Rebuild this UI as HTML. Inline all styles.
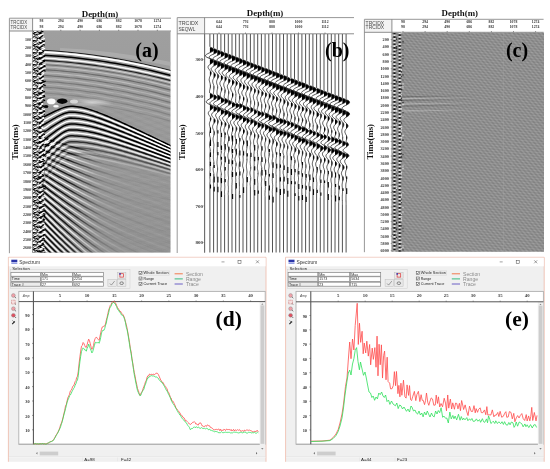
<!DOCTYPE html>
<html><head><meta charset="utf-8"><title>Seismic figure</title>
<style>
html,body{margin:0;padding:0;background:#fff;width:550px;height:469px;overflow:hidden}
svg{display:block;filter:blur(0.3px)}
</style></head><body>
<svg width="550" height="469" viewBox="0 0 550 469" shape-rendering="auto">
<rect x="9.4" y="18.2" width="23.2" height="12.8" fill="#f3f3f3"/>
<path d="M9.4,253.2 L9.4,18.2 L171,18.2" fill="none" stroke="#989898" stroke-width="1"/>
<line x1="9.4" y1="31" x2="171" y2="31" stroke="#808080" stroke-width="0.9"/>
<line x1="32.6" y1="18.2" x2="32.6" y2="252.8" stroke="#808080" stroke-width="0.9"/>
<text x="10.6" y="24.1" font-family="Liberation Sans, sans-serif" font-size="5.3" font-weight="normal" text-anchor="start" fill="#4a4a4a" textLength="16.5" lengthAdjust="spacingAndGlyphs">TRCIDX</text>
<text x="10.6" y="28.9" font-family="Liberation Sans, sans-serif" font-size="5.3" font-weight="normal" text-anchor="start" fill="#4a4a4a" textLength="16.5" lengthAdjust="spacingAndGlyphs">TRCIDX</text>
<text x="41.5" y="22.3" font-family="Liberation Serif, serif" font-size="3.8" font-weight="bold" text-anchor="middle" fill="#333" >98</text>
<text x="41.5" y="27.6" font-family="Liberation Serif, serif" font-size="3.8" font-weight="bold" text-anchor="middle" fill="#333" >98</text>
<line x1="41.5" y1="29.7" x2="41.5" y2="31" stroke="#555" stroke-width="0.6"/>
<text x="60.8" y="22.3" font-family="Liberation Serif, serif" font-size="3.8" font-weight="bold" text-anchor="middle" fill="#333" >294</text>
<text x="60.8" y="27.6" font-family="Liberation Serif, serif" font-size="3.8" font-weight="bold" text-anchor="middle" fill="#333" >294</text>
<line x1="60.8" y1="29.7" x2="60.8" y2="31" stroke="#555" stroke-width="0.6"/>
<text x="80.1" y="22.3" font-family="Liberation Serif, serif" font-size="3.8" font-weight="bold" text-anchor="middle" fill="#333" >490</text>
<text x="80.1" y="27.6" font-family="Liberation Serif, serif" font-size="3.8" font-weight="bold" text-anchor="middle" fill="#333" >490</text>
<line x1="80.1" y1="29.7" x2="80.1" y2="31" stroke="#555" stroke-width="0.6"/>
<text x="99.4" y="22.3" font-family="Liberation Serif, serif" font-size="3.8" font-weight="bold" text-anchor="middle" fill="#333" >686</text>
<text x="99.4" y="27.6" font-family="Liberation Serif, serif" font-size="3.8" font-weight="bold" text-anchor="middle" fill="#333" >686</text>
<line x1="99.4" y1="29.7" x2="99.4" y2="31" stroke="#555" stroke-width="0.6"/>
<text x="118.7" y="22.3" font-family="Liberation Serif, serif" font-size="3.8" font-weight="bold" text-anchor="middle" fill="#333" >882</text>
<text x="118.7" y="27.6" font-family="Liberation Serif, serif" font-size="3.8" font-weight="bold" text-anchor="middle" fill="#333" >882</text>
<line x1="118.7" y1="29.7" x2="118.7" y2="31" stroke="#555" stroke-width="0.6"/>
<text x="138" y="22.3" font-family="Liberation Serif, serif" font-size="3.8" font-weight="bold" text-anchor="middle" fill="#333" >1078</text>
<text x="138" y="27.6" font-family="Liberation Serif, serif" font-size="3.8" font-weight="bold" text-anchor="middle" fill="#333" >1078</text>
<line x1="138" y1="29.7" x2="138" y2="31" stroke="#555" stroke-width="0.6"/>
<text x="157.3" y="22.3" font-family="Liberation Serif, serif" font-size="3.8" font-weight="bold" text-anchor="middle" fill="#333" >1274</text>
<text x="157.3" y="27.6" font-family="Liberation Serif, serif" font-size="3.8" font-weight="bold" text-anchor="middle" fill="#333" >1274</text>
<line x1="157.3" y1="29.7" x2="157.3" y2="31" stroke="#555" stroke-width="0.6"/>
<text x="31.1" y="40.55" font-family="Liberation Serif, serif" font-size="4.0" font-weight="bold" text-anchor="end" fill="#333" >100</text>
<line x1="31.4" y1="38.65" x2="32.6" y2="38.65" stroke="#555" stroke-width="0.5"/>
<text x="31.1" y="48.9" font-family="Liberation Serif, serif" font-size="4.0" font-weight="bold" text-anchor="end" fill="#333" >200</text>
<line x1="31.4" y1="47" x2="32.6" y2="47" stroke="#555" stroke-width="0.5"/>
<text x="31.1" y="57.25" font-family="Liberation Serif, serif" font-size="4.0" font-weight="bold" text-anchor="end" fill="#333" >300</text>
<line x1="31.4" y1="55.35" x2="32.6" y2="55.35" stroke="#555" stroke-width="0.5"/>
<text x="31.1" y="65.6" font-family="Liberation Serif, serif" font-size="4.0" font-weight="bold" text-anchor="end" fill="#333" >400</text>
<line x1="31.4" y1="63.7" x2="32.6" y2="63.7" stroke="#555" stroke-width="0.5"/>
<text x="31.1" y="73.95" font-family="Liberation Serif, serif" font-size="4.0" font-weight="bold" text-anchor="end" fill="#333" >500</text>
<line x1="31.4" y1="72.05" x2="32.6" y2="72.05" stroke="#555" stroke-width="0.5"/>
<text x="31.1" y="82.3" font-family="Liberation Serif, serif" font-size="4.0" font-weight="bold" text-anchor="end" fill="#333" >600</text>
<line x1="31.4" y1="80.4" x2="32.6" y2="80.4" stroke="#555" stroke-width="0.5"/>
<text x="31.1" y="90.65" font-family="Liberation Serif, serif" font-size="4.0" font-weight="bold" text-anchor="end" fill="#333" >700</text>
<line x1="31.4" y1="88.75" x2="32.6" y2="88.75" stroke="#555" stroke-width="0.5"/>
<text x="31.1" y="99" font-family="Liberation Serif, serif" font-size="4.0" font-weight="bold" text-anchor="end" fill="#333" >800</text>
<line x1="31.4" y1="97.1" x2="32.6" y2="97.1" stroke="#555" stroke-width="0.5"/>
<text x="31.1" y="107.35" font-family="Liberation Serif, serif" font-size="4.0" font-weight="bold" text-anchor="end" fill="#333" >900</text>
<line x1="31.4" y1="105.45" x2="32.6" y2="105.45" stroke="#555" stroke-width="0.5"/>
<text x="31.1" y="115.7" font-family="Liberation Serif, serif" font-size="4.0" font-weight="bold" text-anchor="end" fill="#333" >1000</text>
<line x1="31.4" y1="113.8" x2="32.6" y2="113.8" stroke="#555" stroke-width="0.5"/>
<text x="31.1" y="124.05" font-family="Liberation Serif, serif" font-size="4.0" font-weight="bold" text-anchor="end" fill="#333" >1100</text>
<line x1="31.4" y1="122.15" x2="32.6" y2="122.15" stroke="#555" stroke-width="0.5"/>
<text x="31.1" y="132.4" font-family="Liberation Serif, serif" font-size="4.0" font-weight="bold" text-anchor="end" fill="#333" >1200</text>
<line x1="31.4" y1="130.5" x2="32.6" y2="130.5" stroke="#555" stroke-width="0.5"/>
<text x="31.1" y="140.75" font-family="Liberation Serif, serif" font-size="4.0" font-weight="bold" text-anchor="end" fill="#333" >1300</text>
<line x1="31.4" y1="138.85" x2="32.6" y2="138.85" stroke="#555" stroke-width="0.5"/>
<text x="31.1" y="149.1" font-family="Liberation Serif, serif" font-size="4.0" font-weight="bold" text-anchor="end" fill="#333" >1400</text>
<line x1="31.4" y1="147.2" x2="32.6" y2="147.2" stroke="#555" stroke-width="0.5"/>
<text x="31.1" y="157.45" font-family="Liberation Serif, serif" font-size="4.0" font-weight="bold" text-anchor="end" fill="#333" >1500</text>
<line x1="31.4" y1="155.55" x2="32.6" y2="155.55" stroke="#555" stroke-width="0.5"/>
<text x="31.1" y="165.8" font-family="Liberation Serif, serif" font-size="4.0" font-weight="bold" text-anchor="end" fill="#333" >1600</text>
<line x1="31.4" y1="163.9" x2="32.6" y2="163.9" stroke="#555" stroke-width="0.5"/>
<text x="31.1" y="174.15" font-family="Liberation Serif, serif" font-size="4.0" font-weight="bold" text-anchor="end" fill="#333" >1700</text>
<line x1="31.4" y1="172.25" x2="32.6" y2="172.25" stroke="#555" stroke-width="0.5"/>
<text x="31.1" y="182.5" font-family="Liberation Serif, serif" font-size="4.0" font-weight="bold" text-anchor="end" fill="#333" >1800</text>
<line x1="31.4" y1="180.6" x2="32.6" y2="180.6" stroke="#555" stroke-width="0.5"/>
<text x="31.1" y="190.85" font-family="Liberation Serif, serif" font-size="4.0" font-weight="bold" text-anchor="end" fill="#333" >1900</text>
<line x1="31.4" y1="188.95" x2="32.6" y2="188.95" stroke="#555" stroke-width="0.5"/>
<text x="31.1" y="199.2" font-family="Liberation Serif, serif" font-size="4.0" font-weight="bold" text-anchor="end" fill="#333" >2000</text>
<line x1="31.4" y1="197.3" x2="32.6" y2="197.3" stroke="#555" stroke-width="0.5"/>
<text x="31.1" y="207.55" font-family="Liberation Serif, serif" font-size="4.0" font-weight="bold" text-anchor="end" fill="#333" >2100</text>
<line x1="31.4" y1="205.65" x2="32.6" y2="205.65" stroke="#555" stroke-width="0.5"/>
<text x="31.1" y="215.9" font-family="Liberation Serif, serif" font-size="4.0" font-weight="bold" text-anchor="end" fill="#333" >2200</text>
<line x1="31.4" y1="214" x2="32.6" y2="214" stroke="#555" stroke-width="0.5"/>
<text x="31.1" y="224.25" font-family="Liberation Serif, serif" font-size="4.0" font-weight="bold" text-anchor="end" fill="#333" >2300</text>
<line x1="31.4" y1="222.35" x2="32.6" y2="222.35" stroke="#555" stroke-width="0.5"/>
<text x="31.1" y="232.6" font-family="Liberation Serif, serif" font-size="4.0" font-weight="bold" text-anchor="end" fill="#333" >2400</text>
<line x1="31.4" y1="230.7" x2="32.6" y2="230.7" stroke="#555" stroke-width="0.5"/>
<text x="31.1" y="240.95" font-family="Liberation Serif, serif" font-size="4.0" font-weight="bold" text-anchor="end" fill="#333" >2500</text>
<line x1="31.4" y1="239.05" x2="32.6" y2="239.05" stroke="#555" stroke-width="0.5"/>
<text x="31.1" y="249.3" font-family="Liberation Serif, serif" font-size="4.0" font-weight="bold" text-anchor="end" fill="#333" >2600</text>
<line x1="31.4" y1="247.4" x2="32.6" y2="247.4" stroke="#555" stroke-width="0.5"/>
<text x="100" y="16.5" font-family="Liberation Serif, serif" font-size="8.9" font-weight="bold" text-anchor="middle" fill="#111" >Depth(m)</text>
<text transform="translate(18.2,142) rotate(-90)" font-family="Liberation Serif, serif" font-size="8.7" font-weight="bold" text-anchor="middle" fill="#111">Time(ms)</text>
<clipPath id="ca"><rect x="32.6" y="31" width="137.9" height="221.6"/></clipPath>
<clipPath id="ca2"><path d="M44,66 Q100,66 171,84 L171,253 L44,253 Z"/></clipPath>
<linearGradient id="fadeK" gradientUnits="userSpaceOnUse" x1="44" y1="0" x2="171" y2="0"><stop offset="0" stop-color="#000" stop-opacity="1"/><stop offset="0.2" stop-color="#000" stop-opacity="0.8"/><stop offset="0.45" stop-color="#000" stop-opacity="0.16"/><stop offset="0.65" stop-color="#000" stop-opacity="0.05"/><stop offset="1" stop-color="#000" stop-opacity="0.03"/></linearGradient>
<linearGradient id="fadeW" gradientUnits="userSpaceOnUse" x1="44" y1="0" x2="171" y2="0"><stop offset="0" stop-color="#fff" stop-opacity="1"/><stop offset="0.2" stop-color="#fff" stop-opacity="0.8"/><stop offset="0.45" stop-color="#fff" stop-opacity="0.16"/><stop offset="0.65" stop-color="#fff" stop-opacity="0.05"/><stop offset="1" stop-color="#fff" stop-opacity="0.03"/></linearGradient>
<pattern id="chk" x="32.6" y="31" width="8" height="12" patternUnits="userSpaceOnUse"><rect width="8" height="12" fill="#8a8a8a"/><rect x="0" y="0" width="1" height="1" fill="#0c0c0c"/><rect x="1" y="0" width="1" height="1" fill="#f6f6f6"/><rect x="2" y="0" width="1" height="1" fill="#f6f6f6"/><rect x="3" y="0" width="1" height="1" fill="#f6f6f6"/><rect x="4" y="0" width="1" height="1" fill="#0c0c0c"/><rect x="7" y="0" width="1" height="1" fill="#f6f6f6"/><rect x="0" y="1" width="1" height="1" fill="#f6f6f6"/><rect x="1" y="1" width="1" height="1" fill="#0c0c0c"/><rect x="2" y="1" width="1" height="1" fill="#0c0c0c"/><rect x="3" y="1" width="1" height="1" fill="#0c0c0c"/><rect x="4" y="1" width="1" height="1" fill="#f6f6f6"/><rect x="5" y="1" width="1" height="1" fill="#0c0c0c"/><rect x="7" y="1" width="1" height="1" fill="#0c0c0c"/><rect x="0" y="2" width="1" height="1" fill="#0c0c0c"/><rect x="1" y="2" width="1" height="1" fill="#0c0c0c"/><rect x="3" y="2" width="1" height="1" fill="#f6f6f6"/><rect x="5" y="2" width="1" height="1" fill="#f6f6f6"/><rect x="6" y="2" width="1" height="1" fill="#0c0c0c"/><rect x="7" y="2" width="1" height="1" fill="#0c0c0c"/><rect x="0" y="3" width="1" height="1" fill="#f6f6f6"/><rect x="1" y="3" width="1" height="1" fill="#0c0c0c"/><rect x="3" y="3" width="1" height="1" fill="#0c0c0c"/><rect x="4" y="3" width="1" height="1" fill="#0c0c0c"/><rect x="6" y="3" width="1" height="1" fill="#0c0c0c"/><rect x="0" y="4" width="1" height="1" fill="#f6f6f6"/><rect x="1" y="4" width="1" height="1" fill="#f6f6f6"/><rect x="2" y="4" width="1" height="1" fill="#0c0c0c"/><rect x="3" y="4" width="1" height="1" fill="#f6f6f6"/><rect x="4" y="4" width="1" height="1" fill="#0c0c0c"/><rect x="5" y="4" width="1" height="1" fill="#0c0c0c"/><rect x="7" y="4" width="1" height="1" fill="#0c0c0c"/><rect x="1" y="5" width="1" height="1" fill="#0c0c0c"/><rect x="4" y="5" width="1" height="1" fill="#f6f6f6"/><rect x="6" y="5" width="1" height="1" fill="#f6f6f6"/><rect x="7" y="5" width="1" height="1" fill="#f6f6f6"/><rect x="0" y="6" width="1" height="1" fill="#0c0c0c"/><rect x="1" y="6" width="1" height="1" fill="#f6f6f6"/><rect x="3" y="6" width="1" height="1" fill="#0c0c0c"/><rect x="6" y="6" width="1" height="1" fill="#f6f6f6"/><rect x="7" y="6" width="1" height="1" fill="#0c0c0c"/><rect x="0" y="7" width="1" height="1" fill="#f6f6f6"/><rect x="1" y="7" width="1" height="1" fill="#f6f6f6"/><rect x="3" y="7" width="1" height="1" fill="#f6f6f6"/><rect x="4" y="7" width="1" height="1" fill="#0c0c0c"/><rect x="5" y="7" width="1" height="1" fill="#0c0c0c"/><rect x="6" y="7" width="1" height="1" fill="#f6f6f6"/><rect x="0" y="8" width="1" height="1" fill="#f6f6f6"/><rect x="1" y="8" width="1" height="1" fill="#f6f6f6"/><rect x="2" y="8" width="1" height="1" fill="#f6f6f6"/><rect x="3" y="8" width="1" height="1" fill="#f6f6f6"/><rect x="4" y="8" width="1" height="1" fill="#0c0c0c"/><rect x="5" y="8" width="1" height="1" fill="#f6f6f6"/><rect x="6" y="8" width="1" height="1" fill="#f6f6f6"/><rect x="7" y="8" width="1" height="1" fill="#f6f6f6"/><rect x="0" y="9" width="1" height="1" fill="#0c0c0c"/><rect x="1" y="9" width="1" height="1" fill="#0c0c0c"/><rect x="2" y="9" width="1" height="1" fill="#0c0c0c"/><rect x="4" y="9" width="1" height="1" fill="#0c0c0c"/><rect x="5" y="9" width="1" height="1" fill="#f6f6f6"/><rect x="6" y="9" width="1" height="1" fill="#0c0c0c"/><rect x="7" y="9" width="1" height="1" fill="#0c0c0c"/><rect x="0" y="10" width="1" height="1" fill="#0c0c0c"/><rect x="3" y="10" width="1" height="1" fill="#0c0c0c"/><rect x="4" y="10" width="1" height="1" fill="#f6f6f6"/><rect x="5" y="10" width="1" height="1" fill="#f6f6f6"/><rect x="0" y="11" width="1" height="1" fill="#f6f6f6"/><rect x="3" y="11" width="1" height="1" fill="#f6f6f6"/><rect x="5" y="11" width="1" height="1" fill="#f6f6f6"/><rect x="6" y="11" width="1" height="1" fill="#0c0c0c"/><rect x="7" y="11" width="1" height="1" fill="#0c0c0c"/></pattern>
<linearGradient id="bgA" x1="0" y1="0" x2="0" y2="1"><stop offset="0" stop-color="#9f9f9f"/><stop offset="0.5" stop-color="#999"/><stop offset="1" stop-color="#929292"/></linearGradient>
<rect x="32.6" y="31" width="137.9" height="221.6" fill="url(#bgA)"/>
<radialGradient id="haze"><stop offset="0" stop-color="#e0e0e0" stop-opacity="0.75"/><stop offset="1" stop-color="#e0e0e0" stop-opacity="0"/></radialGradient>
<g clip-path="url(#ca)">
<g clip-path="url(#ca2)">
<path d="M44,30 L171,83.34" stroke="#c4c4c4" stroke-width="1.1" opacity="0.1"/>
<path d="M44,33 L171,86.34" stroke="#767676" stroke-width="1.1" opacity="0.1"/>
<path d="M44,36 L171,89.34" stroke="#c4c4c4" stroke-width="1.1" opacity="0.1"/>
<path d="M44,39 L171,92.34" stroke="#767676" stroke-width="1.1" opacity="0.1"/>
<path d="M44,42 L171,95.34" stroke="#c4c4c4" stroke-width="1.1" opacity="0.1"/>
<path d="M44,45 L171,98.34" stroke="#767676" stroke-width="1.1" opacity="0.1"/>
<path d="M44,48 L171,101.34" stroke="#c4c4c4" stroke-width="1.1" opacity="0.1"/>
<path d="M44,51 L171,104.34" stroke="#767676" stroke-width="1.1" opacity="0.1"/>
<path d="M44,54 L171,107.34" stroke="#c4c4c4" stroke-width="1.1" opacity="0.1"/>
<path d="M44,57 L171,110.34" stroke="#767676" stroke-width="1.1" opacity="0.1"/>
<path d="M44,60 L171,113.34" stroke="#c4c4c4" stroke-width="1.1" opacity="0.1"/>
<path d="M44,63 L171,116.34" stroke="#767676" stroke-width="1.1" opacity="0.1"/>
<path d="M44,66 L171,119.34" stroke="#c4c4c4" stroke-width="1.1" opacity="0.1"/>
<path d="M44,69 L171,122.34" stroke="#767676" stroke-width="1.1" opacity="0.1"/>
<path d="M44,72 L171,125.34" stroke="#c4c4c4" stroke-width="1.1" opacity="0.1"/>
<path d="M44,75 L171,128.34" stroke="#767676" stroke-width="1.1" opacity="0.1"/>
<path d="M44,78 L171,131.34" stroke="#c4c4c4" stroke-width="1.1" opacity="0.1"/>
<path d="M44,81 L171,134.34" stroke="#767676" stroke-width="1.1" opacity="0.1"/>
<path d="M44,84 L171,137.34" stroke="#c4c4c4" stroke-width="1.1" opacity="0.1"/>
<path d="M44,87 L171,140.34" stroke="#767676" stroke-width="1.1" opacity="0.1"/>
<path d="M44,90 L171,143.34" stroke="#c4c4c4" stroke-width="1.1" opacity="0.1"/>
<path d="M44,93 L171,146.34" stroke="#767676" stroke-width="1.1" opacity="0.1"/>
<path d="M44,96 L171,149.34" stroke="#c4c4c4" stroke-width="1.1" opacity="0.1"/>
<path d="M44,99 L171,152.34" stroke="#767676" stroke-width="1.1" opacity="0.1"/>
<path d="M44,102 L171,155.34" stroke="#c4c4c4" stroke-width="1.1" opacity="0.1"/>
<path d="M44,105 L171,158.34" stroke="#767676" stroke-width="1.1" opacity="0.1"/>
<path d="M44,108 L171,161.34" stroke="#c4c4c4" stroke-width="1.1" opacity="0.1"/>
<path d="M44,111 L171,164.34" stroke="#767676" stroke-width="1.1" opacity="0.1"/>
<path d="M44,114 L171,167.34" stroke="#c4c4c4" stroke-width="1.1" opacity="0.1"/>
<path d="M44,117 L171,170.34" stroke="#767676" stroke-width="1.1" opacity="0.1"/>
<path d="M44,120 L171,173.34" stroke="#c4c4c4" stroke-width="1.1" opacity="0.1"/>
<path d="M44,123 L171,176.34" stroke="#767676" stroke-width="1.1" opacity="0.1"/>
<path d="M44,126 L171,179.34" stroke="#c4c4c4" stroke-width="1.1" opacity="0.1"/>
<path d="M44,129 L171,182.34" stroke="#767676" stroke-width="1.1" opacity="0.1"/>
<path d="M44,132 L171,185.34" stroke="#c4c4c4" stroke-width="1.1" opacity="0.1"/>
<path d="M44,135 L171,188.34" stroke="#767676" stroke-width="1.1" opacity="0.1"/>
<path d="M44,138 L171,191.34" stroke="#c4c4c4" stroke-width="1.1" opacity="0.1"/>
<path d="M44,141 L171,194.34" stroke="#767676" stroke-width="1.1" opacity="0.1"/>
<path d="M44,144 L171,197.34" stroke="#c4c4c4" stroke-width="1.1" opacity="0.1"/>
<path d="M44,147 L171,200.34" stroke="#767676" stroke-width="1.1" opacity="0.1"/>
<path d="M44,150 L171,203.34" stroke="#c4c4c4" stroke-width="1.1" opacity="0.1"/>
<path d="M44,153 L171,206.34" stroke="#767676" stroke-width="1.1" opacity="0.1"/>
<path d="M44,156 L171,209.34" stroke="#c4c4c4" stroke-width="1.1" opacity="0.1"/>
<path d="M44,159 L171,212.34" stroke="#767676" stroke-width="1.1" opacity="0.1"/>
<path d="M44,162 L171,215.34" stroke="#c4c4c4" stroke-width="1.1" opacity="0.1"/>
<path d="M44,165 L171,218.34" stroke="#767676" stroke-width="1.1" opacity="0.1"/>
<path d="M44,168 L171,221.34" stroke="#c4c4c4" stroke-width="1.1" opacity="0.1"/>
<path d="M44,171 L171,224.34" stroke="#767676" stroke-width="1.1" opacity="0.1"/>
<path d="M44,174 L171,227.34" stroke="#c4c4c4" stroke-width="1.1" opacity="0.1"/>
<path d="M44,177 L171,230.34" stroke="#767676" stroke-width="1.1" opacity="0.1"/>
<path d="M44,180 L171,233.34" stroke="#c4c4c4" stroke-width="1.1" opacity="0.1"/>
<path d="M44,183 L171,236.34" stroke="#767676" stroke-width="1.1" opacity="0.1"/>
<path d="M44,186 L171,239.34" stroke="#c4c4c4" stroke-width="1.1" opacity="0.1"/>
<path d="M44,189 L171,242.34" stroke="#767676" stroke-width="1.1" opacity="0.1"/>
<path d="M44,192 L171,245.34" stroke="#c4c4c4" stroke-width="1.1" opacity="0.1"/>
<path d="M44,195 L171,248.34" stroke="#767676" stroke-width="1.1" opacity="0.1"/>
<path d="M44,198 L171,251.34" stroke="#c4c4c4" stroke-width="1.1" opacity="0.1"/>
<path d="M44,201 L171,254.34" stroke="#767676" stroke-width="1.1" opacity="0.1"/>
<path d="M44,204 L171,257.34" stroke="#c4c4c4" stroke-width="1.1" opacity="0.1"/>
<path d="M44,207 L171,260.34" stroke="#767676" stroke-width="1.1" opacity="0.1"/>
<path d="M44,210 L171,263.34" stroke="#c4c4c4" stroke-width="1.1" opacity="0.1"/>
<path d="M44,213 L171,266.34" stroke="#767676" stroke-width="1.1" opacity="0.1"/>
<path d="M44,216 L171,269.34" stroke="#c4c4c4" stroke-width="1.1" opacity="0.1"/>
<path d="M44,219 L171,272.34" stroke="#767676" stroke-width="1.1" opacity="0.1"/>
<path d="M44,222 L171,275.34" stroke="#c4c4c4" stroke-width="1.1" opacity="0.1"/>
<path d="M44,225 L171,278.34" stroke="#767676" stroke-width="1.1" opacity="0.1"/>
<path d="M44,228 L171,281.34" stroke="#c4c4c4" stroke-width="1.1" opacity="0.1"/>
<path d="M44,231 L171,284.34" stroke="#767676" stroke-width="1.1" opacity="0.1"/>
<path d="M44,234 L171,287.34" stroke="#c4c4c4" stroke-width="1.1" opacity="0.1"/>
<path d="M44,237 L171,290.34" stroke="#767676" stroke-width="1.1" opacity="0.1"/>
<path d="M44,240 L171,293.34" stroke="#c4c4c4" stroke-width="1.1" opacity="0.1"/>
<path d="M44,243 L171,296.34" stroke="#767676" stroke-width="1.1" opacity="0.1"/>
<path d="M44,246 L171,299.34" stroke="#c4c4c4" stroke-width="1.1" opacity="0.1"/>
<path d="M44,249 L171,302.34" stroke="#767676" stroke-width="1.1" opacity="0.1"/>
<path d="M44,100 L171,72.06" stroke="#c0c0c0" stroke-width="1" opacity="0.07"/>
<path d="M44,103.2 L171,75.26" stroke="#7a7a7a" stroke-width="1" opacity="0.07"/>
<path d="M44,106.4 L171,78.46" stroke="#c0c0c0" stroke-width="1" opacity="0.07"/>
<path d="M44,109.6 L171,81.66" stroke="#7a7a7a" stroke-width="1" opacity="0.07"/>
<path d="M44,112.8 L171,84.86" stroke="#c0c0c0" stroke-width="1" opacity="0.07"/>
<path d="M44,116 L171,88.06" stroke="#7a7a7a" stroke-width="1" opacity="0.07"/>
<path d="M44,119.2 L171,91.26" stroke="#c0c0c0" stroke-width="1" opacity="0.07"/>
<path d="M44,122.4 L171,94.46" stroke="#7a7a7a" stroke-width="1" opacity="0.07"/>
<path d="M44,125.6 L171,97.66" stroke="#c0c0c0" stroke-width="1" opacity="0.07"/>
<path d="M44,128.8 L171,100.86" stroke="#7a7a7a" stroke-width="1" opacity="0.07"/>
<path d="M44,132 L171,104.06" stroke="#c0c0c0" stroke-width="1" opacity="0.07"/>
<path d="M44,135.2 L171,107.26" stroke="#7a7a7a" stroke-width="1" opacity="0.07"/>
<path d="M44,138.4 L171,110.46" stroke="#c0c0c0" stroke-width="1" opacity="0.07"/>
<path d="M44,141.6 L171,113.66" stroke="#7a7a7a" stroke-width="1" opacity="0.07"/>
<path d="M44,144.8 L171,116.86" stroke="#c0c0c0" stroke-width="1" opacity="0.07"/>
<path d="M44,148 L171,120.06" stroke="#7a7a7a" stroke-width="1" opacity="0.07"/>
<path d="M44,151.2 L171,123.26" stroke="#c0c0c0" stroke-width="1" opacity="0.07"/>
<path d="M44,154.4 L171,126.46" stroke="#7a7a7a" stroke-width="1" opacity="0.07"/>
<path d="M44,157.6 L171,129.66" stroke="#c0c0c0" stroke-width="1" opacity="0.07"/>
<path d="M44,160.8 L171,132.86" stroke="#7a7a7a" stroke-width="1" opacity="0.07"/>
<path d="M44,164 L171,136.06" stroke="#c0c0c0" stroke-width="1" opacity="0.07"/>
<path d="M44,167.2 L171,139.26" stroke="#7a7a7a" stroke-width="1" opacity="0.07"/>
<path d="M44,170.4 L171,142.46" stroke="#c0c0c0" stroke-width="1" opacity="0.07"/>
<path d="M44,173.6 L171,145.66" stroke="#7a7a7a" stroke-width="1" opacity="0.07"/>
<path d="M44,176.8 L171,148.86" stroke="#c0c0c0" stroke-width="1" opacity="0.07"/>
<path d="M44,180 L171,152.06" stroke="#7a7a7a" stroke-width="1" opacity="0.07"/>
<path d="M44,183.2 L171,155.26" stroke="#c0c0c0" stroke-width="1" opacity="0.07"/>
<path d="M44,186.4 L171,158.46" stroke="#7a7a7a" stroke-width="1" opacity="0.07"/>
<path d="M44,189.6 L171,161.66" stroke="#c0c0c0" stroke-width="1" opacity="0.07"/>
<path d="M44,192.8 L171,164.86" stroke="#7a7a7a" stroke-width="1" opacity="0.07"/>
<path d="M44,196 L171,168.06" stroke="#c0c0c0" stroke-width="1" opacity="0.07"/>
<path d="M44,199.2 L171,171.26" stroke="#7a7a7a" stroke-width="1" opacity="0.07"/>
<path d="M44,202.4 L171,174.46" stroke="#c0c0c0" stroke-width="1" opacity="0.07"/>
<path d="M44,205.6 L171,177.66" stroke="#7a7a7a" stroke-width="1" opacity="0.07"/>
<path d="M44,208.8 L171,180.86" stroke="#c0c0c0" stroke-width="1" opacity="0.07"/>
<path d="M44,212 L171,184.06" stroke="#7a7a7a" stroke-width="1" opacity="0.07"/>
<path d="M44,215.2 L171,187.26" stroke="#c0c0c0" stroke-width="1" opacity="0.07"/>
<path d="M44,218.4 L171,190.46" stroke="#7a7a7a" stroke-width="1" opacity="0.07"/>
<path d="M44,221.6 L171,193.66" stroke="#c0c0c0" stroke-width="1" opacity="0.07"/>
<path d="M44,224.8 L171,196.86" stroke="#7a7a7a" stroke-width="1" opacity="0.07"/>
<path d="M44,228 L171,200.06" stroke="#c0c0c0" stroke-width="1" opacity="0.07"/>
<path d="M44,231.2 L171,203.26" stroke="#7a7a7a" stroke-width="1" opacity="0.07"/>
<path d="M44,234.4 L171,206.46" stroke="#c0c0c0" stroke-width="1" opacity="0.07"/>
<path d="M44,237.6 L171,209.66" stroke="#7a7a7a" stroke-width="1" opacity="0.07"/>
<path d="M44,240.8 L171,212.86" stroke="#c0c0c0" stroke-width="1" opacity="0.07"/>
<path d="M44,244 L171,216.06" stroke="#7a7a7a" stroke-width="1" opacity="0.07"/>
<path d="M44,247.2 L171,219.26" stroke="#c0c0c0" stroke-width="1" opacity="0.07"/>
<path d="M44,250.4 L171,222.46" stroke="#7a7a7a" stroke-width="1" opacity="0.07"/>
<path d="M44,253.6 L171,225.66" stroke="#c0c0c0" stroke-width="1" opacity="0.07"/>
<path d="M44,256.8 L171,228.86" stroke="#7a7a7a" stroke-width="1" opacity="0.07"/>
<path d="M44,260 L171,232.06" stroke="#c0c0c0" stroke-width="1" opacity="0.07"/>
<path d="M44,263.2 L171,235.26" stroke="#7a7a7a" stroke-width="1" opacity="0.07"/>
<path d="M44,266.4 L171,238.46" stroke="#c0c0c0" stroke-width="1" opacity="0.07"/>
<path d="M44,269.6 L171,241.66" stroke="#7a7a7a" stroke-width="1" opacity="0.07"/>
<path d="M44,272.8 L171,244.86" stroke="#c0c0c0" stroke-width="1" opacity="0.07"/>
<path d="M44,276 L171,248.06" stroke="#7a7a7a" stroke-width="1" opacity="0.07"/>
<path d="M44,279.2 L171,251.26" stroke="#c0c0c0" stroke-width="1" opacity="0.07"/>
<path d="M44,282.4 L171,254.46" stroke="#7a7a7a" stroke-width="1" opacity="0.07"/>
<path d="M44,285.6 L171,257.66" stroke="#c0c0c0" stroke-width="1" opacity="0.07"/>
<path d="M44,288.8 L171,260.86" stroke="#7a7a7a" stroke-width="1" opacity="0.07"/>
<path d="M44,292 L171,264.06" stroke="#c0c0c0" stroke-width="1" opacity="0.07"/>
<path d="M44,295.2 L171,267.26" stroke="#7a7a7a" stroke-width="1" opacity="0.07"/>
<path d="M44,298.4 L171,270.46" stroke="#c0c0c0" stroke-width="1" opacity="0.07"/>
<path d="M44,301.6 L171,273.66" stroke="#7a7a7a" stroke-width="1" opacity="0.07"/>
<path d="M44,304.8 L171,276.86" stroke="#c0c0c0" stroke-width="1" opacity="0.07"/>
<path d="M44,308 L171,280.06" stroke="#7a7a7a" stroke-width="1" opacity="0.07"/>
<path d="M44,311.2 L171,283.26" stroke="#c0c0c0" stroke-width="1" opacity="0.07"/>
<path d="M44,314.4 L171,286.46" stroke="#7a7a7a" stroke-width="1" opacity="0.07"/>
<path d="M44,317.6 L171,289.66" stroke="#c0c0c0" stroke-width="1" opacity="0.07"/>
<path d="M44,320.8 L171,292.86" stroke="#7a7a7a" stroke-width="1" opacity="0.07"/>
</g>
<path d="M60,50 Q110,52 171,64" stroke="#b6b6b6" stroke-width="4" fill="none" opacity="0.6"/>
<path d="M43,50.24L47,50.48L51,50.74L55,51.02L59,51.34L63,51.67L67,52.04L71,52.43L75,52.84L79,53.28L83,53.75L87,54.24L91,54.76L95,55.31L99,55.88L103,56.47L107,57.09L111,57.74L115,58.42L119,59.11L123,59.84L127,60.59L131,61.37L135,62.17L139,63L143,63.85L147,64.73L151,65.64L155,66.57L159,67.53L163,68.51L167,69.52L171,70.56" stroke="#000" stroke-width="0.9" fill="none" opacity="0.9"/>
<path d="M43,51.94L47,52.18L51,52.44L55,52.72L59,53.04L63,53.37L67,53.74L71,54.13L75,54.54L79,54.98L83,55.45L87,55.94L91,56.46L95,57.01L99,57.58L103,58.17L107,58.79L111,59.44L115,60.12L119,60.81L123,61.54L127,62.29L131,63.07L135,63.87L139,64.7L143,65.55L147,66.43L151,67.34L155,68.27L159,69.23L163,70.21L167,71.22L171,72.26" stroke="#fff" stroke-width="1.9" fill="none" opacity="1"/>
<path d="M43,55.14L47,55.38L51,55.64L55,55.92L59,56.24L63,56.57L67,56.94L71,57.33L75,57.74L79,58.18L83,58.65L87,59.14L91,59.66L95,60.21L99,60.78L103,61.37L107,61.99L111,62.64L115,63.32L119,64.01L123,64.74L127,65.49L131,66.27L135,67.07L139,67.9L143,68.75L147,69.63L151,70.54L155,71.47L159,72.43L163,73.41L167,74.42L171,75.46" stroke="#000" stroke-width="1.5" fill="none" opacity="1"/>
<path d="M43,58.04L47,58.28L51,58.54L55,58.82L59,59.14L63,59.47L67,59.84L71,60.23L75,60.64L79,61.08L83,61.55L87,62.04L91,62.56L95,63.11L99,63.68L103,64.27L107,64.89L111,65.54L115,66.22L119,66.91L123,67.64L127,68.39L131,69.17L135,69.97L139,70.8L143,71.65L147,72.53L151,73.44L155,74.37L159,75.33L163,76.31L167,77.32L171,78.36" stroke="#fff" stroke-width="1.5" fill="none" opacity="0.95"/>
<path d="M43,60.34L47,60.58L51,60.84L55,61.12L59,61.44L63,61.77L67,62.14L71,62.53L75,62.94L79,63.38L83,63.85L87,64.34L91,64.86L95,65.41L99,65.98L103,66.57L107,67.19L111,67.84L115,68.52L119,69.21L123,69.94L127,70.69L131,71.47L135,72.27L139,73.1L143,73.95L147,74.83L151,75.74L155,76.67L159,77.63L163,78.61L167,79.62L171,80.66" stroke="#000" stroke-width="1.1" fill="none" opacity="0.8"/>
<path d="M43,62.54L47,62.78L51,63.04L55,63.32L59,63.64L63,63.97L67,64.34L71,64.73L75,65.14L79,65.58L83,66.05L87,66.54L91,67.06L95,67.61L99,68.18L103,68.77L107,69.39L111,70.04L115,70.72L119,71.41L123,72.14L127,72.89L131,73.67L135,74.47L139,75.3L143,76.15L147,77.03L151,77.94L155,78.87L159,79.83L163,80.81L167,81.82L171,82.86" stroke="#fff" stroke-width="1.0" fill="none" opacity="0.55"/>
<path d="M43,64.64L47,64.88L51,65.14L55,65.42L59,65.74L63,66.07L67,66.44L71,66.83L75,67.24L79,67.68L83,68.15L87,68.64L91,69.16L95,69.71L99,70.28L103,70.87L107,71.49L111,72.14L115,72.82L119,73.51L123,74.24L127,74.99L131,75.77L135,76.57L139,77.4L143,78.25L147,79.13L151,80.04L155,80.97L159,81.93L163,82.91L167,83.92L171,84.96" stroke="#000" stroke-width="0.9" fill="none" opacity="0.35"/>
<path d="M43,66.74L47,66.98L51,67.24L55,67.52L59,67.84L63,68.17L67,68.54L71,68.93L75,69.34L79,69.78L83,70.25L87,70.74L91,71.26L95,71.81L99,72.38L103,72.97L107,73.59L111,74.24L115,74.92L119,75.61L123,76.34L127,77.09L131,77.87L135,78.67L139,79.5L143,80.35L147,81.23L151,82.14L155,83.07L159,84.03L163,85.01L167,86.02L171,87.06" stroke="#fff" stroke-width="1.2" fill="none" opacity="0.34"/>
<path d="M43,69.64L47,69.88L51,70.15L55,70.44L59,70.76L63,71.11L67,71.48L71,71.87L75,72.29L79,72.74L83,73.22L87,73.71L91,74.24L95,74.79L99,75.37L103,75.97L107,76.6L111,77.25L115,77.93L119,78.64L123,79.37L127,80.13L131,80.91L135,81.72L139,82.56L143,83.42L147,84.3L151,85.22L155,86.16L159,87.12L163,88.11L167,89.13L171,90.17" stroke="#000" stroke-width="1.2" fill="none" opacity="0.32"/>
<path d="M43,72.54L47,72.79L51,73.06L55,73.36L59,73.69L63,74.04L67,74.41L71,74.82L75,75.25L79,75.7L83,76.18L87,76.69L91,77.22L95,77.78L99,78.36L103,78.97L107,79.6L111,80.26L115,80.95L119,81.66L123,82.4L127,83.17L131,83.96L135,84.77L139,85.61L143,86.48L147,87.38L151,88.3L155,89.24L159,90.21L163,91.21L167,92.23L171,93.28" stroke="#fff" stroke-width="1.2" fill="none" opacity="0.3"/>
<path d="M43,75.44L47,75.69L51,75.97L55,76.28L59,76.61L63,76.97L67,77.35L71,77.76L75,78.2L79,78.66L83,79.15L87,79.66L91,80.2L95,80.76L99,81.35L103,81.97L107,82.61L111,83.28L115,83.97L119,84.69L123,85.43L127,86.21L131,87L135,87.82L139,88.67L143,89.55L147,90.45L151,91.37L155,92.33L159,93.3L163,94.31L167,95.34L171,96.39" stroke="#000" stroke-width="1.2" fill="none" opacity="0.27"/>
<path d="M43,78.34L47,78.6L51,78.89L55,79.2L59,79.54L63,79.9L67,80.29L71,80.71L75,81.15L79,81.62L83,82.11L87,82.63L91,83.17L95,83.75L99,84.34L103,84.97L107,85.61L111,86.29L115,86.99L119,87.71L123,88.47L127,89.24L131,90.05L135,90.88L139,91.73L143,92.61L147,93.52L151,94.45L155,95.41L159,96.39L163,97.4L167,98.44L171,99.5" stroke="#fff" stroke-width="1.2" fill="none" opacity="0.25"/>
<path d="M43,81.24L47,81.5L51,81.8L55,82.12L59,82.46L63,82.83L67,83.23L71,83.65L75,84.1L79,84.58L83,85.08L87,85.6L91,86.15L95,86.73L99,87.33L103,87.96L107,88.62L111,89.3L115,90.01L119,90.74L123,91.5L127,92.28L131,93.09L135,93.93L139,94.79L143,95.68L147,96.59L151,97.53L155,98.5L159,99.49L163,100.5L167,101.55L171,102.61" stroke="#000" stroke-width="1.2" fill="none" opacity="0.23"/>
<path d="M43,84.13L47,84.41L51,84.71L55,85.03L59,85.39L63,85.76L67,86.17L71,86.6L75,87.05L79,87.53L83,88.04L87,88.57L91,89.13L95,89.72L99,90.33L103,90.96L107,91.62L111,92.31L115,93.03L119,93.76L123,94.53L127,95.32L131,96.14L135,96.98L139,97.85L143,98.74L147,99.66L151,100.61L155,101.58L159,102.58L163,103.6L167,104.65L171,105.73" stroke="#fff" stroke-width="1.2" fill="none" opacity="0.21"/>
<path d="M43,87.03L47,87.31L51,87.62L55,87.95L59,88.31L63,88.7L67,89.11L71,89.54L75,90L79,90.49L83,91.01L87,91.54L91,92.11L95,92.7L99,93.32L103,93.96L107,94.63L111,95.32L115,96.04L119,96.79L123,97.56L127,98.36L131,99.18L135,100.03L139,100.91L143,101.81L147,102.73L151,103.69L155,104.67L159,105.67L163,106.7L167,107.76L171,108.84" stroke="#000" stroke-width="1.2" fill="none" opacity="0.19"/>
<path d="M43,89.93L47,90.22L51,90.53L55,90.87L59,91.24L63,91.63L67,92.04L71,92.49L75,92.96L79,93.45L83,93.97L87,94.52L91,95.09L95,95.69L99,96.31L103,96.96L107,97.63L111,98.33L115,99.06L119,99.81L123,100.59L127,101.4L131,102.23L135,103.08L139,103.96L143,104.87L147,105.81L151,106.77L155,107.75L159,108.76L163,109.8L167,110.86L171,111.95" stroke="#fff" stroke-width="1.2" fill="none" opacity="0.16"/>
<path d="M43,92.83L47,93.12L51,93.44L55,93.79L59,94.16L63,94.56L67,94.98L71,95.43L75,95.91L79,96.41L83,96.94L87,97.49L91,98.07L95,98.67L99,99.3L103,99.96L107,100.64L111,101.35L115,102.08L119,102.84L123,103.62L127,104.44L131,105.27L135,106.13L139,107.02L143,107.94L147,108.88L151,109.84L155,110.84L159,111.85L163,112.9L167,113.97L171,115.06" stroke="#000" stroke-width="1.2" fill="none" opacity="0.14"/>
<path d="M43,95.73L47,96.03L51,96.36L55,96.71L59,97.09L63,97.49L67,97.92L71,98.38L75,98.86L79,99.37L83,99.9L87,100.46L91,101.04L95,101.66L99,102.29L103,102.96L107,103.64L111,104.36L115,105.1L119,105.86L123,106.66L127,107.47L131,108.32L135,109.19L139,110.08L143,111L147,111.95L151,112.92L155,113.92L159,114.94L163,115.99L167,117.07L171,118.17" stroke="#fff" stroke-width="1.2" fill="none" opacity="0.12"/>
<path d="M43,98.63L47,98.93L51,99.27L55,99.63L59,100.01L63,100.42L67,100.86L71,101.32L75,101.81L79,102.33L83,102.87L87,103.43L91,104.02L95,104.64L99,105.28L103,105.95L107,106.65L111,107.37L115,108.12L119,108.89L123,109.69L127,110.51L131,111.36L135,112.24L139,113.14L143,114.07L147,115.02L151,116L155,117.01L159,118.04L163,119.09L167,120.18L171,121.28" stroke="#000" stroke-width="1.2" fill="none" opacity="0.1"/>
<path d="M44,138L47,138.98L50,139.95L53,140.91L56,141.85L59,142.77L62,143.69L65,144.58L68,145.47L71,146.34L74,147.19L77,148.03L80,148.86L83,149.67L86,150.47L89,151.26L92,152.03L95,152.79L98,153.53L101,154.26L104,154.97L107,155.67L110,156.36L113,157.03L116,157.69L119,158.33L122,158.96L125,159.57L128,160.18L131,160.76L134,161.34L137,161.89L140,162.44L143,162.97L146,163.49L149,163.99L152,164.48L155,164.95L158,165.41L161,165.85L164,166.29L167,166.7L170,167.11L173,167.49" stroke="url(#fadeK)" stroke-width="1.4" fill="none"/>
<path d="M44,141L47,142.07L50,143.12L53,144.15L56,145.17L59,146.18L62,147.17L65,148.14L68,149.1L71,150.04L74,150.97L77,151.89L80,152.78L83,153.67L86,154.53L89,155.38L92,156.22L95,157.04L98,157.85L101,158.64L104,159.41L107,160.17L110,160.92L113,161.64L116,162.36L119,163.06L122,163.74L125,164.41L128,165.06L131,165.69L134,166.32L137,166.92L140,167.51L143,168.09L146,168.65L149,169.19L152,169.72L155,170.24L158,170.73L161,171.22L164,171.69L167,172.14L170,172.58L173,173" stroke="url(#fadeW)" stroke-width="1.4" fill="none"/>
<path d="M44,144L47,145.15L50,146.28L53,147.4L56,148.5L59,149.58L62,150.65L65,151.7L68,152.73L71,153.75L74,154.75L77,155.74L80,156.7L83,157.66L86,158.59L89,159.51L92,160.41L95,161.3L98,162.16L101,163.02L104,163.85L107,164.67L110,165.47L113,166.26L116,167.03L119,167.78L122,168.52L125,169.24L128,169.94L131,170.63L134,171.3L137,171.95L140,172.59L143,173.21L146,173.81L149,174.4L152,174.97L155,175.52L158,176.06L161,176.58L164,177.09L167,177.57L170,178.05L173,178.5" stroke="url(#fadeK)" stroke-width="1.4" fill="none"/>
<path d="M44,147L47,148.23L50,149.45L53,150.65L56,151.83L59,152.99L62,154.13L65,155.26L68,156.37L71,157.46L74,158.53L77,159.59L80,160.63L83,161.65L86,162.65L89,163.63L92,164.6L95,165.55L98,166.48L101,167.4L104,168.29L107,169.17L110,170.03L113,170.87L116,171.7L119,172.51L122,173.29L125,174.07L128,174.82L131,175.56L134,176.28L137,176.98L140,177.66L143,178.33L146,178.97L149,179.6L152,180.21L155,180.81L158,181.39L161,181.94L164,182.49L167,183.01L170,183.51L173,184" stroke="url(#fadeW)" stroke-width="1.4" fill="none"/>
<path d="M44,150L47,151.32L50,152.61L53,153.89L56,155.15L59,156.39L62,157.62L65,158.82L68,160L71,161.17L74,162.31L77,163.44L80,164.55L83,165.64L86,166.71L89,167.76L92,168.79L95,169.8L98,170.8L101,171.77L104,172.73L107,173.67L110,174.59L113,175.49L116,176.37L119,177.23L122,178.07L125,178.9L128,179.7L131,180.49L134,181.26L137,182L140,182.73L143,183.44L146,184.14L149,184.81L152,185.46L155,186.1L158,186.71L161,187.31L164,187.89L167,188.44L170,188.98L173,189.51" stroke="url(#fadeK)" stroke-width="1.4" fill="none"/>
<path d="M44,153L47,154.4L50,155.78L53,157.14L56,158.48L59,159.8L62,161.1L65,162.38L68,163.64L71,164.87L74,166.09L77,167.29L80,168.47L83,169.63L86,170.77L89,171.88L92,172.98L95,174.06L98,175.12L101,176.15L104,177.17L107,178.17L110,179.15L113,180.1L116,181.04L119,181.96L122,182.85L125,183.73L128,184.58L131,185.42L134,186.24L137,187.03L140,187.81L143,188.56L146,189.3L149,190.01L152,190.71L155,191.38L158,192.04L161,192.67L164,193.29L167,193.88L170,194.45L173,195.01" stroke="url(#fadeW)" stroke-width="1.4" fill="none"/>
<path d="M44,156L47,157.48L50,158.95L53,160.39L56,161.81L59,163.2L62,164.58L65,165.94L68,167.27L71,168.58L74,169.87L77,171.14L80,172.39L83,173.62L86,174.82L89,176.01L92,177.17L95,178.31L98,179.43L101,180.53L104,181.61L107,182.67L110,183.7L113,184.72L116,185.71L119,186.68L122,187.63L125,188.56L128,189.47L131,190.35L134,191.22L137,192.06L140,192.88L143,193.68L146,194.46L149,195.22L152,195.95L155,196.67L158,197.36L161,198.03L164,198.69L167,199.32L170,199.92L173,200.51" stroke="url(#fadeK)" stroke-width="1.4" fill="none"/>
<path d="M44,159L47,160.57L50,162.11L53,163.63L56,165.13L59,166.61L62,168.06L65,169.49L68,170.9L71,172.29L74,173.65L77,174.99L80,176.31L83,177.61L86,178.88L89,180.13L92,181.36L95,182.57L98,183.75L101,184.91L104,186.05L107,187.17L110,188.26L113,189.33L116,190.38L119,191.41L122,192.41L125,193.39L128,194.35L131,195.28L134,196.2L137,197.09L140,197.95L143,198.8L146,199.62L149,200.42L152,201.2L155,201.96L158,202.69L161,203.4L164,204.09L167,204.75L170,205.39L173,206.01" stroke="url(#fadeW)" stroke-width="1.4" fill="none"/>
<path d="M44,162L47,163.65L50,165.28L53,166.88L56,168.46L59,170.01L62,171.54L65,173.05L68,174.54L71,176L74,177.43L77,178.85L80,180.23L83,181.6L86,182.94L89,184.26L92,185.55L95,186.82L98,188.07L101,189.29L104,190.49L107,191.67L110,192.82L113,193.95L116,195.05L119,196.13L122,197.19L125,198.22L128,199.23L131,200.21L134,201.18L137,202.11L140,203.03L143,203.92L146,204.78L149,205.63L152,206.45L155,207.24L158,208.01L161,208.76L164,209.49L167,210.19L170,210.86L173,211.52" stroke="url(#fadeK)" stroke-width="1.4" fill="none"/>
<path d="M44,165L47,166.73L50,168.44L53,170.13L56,171.78L59,173.42L62,175.03L65,176.61L68,178.17L71,179.7L74,181.21L77,182.7L80,184.16L83,185.59L86,187L89,188.38L92,189.74L95,191.08L98,192.39L101,193.67L104,194.93L107,196.17L110,197.38L113,198.56L116,199.72L119,200.86L122,201.97L125,203.05L128,204.11L131,205.15L134,206.16L137,207.14L140,208.1L143,209.04L146,209.95L149,210.83L152,211.69L155,212.53L158,213.34L161,214.12L164,214.89L167,215.62L170,216.33L173,217.02" stroke="url(#fadeW)" stroke-width="1.4" fill="none"/>
<path d="M44,168L47,169.82L50,171.61L53,173.37L56,175.11L59,176.82L62,178.51L65,180.17L68,181.8L71,183.41L74,184.99L77,186.55L80,188.08L83,189.58L86,191.06L89,192.51L92,193.93L95,195.33L98,196.7L101,198.05L104,199.37L107,200.67L110,201.93L113,203.18L116,204.39L119,205.58L122,206.74L125,207.88L128,208.99L131,210.08L134,211.14L137,212.17L140,213.17L143,214.16L146,215.11L149,216.04L152,216.94L155,217.82L158,218.66L161,219.49L164,220.29L167,221.06L170,221.8L173,222.52" stroke="url(#fadeK)" stroke-width="1.4" fill="none"/>
<path d="M44,171L47,172.9L50,174.77L53,176.62L56,178.44L59,180.23L62,181.99L65,183.73L68,185.44L71,187.12L74,188.77L77,190.4L80,192L83,193.57L86,195.12L89,196.63L92,198.12L95,199.59L98,201.02L101,202.43L104,203.81L107,205.16L110,206.49L113,207.79L116,209.06L119,210.31L122,211.52L125,212.71L128,213.87L131,215.01L134,216.12L137,217.2L140,218.25L143,219.27L146,220.27L149,221.24L152,222.19L155,223.1L158,223.99L161,224.85L164,225.69L167,226.49L170,227.27L173,228.02" stroke="url(#fadeW)" stroke-width="1.4" fill="none"/>
<path d="M44,174L47,175.98L50,177.94L53,179.87L56,181.76L59,183.63L62,185.47L65,187.29L68,189.07L71,190.83L74,192.55L77,194.25L80,195.92L83,197.56L86,199.17L89,200.76L92,202.31L95,203.84L98,205.34L101,206.81L104,208.25L107,209.66L110,211.05L113,212.4L116,213.73L119,215.03L122,216.3L125,217.54L128,218.76L131,219.94L134,221.1L137,222.22L140,223.32L143,224.39L146,225.43L149,226.45L152,227.43L155,228.39L158,229.32L161,230.22L164,231.09L167,231.93L170,232.74L173,233.53" stroke="url(#fadeK)" stroke-width="1.4" fill="none"/>
<path d="M44,177L47,179.07L50,181.1L53,183.11L56,185.09L59,187.04L62,188.96L65,190.85L68,192.7L71,194.53L74,196.33L77,198.1L80,199.84L83,201.55L86,203.23L89,204.88L92,206.5L95,208.1L98,209.66L101,211.19L104,212.69L107,214.16L110,215.61L113,217.02L116,218.4L119,219.76L122,221.08L125,222.37L128,223.64L131,224.87L134,226.08L137,227.25L140,228.4L143,229.51L146,230.6L149,231.65L152,232.68L155,233.68L158,234.64L161,235.58L164,236.49L167,237.36L170,238.21L173,239.03" stroke="url(#fadeW)" stroke-width="1.4" fill="none"/>
<path d="M44,180L47,182.15L50,184.27L53,186.36L56,188.42L59,190.44L62,192.44L65,194.4L68,196.34L71,198.24L74,200.11L77,201.95L80,203.76L83,205.54L86,207.29L89,209.01L92,210.7L95,212.35L98,213.98L101,215.57L104,217.13L107,218.66L110,220.16L113,221.63L116,223.07L119,224.48L122,225.86L125,227.2L128,228.52L131,229.8L134,231.06L137,232.28L140,233.47L143,234.63L146,235.76L149,236.86L152,237.93L155,238.96L158,239.97L161,240.94L164,241.89L167,242.8L170,243.68L173,244.53" stroke="url(#fadeK)" stroke-width="1.4" fill="none"/>
<path d="M44,183L47,185.23L50,187.44L53,189.61L56,191.74L59,193.85L62,195.92L65,197.96L68,199.97L71,201.95L74,203.89L77,205.81L80,207.69L83,209.53L86,211.35L89,213.13L92,214.89L95,216.61L98,218.29L101,219.95L104,221.57L107,223.16L110,224.72L113,226.25L116,227.74L119,229.21L122,230.64L125,232.03L128,233.4L131,234.73L134,236.04L137,237.31L140,238.54L143,239.75L146,240.92L149,242.06L152,243.17L155,244.25L158,245.29L161,246.31L164,247.29L167,248.23L170,249.15L173,250.03" stroke="url(#fadeW)" stroke-width="1.4" fill="none"/>
<path d="M44,186L47,188.32L50,190.6L53,192.85L56,195.07L59,197.25L62,199.4L65,201.52L68,203.61L71,205.66L74,207.67L77,209.66L80,211.61L83,213.52L86,215.41L89,217.26L92,219.08L95,220.86L98,222.61L101,224.33L104,226.01L107,227.66L110,229.28L113,230.86L116,232.41L119,233.93L122,235.41L125,236.86L128,238.28L131,239.67L134,241.02L137,242.33L140,243.62L143,244.87L146,246.08L149,247.27L152,248.42L155,249.53L158,250.62L161,251.67L164,252.69L167,253.67L170,254.62L173,255.54" stroke="url(#fadeK)" stroke-width="1.4" fill="none"/>
<path d="M44,189L47,191.4L50,193.77L53,196.1L56,198.4L59,200.66L62,202.89L65,205.08L68,207.24L71,209.36L74,211.45L77,213.51L80,215.53L83,217.52L86,219.47L89,221.38L92,223.27L95,225.11L98,226.93L101,228.71L104,230.45L107,232.16L110,233.84L113,235.48L116,237.08L119,238.66L122,240.19L125,241.7L128,243.16L131,244.6L134,246L137,247.36L140,248.69L143,249.99L146,251.25L149,252.47L152,253.66L155,254.82L158,255.94L161,257.03L164,258.09L167,259.1L170,260.09L173,261.04" stroke="url(#fadeW)" stroke-width="1.4" fill="none"/>
<path d="M44,192L47,194.48L50,196.93L53,199.35L56,201.72L59,204.06L62,206.37L65,208.64L68,210.87L71,213.07L74,215.23L77,217.36L80,219.45L83,221.51L86,223.53L89,225.51L92,227.46L95,229.37L98,231.25L101,233.09L104,234.89L107,236.66L110,238.39L113,240.09L116,241.75L119,243.38L122,244.97L125,246.53L128,248.04L131,249.53L134,250.98L137,252.39L140,253.76L143,255.1L146,256.41L149,257.68L152,258.91L155,260.11L158,261.27L161,262.4L164,263.49L167,264.54L170,265.56L173,266.54" stroke="url(#fadeK)" stroke-width="1.4" fill="none"/>
<path d="M44,195L47,197.57L50,200.1L53,202.59L56,205.05L59,207.47L62,209.85L65,212.2L68,214.51L71,216.78L74,219.01L77,221.21L80,223.37L83,225.5L86,227.58L89,229.63L92,231.65L95,233.62L98,235.56L101,237.47L104,239.33L107,241.16L110,242.95L113,244.71L116,246.42L119,248.11L122,249.75L125,251.36L128,252.93L131,254.46L134,255.96L137,257.41L140,258.84L143,260.22L146,261.57L149,262.88L152,264.16L155,265.39L158,266.6L161,267.76L164,268.89L167,269.98L170,271.03L173,272.04" stroke="url(#fadeW)" stroke-width="1.4" fill="none"/>
<path d="M44,198L47,200.65L50,203.26L53,205.84L56,208.37L59,210.87L62,213.33L65,215.76L68,218.14L71,220.49L74,222.79L77,225.06L80,227.29L83,229.49L86,231.64L89,233.76L92,235.84L95,237.88L98,239.88L101,241.85L104,243.77L107,245.66L110,247.51L113,249.32L116,251.09L119,252.83L122,254.53L125,256.19L128,257.81L131,259.39L134,260.94L137,262.44L140,263.91L143,265.34L146,266.73L149,268.09L152,269.4L155,270.68L158,271.92L161,273.12L164,274.29L167,275.41L170,276.5L173,277.55" stroke="url(#fadeK)" stroke-width="1.4" fill="none"/>
<path d="M44,201L47,203.73L50,206.43L53,209.08L56,211.7L59,214.28L62,216.82L65,219.31L68,221.77L71,224.19L74,226.57L77,228.91L80,231.22L83,233.48L86,235.7L89,237.88L92,240.03L95,242.13L98,244.2L101,246.22L104,248.21L107,250.16L110,252.07L113,253.94L116,255.77L119,257.56L122,259.31L125,261.02L128,262.69L131,264.32L134,265.92L137,267.47L140,268.98L143,270.46L146,271.9L149,273.29L152,274.65L155,275.97L158,277.25L161,278.49L164,279.69L167,280.85L170,281.97L173,283.05" stroke="url(#fadeW)" stroke-width="1.4" fill="none"/>
<path d="M44,204L47,206.82L50,209.59L53,212.33L56,215.03L59,217.68L62,220.3L65,222.87L68,225.41L71,227.9L74,230.35L77,232.77L80,235.14L83,237.47L86,239.76L89,242.01L92,244.22L95,246.39L98,248.52L101,250.6L104,252.65L107,254.66L110,256.62L113,258.55L116,260.44L119,262.28L122,264.08L125,265.85L128,267.57L131,269.25L134,270.9L137,272.5L140,274.06L143,275.58L146,277.06L149,278.5L152,279.9L155,281.25L158,282.57L161,283.85L164,285.09L167,286.28L170,287.44L173,288.55" stroke="url(#fadeK)" stroke-width="1.4" fill="none"/>
<path d="M44,207L47,209.9L50,212.76L53,215.58L56,218.35L59,221.09L62,223.78L65,226.43L68,229.04L71,231.61L74,234.13L77,236.62L80,239.06L83,241.46L86,243.82L89,246.13L92,248.41L95,250.64L98,252.83L101,254.98L104,257.09L107,259.16L110,261.18L113,263.17L116,265.11L119,267.01L122,268.86L125,270.68L128,272.45L131,274.19L134,275.88L137,277.52L140,279.13L143,280.7L146,282.22L149,283.7L152,285.14L155,286.54L158,287.9L161,289.21L164,290.49L167,291.72L170,292.91L173,294.05" stroke="url(#fadeW)" stroke-width="1.4" fill="none"/>
<path d="M44,210L47,212.98L50,215.93L53,218.82L56,221.68L59,224.49L62,227.26L65,229.99L68,232.67L71,235.31L74,237.91L77,240.47L80,242.98L83,245.45L86,247.88L89,250.26L92,252.6L95,254.9L98,257.15L101,259.36L104,261.53L107,263.66L110,265.74L113,267.78L116,269.78L119,271.73L122,273.64L125,275.51L128,277.33L131,279.12L134,280.86L137,282.55L140,284.21L143,285.82L146,287.38L149,288.91L152,290.39L155,291.83L158,293.22L161,294.58L164,295.89L167,297.15L170,298.38L173,299.56" stroke="url(#fadeK)" stroke-width="1.4" fill="none"/>
<path d="M44,213L47,216.07L50,219.09L53,222.07L56,225.01L59,227.9L62,230.75L65,233.55L68,236.31L71,239.02L74,241.69L77,244.32L80,246.9L83,249.44L86,251.93L89,254.38L92,256.79L95,259.15L98,261.47L101,263.74L104,265.97L107,268.16L110,270.3L113,272.39L116,274.45L119,276.46L122,278.42L125,280.34L128,282.22L131,284.05L134,285.84L137,287.58L140,289.28L143,290.93L146,292.55L149,294.11L152,295.64L155,297.11L158,298.55L161,299.94L164,301.29L167,302.59L170,303.85L173,305.06" stroke="url(#fadeW)" stroke-width="1.4" fill="none"/>
<path d="M44,216L47,219.13L50,222.21L53,225.25L56,228.24L59,231.19L62,234.09L65,236.95L68,239.76L71,242.53L74,245.25L77,247.93L80,250.56L83,253.15L86,255.69L89,258.19L92,260.64L95,263.05L98,265.41L101,267.73L104,270L107,272.23L110,274.41L113,276.55L116,278.64L119,280.69L122,282.69L125,284.65L128,286.56L131,288.43L134,290.25L137,292.03L140,293.76L143,295.45L146,297.09L149,298.69L152,300.24L155,301.75L158,303.21L161,304.63L164,306L167,307.33L170,308.61L173,309.85" stroke="url(#fadeK)" stroke-width="1.4" fill="none"/>
<path d="M44,219L47,222.13L50,225.21L53,228.25L56,231.24L59,234.19L62,237.09L65,239.95L68,242.76L71,245.53L74,248.25L77,250.93L80,253.56L83,256.15L86,258.69L89,261.19L92,263.64L95,266.05L98,268.41L101,270.73L104,273L107,275.23L110,277.41L113,279.55L116,281.64L119,283.69L122,285.69L125,287.65L128,289.56L131,291.43L134,293.25L137,295.03L140,296.76L143,298.45L146,300.09L149,301.69L152,303.24L155,304.75L158,306.21L161,307.63L164,309L167,310.33L170,311.61L173,312.85" stroke="url(#fadeW)" stroke-width="1.4" fill="none"/>
<path d="M44,222L47,225.13L50,228.21L53,231.25L56,234.24L59,237.19L62,240.09L65,242.95L68,245.76L71,248.53L74,251.25L77,253.93L80,256.56L83,259.15L86,261.69L89,264.19L92,266.64L95,269.05L98,271.41L101,273.73L104,276L107,278.23L110,280.41L113,282.55L116,284.64L119,286.69L122,288.69L125,290.65L128,292.56L131,294.43L134,296.25L137,298.03L140,299.76L143,301.45L146,303.09L149,304.69L152,306.24L155,307.75L158,309.21L161,310.63L164,312L167,313.33L170,314.61L173,315.85" stroke="url(#fadeK)" stroke-width="1.4" fill="none"/>
<path d="M44,225L47,228.13L50,231.21L53,234.25L56,237.24L59,240.19L62,243.09L65,245.95L68,248.76L71,251.53L74,254.25L77,256.93L80,259.56L83,262.15L86,264.69L89,267.19L92,269.64L95,272.05L98,274.41L101,276.73L104,279L107,281.23L110,283.41L113,285.55L116,287.64L119,289.69L122,291.69L125,293.65L128,295.56L131,297.43L134,299.25L137,301.03L140,302.76L143,304.45L146,306.09L149,307.69L152,309.24L155,310.75L158,312.21L161,313.63L164,315L167,316.33L170,317.61L173,318.85" stroke="url(#fadeW)" stroke-width="1.4" fill="none"/>
<path d="M44,228L47,231.13L50,234.21L53,237.25L56,240.24L59,243.19L62,246.09L65,248.95L68,251.76L71,254.53L74,257.25L77,259.93L80,262.56L83,265.15L86,267.69L89,270.19L92,272.64L95,275.05L98,277.41L101,279.73L104,282L107,284.23L110,286.41L113,288.55L116,290.64L119,292.69L122,294.69L125,296.65L128,298.56L131,300.43L134,302.25L137,304.03L140,305.76L143,307.45L146,309.09L149,310.69L152,312.24L155,313.75L158,315.21L161,316.63L164,318L167,319.33L170,320.61L173,321.85" stroke="url(#fadeK)" stroke-width="1.4" fill="none"/>
<path d="M44,231L47,234.13L50,237.21L53,240.25L56,243.24L59,246.19L62,249.09L65,251.95L68,254.76L71,257.53L74,260.25L77,262.93L80,265.56L83,268.15L86,270.69L89,273.19L92,275.64L95,278.05L98,280.41L101,282.73L104,285L107,287.23L110,289.41L113,291.55L116,293.64L119,295.69L122,297.69L125,299.65L128,301.56L131,303.43L134,305.25L137,307.03L140,308.76L143,310.45L146,312.09L149,313.69L152,315.24L155,316.75L158,318.21L161,319.63L164,321L167,322.33L170,323.61L173,324.85" stroke="url(#fadeW)" stroke-width="1.4" fill="none"/>
<path d="M44,234L47,237.13L50,240.21L53,243.25L56,246.24L59,249.19L62,252.09L65,254.95L68,257.76L71,260.53L74,263.25L77,265.93L80,268.56L83,271.15L86,273.69L89,276.19L92,278.64L95,281.05L98,283.41L101,285.73L104,288L107,290.23L110,292.41L113,294.55L116,296.64L119,298.69L122,300.69L125,302.65L128,304.56L131,306.43L134,308.25L137,310.03L140,311.76L143,313.45L146,315.09L149,316.69L152,318.24L155,319.75L158,321.21L161,322.63L164,324L167,325.33L170,326.61L173,327.85" stroke="url(#fadeK)" stroke-width="1.4" fill="none"/>
<path d="M44,237L47,240.13L50,243.21L53,246.25L56,249.24L59,252.19L62,255.09L65,257.95L68,260.76L71,263.53L74,266.25L77,268.93L80,271.56L83,274.15L86,276.69L89,279.19L92,281.64L95,284.05L98,286.41L101,288.73L104,291L107,293.23L110,295.41L113,297.55L116,299.64L119,301.69L122,303.69L125,305.65L128,307.56L131,309.43L134,311.25L137,313.03L140,314.76L143,316.45L146,318.09L149,319.69L152,321.24L155,322.75L158,324.21L161,325.63L164,327L167,328.33L170,329.61L173,330.85" stroke="url(#fadeW)" stroke-width="1.4" fill="none"/>
<path d="M44,240L47,243.13L50,246.21L53,249.25L56,252.24L59,255.19L62,258.09L65,260.95L68,263.76L71,266.53L74,269.25L77,271.93L80,274.56L83,277.15L86,279.69L89,282.19L92,284.64L95,287.05L98,289.41L101,291.73L104,294L107,296.23L110,298.41L113,300.55L116,302.64L119,304.69L122,306.69L125,308.65L128,310.56L131,312.43L134,314.25L137,316.03L140,317.76L143,319.45L146,321.09L149,322.69L152,324.24L155,325.75L158,327.21L161,328.63L164,330L167,331.33L170,332.61L173,333.85" stroke="url(#fadeK)" stroke-width="1.4" fill="none"/>
<path d="M44,243L47,246.13L50,249.21L53,252.25L56,255.24L59,258.19L62,261.09L65,263.95L68,266.76L71,269.53L74,272.25L77,274.93L80,277.56L83,280.15L86,282.69L89,285.19L92,287.64L95,290.05L98,292.41L101,294.73L104,297L107,299.23L110,301.41L113,303.55L116,305.64L119,307.69L122,309.69L125,311.65L128,313.56L131,315.43L134,317.25L137,319.03L140,320.76L143,322.45L146,324.09L149,325.69L152,327.24L155,328.75L158,330.21L161,331.63L164,333L167,334.33L170,335.61L173,336.85" stroke="url(#fadeW)" stroke-width="1.4" fill="none"/>
<path d="M44,246L47,249.13L50,252.21L53,255.25L56,258.24L59,261.19L62,264.09L65,266.95L68,269.76L71,272.53L74,275.25L77,277.93L80,280.56L83,283.15L86,285.69L89,288.19L92,290.64L95,293.05L98,295.41L101,297.73L104,300L107,302.23L110,304.41L113,306.55L116,308.64L119,310.69L122,312.69L125,314.65L128,316.56L131,318.43L134,320.25L137,322.03L140,323.76L143,325.45L146,327.09L149,328.69L152,330.24L155,331.75L158,333.21L161,334.63L164,336L167,337.33L170,338.61L173,339.85" stroke="url(#fadeK)" stroke-width="1.4" fill="none"/>
<path d="M44,249L47,252.13L50,255.21L53,258.25L56,261.24L59,264.19L62,267.09L65,269.95L68,272.76L71,275.53L74,278.25L77,280.93L80,283.56L83,286.15L86,288.69L89,291.19L92,293.64L95,296.05L98,298.41L101,300.73L104,303L107,305.23L110,307.41L113,309.55L116,311.64L119,313.69L122,315.69L125,317.65L128,319.56L131,321.43L134,323.25L137,325.03L140,326.76L143,328.45L146,330.09L149,331.69L152,333.24L155,334.75L158,336.21L161,337.63L164,339L167,340.33L170,341.61L173,342.85" stroke="url(#fadeW)" stroke-width="1.4" fill="none"/>
<path d="M44,252L47,255.13L50,258.21L53,261.25L56,264.24L59,267.19L62,270.09L65,272.95L68,275.76L71,278.53L74,281.25L77,283.93L80,286.56L83,289.15L86,291.69L89,294.19L92,296.64L95,299.05L98,301.41L101,303.73L104,306L107,308.23L110,310.41L113,312.55L116,314.64L119,316.69L122,318.69L125,320.65L128,322.56L131,324.43L134,326.25L137,328.03L140,329.76L143,331.45L146,333.09L149,334.69L152,336.24L155,337.75L158,339.21L161,340.63L164,342L167,343.33L170,344.61L173,345.85" stroke="url(#fadeK)" stroke-width="1.4" fill="none"/>
<path d="M44,255L47,258.13L50,261.21L53,264.25L56,267.24L59,270.19L62,273.09L65,275.95L68,278.76L71,281.53L74,284.25L77,286.93L80,289.56L83,292.15L86,294.69L89,297.19L92,299.64L95,302.05L98,304.41L101,306.73L104,309L107,311.23L110,313.41L113,315.55L116,317.64L119,319.69L122,321.69L125,323.65L128,325.56L131,327.43L134,329.25L137,331.03L140,332.76L143,334.45L146,336.09L149,337.69L152,339.24L155,340.75L158,342.21L161,343.63L164,345L167,346.33L170,347.61L173,348.85" stroke="url(#fadeW)" stroke-width="1.4" fill="none"/>
<path d="M43,117.35L45,116.3L47,115.26L49,114.23L51,113.22L53,112.23L55,111.27L57,110.33L59,109.45L61,108.62L63,107.87L65,107.23L67,106.73L69,106.41L71,106.3L73,106.34L75,106.47L77,106.68L79,106.96L81,107.32L83,107.74L85,108.23L87,108.76L89,109.35L91,109.98L93,110.65L95,111.34L97,112.07L99,112.83L101,113.6L103,114.4L105,115.22L107,116.05L109,116.89L111,117.75L113,118.61L115,119.49L117,120.38L119,121.27L121,122.17L123,123.08L125,124L127,124.92L129,125.84L131,126.77L133,127.7L135,128.64L137,129.58L139,130.52L141,131.47L143,132.42L145,133.37L147,134.33L149,135.28L151,136.24L153,137.2L155,138.16L157,139.13L159,140.09L161,141.06L163,142.03L165,143L167,143.97L169,144.94L171,145.91L173,146.89" stroke="#000" stroke-width="1.5" fill="none" opacity="1"/>
<path d="M43,121.29L45,120.14L47,119.01L49,117.89L51,116.79L53,115.71L55,114.66L57,113.64L59,112.68L61,111.78L63,110.96L65,110.26L67,109.72L69,109.37L71,109.25L73,109.29L75,109.41L77,109.6L79,109.87L81,110.2L83,110.6L85,111.05L87,111.56L89,112.11L91,112.71L93,113.34L95,114L97,114.7L99,115.42L101,116.16L103,116.92L105,117.7L107,118.5L109,119.31L111,120.14L113,120.97L115,121.82L117,122.68L119,123.54L121,124.41L123,125.29L125,126.17L127,127.06L129,127.96L131,128.86L133,129.77L135,130.67L137,131.59L139,132.5L141,133.42L143,134.34L145,135.27L147,136.19L149,137.12L151,138.05L153,138.99L155,139.92L157,140.86L159,141.8L161,142.74L163,143.68L165,144.63L167,145.57L169,146.52L171,147.46L173,148.41" stroke="#fff" stroke-width="1.5" fill="none" opacity="1"/>
<path d="M43,125.22L45,123.99L47,122.76L49,121.55L51,120.36L53,119.19L55,118.05L57,116.96L59,115.91L61,114.93L63,114.05L65,113.3L67,112.71L69,112.33L71,112.2L73,112.24L75,112.35L77,112.53L79,112.77L81,113.09L83,113.46L85,113.89L87,114.36L89,114.88L91,115.45L93,116.05L95,116.68L97,117.34L99,118.03L101,118.74L103,119.47L105,120.22L107,120.98L109,121.76L111,122.55L113,123.36L115,124.17L117,125L119,125.83L121,126.68L123,127.52L125,128.38L127,129.24L129,130.11L131,130.98L133,131.86L135,132.74L137,133.62L139,134.51L141,135.4L143,136.29L145,137.19L147,138.09L149,138.99L151,139.9L153,140.8L155,141.71L157,142.62L159,143.54L161,144.45L163,145.37L165,146.28L167,147.2L169,148.12L171,149.04L173,149.96" stroke="#000" stroke-width="1.5" fill="none" opacity="1"/>
<path d="M43,129.16L45,127.83L47,126.51L49,125.21L51,123.93L53,122.67L55,121.45L57,120.27L59,119.14L61,118.09L63,117.14L65,116.33L67,115.7L69,115.29L71,115.15L73,115.18L75,115.29L77,115.45L79,115.69L81,115.98L83,116.33L85,116.73L87,117.18L89,117.67L91,118.2L93,118.77L95,119.37L97,120L99,120.66L101,121.33L103,122.03L105,122.75L107,123.48L109,124.23L111,124.99L113,125.77L115,126.55L117,127.35L119,128.15L121,128.96L123,129.78L125,130.61L127,131.44L129,132.28L131,133.12L133,133.97L135,134.82L137,135.68L139,136.54L141,137.4L143,138.27L145,139.14L147,140.01L149,140.89L151,141.77L153,142.65L155,143.53L157,144.41L159,145.3L161,146.19L163,147.08L165,147.97L167,148.86L169,149.75L171,150.65L173,151.55" stroke="#fff" stroke-width="1.5" fill="none" opacity="1"/>
<path d="M43,133.1L45,131.67L47,130.26L49,128.87L51,127.49L53,126.15L55,124.84L57,123.58L59,122.37L61,121.25L63,120.23L65,119.36L67,118.69L69,118.25L71,118.1L73,118.13L75,118.23L77,118.38L79,118.6L81,118.88L83,119.2L85,119.58L87,120L89,120.47L91,120.97L93,121.51L95,122.08L97,122.68L99,123.3L101,123.95L103,124.62L105,125.3L107,126.01L109,126.72L111,127.46L113,128.2L115,128.95L117,129.72L119,130.49L121,131.28L123,132.07L125,132.87L127,133.67L129,134.48L131,135.29L133,136.11L135,136.94L137,137.77L139,138.6L141,139.44L143,140.28L145,141.12L147,141.96L149,142.81L151,143.66L153,144.52L155,145.37L157,146.23L159,147.09L161,147.95L163,148.82L165,149.68L167,150.55L169,151.41L171,152.28L173,153.15" stroke="#000" stroke-width="1.5" fill="none" opacity="1"/>
<path d="M43,137.03L45,135.51L47,134.01L49,132.52L51,131.06L53,129.63L55,128.23L57,126.89L59,125.6L61,124.41L63,123.32L65,122.4L67,121.67L69,121.21L71,121.05L73,121.08L75,121.17L77,121.32L79,121.52L81,121.78L83,122.08L85,122.44L87,122.84L89,123.28L91,123.75L93,124.26L95,124.8L97,125.37L99,125.97L101,126.58L103,127.22L105,127.88L107,128.55L109,129.24L111,129.94L113,130.65L115,131.38L117,132.11L119,132.86L121,133.61L123,134.38L125,135.14L127,135.92L129,136.7L131,137.49L133,138.28L135,139.08L137,139.88L139,140.68L141,141.49L143,142.31L145,143.12L147,143.94L149,144.76L151,145.59L153,146.41L155,147.24L157,148.07L159,148.91L161,149.74L163,150.58L165,151.42L167,152.26L169,153.1L171,153.94L173,154.79" stroke="#fff" stroke-width="1.5" fill="none" opacity="1"/>
<path d="M43,140.97L45,139.36L47,137.76L49,136.18L51,134.63L53,133.11L55,131.63L57,130.2L59,128.83L61,127.56L63,126.41L65,125.43L67,124.66L69,124.17L71,124L73,124.03L75,124.11L77,124.25L79,124.44L81,124.68L83,124.97L85,125.3L87,125.68L89,126.09L91,126.54L93,127.03L95,127.54L97,128.08L99,128.64L101,129.23L103,129.84L105,130.47L107,131.11L109,131.77L111,132.44L113,133.13L115,133.82L117,134.53L119,135.25L121,135.97L123,136.71L125,137.45L127,138.19L129,138.95L131,139.71L133,140.47L135,141.24L137,142.01L139,142.79L141,143.58L143,144.36L145,145.15L147,145.94L149,146.74L151,147.54L153,148.34L155,149.14L157,149.94L159,150.75L161,151.56L163,152.37L165,153.18L167,154L169,154.81L171,155.63L173,156.45" stroke="#000" stroke-width="1.5" fill="none" opacity="1"/>
<path d="M43,144.91L45,143.2L47,141.51L49,139.84L51,138.2L53,136.59L55,135.02L57,133.51L59,132.06L61,130.72L63,129.5L65,128.46L67,127.65L69,127.13L71,126.95L73,126.98L75,127.05L77,127.18L79,127.36L81,127.59L83,127.86L85,128.17L87,128.53L89,128.92L91,129.34L93,129.8L95,130.29L97,130.8L99,131.34L101,131.9L103,132.48L105,133.07L107,133.69L109,134.32L111,134.96L113,135.62L115,136.29L117,136.97L119,137.66L121,138.35L123,139.06L125,139.77L127,140.49L129,141.22L131,141.95L133,142.69L135,143.43L137,144.17L139,144.93L141,145.68L143,146.44L145,147.2L147,147.97L149,148.74L151,149.51L153,150.28L155,151.06L157,151.84L159,152.62L161,153.4L163,154.19L165,154.97L167,155.76L169,156.55L171,157.34L173,158.14" stroke="#fff" stroke-width="1.5" fill="none" opacity="1"/>
<path d="M43,148.84L45,147.04L47,145.26L49,143.5L51,141.77L53,140.07L55,138.41L57,136.82L59,135.3L61,133.88L63,132.59L65,131.5L67,130.64L69,130.09L71,129.9L73,129.92L75,130L77,130.12L79,130.29L81,130.5L83,130.75L85,131.05L87,131.38L89,131.75L91,132.15L93,132.58L95,133.05L97,133.53L99,134.04L101,134.58L103,135.13L105,135.7L107,136.28L109,136.89L111,137.5L113,138.13L115,138.77L117,139.42L119,140.08L121,140.75L123,141.43L125,142.12L127,142.81L129,143.51L131,144.21L133,144.92L135,145.64L137,146.36L139,147.08L141,147.81L143,148.54L145,149.28L147,150.02L149,150.76L151,151.5L153,152.25L155,153L157,153.76L159,154.51L161,155.27L163,156.03L165,156.79L167,157.55L169,158.32L171,159.08L173,159.85" stroke="#000" stroke-width="1.5" fill="none" opacity="1"/>
<path d="M43,152.78L45,150.89L47,149.01L49,147.16L51,145.33L53,143.55L55,141.81L57,140.13L59,138.53L61,137.03L63,135.68L65,134.53L67,133.63L69,133.05L71,132.85L73,132.87L75,132.94L77,133.05L79,133.21L81,133.41L83,133.65L85,133.93L87,134.24L89,134.59L91,134.97L93,135.38L95,135.81L97,136.28L99,136.76L101,137.27L103,137.79L105,138.34L107,138.9L109,139.47L111,140.06L113,140.66L115,141.27L117,141.9L119,142.53L121,143.17L123,143.82L125,144.48L127,145.15L129,145.82L131,146.5L133,147.18L135,147.87L137,148.56L139,149.26L141,149.96L143,150.67L145,151.38L147,152.09L149,152.81L151,153.53L153,154.25L155,154.97L157,155.7L159,156.43L161,157.16L163,157.89L165,158.63L167,159.37L169,160.11L171,160.85L173,161.59" stroke="#fff" stroke-width="1.5" fill="none" opacity="1"/>
<path d="M43,156.72L45,154.73L47,152.76L49,150.82L51,148.9L53,147.03L55,145.2L57,143.44L59,141.76L61,140.19L63,138.77L65,137.56L67,136.62L69,136.01L71,135.8L73,135.82L75,135.89L77,135.99L79,136.14L81,136.32L83,136.55L85,136.81L87,137.11L89,137.44L91,137.79L93,138.18L95,138.59L97,139.03L99,139.49L101,139.97L103,140.47L105,140.99L107,141.52L109,142.07L111,142.63L113,143.21L115,143.79L117,144.39L119,145L121,145.61L123,146.24L125,146.87L127,147.51L129,148.15L131,148.8L133,149.46L135,150.12L137,150.79L139,151.46L141,152.14L143,152.81L145,153.5L147,154.19L149,154.88L151,155.57L153,156.26L155,156.96L157,157.66L159,158.37L161,159.07L163,159.78L165,160.49L167,161.2L169,161.92L171,162.63L173,163.35" stroke="#000" stroke-width="1.5" fill="none" opacity="0.89"/>
<path d="M43,160.65L45,158.57L47,156.51L49,154.47L51,152.47L53,150.51L55,148.59L57,146.75L59,144.99L61,143.35L63,141.86L65,140.59L67,139.61L69,138.97L71,138.75L73,138.77L75,138.83L77,138.93L79,139.07L81,139.24L83,139.45L85,139.7L87,139.98L89,140.29L91,140.63L93,140.99L95,141.38L97,141.8L99,142.23L101,142.69L103,143.16L105,143.66L107,144.16L109,144.69L111,145.22L113,145.77L115,146.33L117,146.9L119,147.48L121,148.07L123,148.67L125,149.27L127,149.88L129,150.5L131,151.13L133,151.76L135,152.39L137,153.03L139,153.68L141,154.33L143,154.98L145,155.64L147,156.3L149,156.97L151,157.63L153,158.3L155,158.98L157,159.65L159,160.33L161,161.01L163,161.69L165,162.38L167,163.07L169,163.75L171,164.44L173,165.14" stroke="#fff" stroke-width="1.5" fill="none" opacity="0.78"/>
<path d="M43,164.59L45,162.41L47,160.26L49,158.13L51,156.04L53,153.99L55,151.99L57,150.06L59,148.22L61,146.5L63,144.96L65,143.63L67,142.59L69,141.93L71,141.7L73,141.72L75,141.77L77,141.87L79,142L81,142.16L83,142.36L85,142.59L87,142.85L89,143.14L91,143.46L93,143.81L95,144.18L97,144.57L99,144.98L101,145.42L103,145.87L105,146.33L107,146.82L109,147.31L111,147.82L113,148.35L115,148.88L117,149.43L119,149.98L121,150.54L123,151.11L125,151.69L127,152.28L129,152.87L131,153.47L133,154.08L135,154.69L137,155.3L139,155.92L141,156.55L143,157.17L145,157.81L147,158.44L149,159.08L151,159.72L153,160.37L155,161.01L157,161.66L159,162.32L161,162.97L163,163.63L165,164.29L167,164.95L169,165.61L171,166.28L173,166.95" stroke="#000" stroke-width="1.5" fill="none" opacity="0.67"/>
<path d="M43,168.53L45,166.26L47,164.01L49,161.79L51,159.61L53,157.47L55,155.38L57,153.37L59,151.45L61,149.66L63,148.05L65,146.66L67,145.58L69,144.89L71,144.65L73,144.67L75,144.72L77,144.81L79,144.93L81,145.08L83,145.27L85,145.49L87,145.73L89,146.01L91,146.31L93,146.63L95,146.98L97,147.35L99,147.74L101,148.15L103,148.58L105,149.02L107,149.48L109,149.96L111,150.44L113,150.94L115,151.45L117,151.97L119,152.5L121,153.03L123,153.58L125,154.13L127,154.69L129,155.26L131,155.84L133,156.41L135,157L137,157.59L139,158.18L141,158.78L143,159.38L145,159.99L147,160.6L149,161.21L151,161.83L153,162.45L155,163.07L157,163.7L159,164.33L161,164.96L163,165.59L165,166.22L167,166.86L169,167.5L171,168.14L173,168.78" stroke="#fff" stroke-width="1.5" fill="none" opacity="0.56"/>
<path d="M43,172.46L45,170.1L47,167.76L49,165.45L51,163.17L53,160.94L55,158.77L57,156.68L59,154.68L61,152.82L63,151.14L65,149.69L67,148.57L69,147.85L71,147.6L73,147.62L75,147.67L77,147.75L79,147.86L81,148.01L83,148.18L85,148.38L87,148.62L89,148.87L91,149.16L93,149.46L95,149.79L97,150.14L99,150.51L101,150.9L103,151.3L105,151.73L107,152.16L109,152.61L111,153.07L113,153.55L115,154.03L117,154.52L119,155.03L121,155.54L123,156.06L125,156.59L127,157.13L129,157.67L131,158.22L133,158.77L135,159.33L137,159.89L139,160.46L141,161.04L143,161.61L145,162.2L147,162.78L149,163.37L151,163.96L153,164.55L155,165.15L157,165.75L159,166.35L161,166.96L163,167.57L165,168.18L167,168.79L169,169.4L171,170.02L173,170.63" stroke="#000" stroke-width="1.5" fill="none" opacity="0.45"/>
<path d="M43,176.4L45,173.94L47,171.51L49,169.11L51,166.74L53,164.42L55,162.17L57,159.99L59,157.91L61,155.98L63,154.23L65,152.73L67,151.56L69,150.81L71,150.55L73,150.57L75,150.61L77,150.69L79,150.79L81,150.93L83,151.09L85,151.29L87,151.5L89,151.75L91,152.01L93,152.3L95,152.61L97,152.94L99,153.29L101,153.66L103,154.04L105,154.44L107,154.85L109,155.28L111,155.71L113,156.16L115,156.62L117,157.1L119,157.57L121,158.06L123,158.56L125,159.06L127,159.57L129,160.09L131,160.62L133,161.14L135,161.68L137,162.22L139,162.76L141,163.31L143,163.86L145,164.42L147,164.98L149,165.54L151,166.11L153,166.68L155,167.25L157,167.83L159,168.4L161,168.98L163,169.57L165,170.15L167,170.74L169,171.33L171,171.92L173,172.51" stroke="#fff" stroke-width="1.5" fill="none" opacity="0.34"/>
<path d="M43,180.34L45,177.79L47,175.26L49,172.77L51,170.31L53,167.9L55,165.56L57,163.3L59,161.14L61,159.13L63,157.32L65,155.76L67,154.55L69,153.77L71,153.5L73,153.51L75,153.56L77,153.63L79,153.73L81,153.86L83,154.01L85,154.19L87,154.39L89,154.62L91,154.87L93,155.14L95,155.44L97,155.75L99,156.08L101,156.42L103,156.78L105,157.16L107,157.55L109,157.95L111,158.37L113,158.8L115,159.23L117,159.68L119,160.14L121,160.6L123,161.07L125,161.55L127,162.04L129,162.53L131,163.03L133,163.54L135,164.04L137,164.56L139,165.08L141,165.6L143,166.13L145,166.66L147,167.2L149,167.74L151,168.28L153,168.82L155,169.37L157,169.92L159,170.47L161,171.03L163,171.59L165,172.15L167,172.71L169,173.27L171,173.84L173,174.41" stroke="#000" stroke-width="1.5" fill="none" opacity="0.23"/>
<path d="M43,184.27L45,181.63L47,179.01L49,176.42L51,173.88L53,171.38L55,168.95L57,166.61L59,164.37L61,162.29L63,160.41L65,158.79L67,157.54L69,156.73L71,156.45L73,156.46L75,156.5L77,156.57L79,156.66L81,156.78L83,156.93L85,157.09L87,157.29L89,157.5L91,157.73L93,157.99L95,158.27L97,158.56L99,158.87L101,159.19L103,159.54L105,159.89L107,160.26L109,160.64L111,161.04L113,161.44L115,161.85L117,162.28L119,162.71L121,163.15L123,163.6L125,164.06L127,164.52L129,164.99L131,165.46L133,165.94L135,166.43L137,166.92L139,167.41L141,167.91L143,168.42L145,168.92L147,169.43L149,169.95L151,170.47L153,170.99L155,171.51L157,172.04L159,172.56L161,173.1L163,173.63L165,174.16L167,174.7L169,175.24L171,175.78L173,176.33" stroke="#fff" stroke-width="1.5" fill="none" opacity="0.2"/>
<ellipse cx="92" cy="102.5" rx="22" ry="4.5" fill="url(#haze)"/>
<ellipse cx="51.3" cy="101.4" rx="4.3" ry="2.8" fill="#fff" opacity="0.95"/>
<ellipse cx="62.2" cy="101.2" rx="5.2" ry="2.7" fill="#000" opacity="0.95"/>
<ellipse cx="74" cy="101.5" rx="4" ry="2" fill="#d8d8d8" opacity="0.95"/>
<ellipse cx="46" cy="106.5" rx="2.4" ry="1.6" fill="#000" opacity="0.95"/>
<ellipse cx="56" cy="106.2" rx="2.8" ry="1.3" fill="#fff" opacity="0.95"/>
<rect x="32.6" y="31" width="7.9" height="221.6" fill="url(#chk)"/>
<path d="M43.38,30.96 L39.56,33 L43.38,35.04" stroke="#000" stroke-width="1.3" fill="none"/>
<path d="M43.72,33.95 L38.89,35.56 L43.72,37.18" stroke="#fff" stroke-width="1.3" fill="none"/>
<path d="M43,35.47 L39.13,38.26 L43,41.06" stroke="#000" stroke-width="1.3" fill="none"/>
<path d="M44.84,38.38 L39.47,40.75 L44.84,43.11" stroke="#fff" stroke-width="1.3" fill="none"/>
<path d="M44.87,40.81 L40.02,43.04 L44.87,45.27" stroke="#000" stroke-width="1.3" fill="none"/>
<path d="M43.84,43.17 L38.89,45.68 L43.84,48.19" stroke="#fff" stroke-width="1.3" fill="none"/>
<path d="M42.83,45.6 L38.84,48.24 L42.83,50.88" stroke="#000" stroke-width="1.3" fill="none"/>
<path d="M45.1,48.26 L40.03,50.72 L45.1,53.18" stroke="#fff" stroke-width="1.3" fill="none"/>
<path d="M44.15,51.34 L39.92,53.47 L44.15,55.61" stroke="#000" stroke-width="1.3" fill="none"/>
<path d="M44.42,54.47 L38.94,56.23 L44.42,58" stroke="#fff" stroke-width="1.3" fill="none"/>
<path d="M45.12,56.21 L39.41,58.56 L45.12,60.92" stroke="#000" stroke-width="1.3" fill="none"/>
<path d="M43.86,58.92 L39.34,60.95 L43.86,62.97" stroke="#fff" stroke-width="1.3" fill="none"/>
<path d="M44.78,61.08 L40.07,63.5 L44.78,65.91" stroke="#000" stroke-width="1.3" fill="none"/>
<path d="M45.61,63.85 L40.19,66.25 L45.61,68.66" stroke="#fff" stroke-width="1.3" fill="none"/>
<path d="M45.59,65.87 L40.15,68.55 L45.59,71.24" stroke="#000" stroke-width="1.3" fill="none"/>
<path d="M44.15,68.5 L39.1,71.09 L44.15,73.69" stroke="#fff" stroke-width="1.3" fill="none"/>
<path d="M42.83,71.01 L38.89,73.64 L42.83,76.26" stroke="#000" stroke-width="1.3" fill="none"/>
<path d="M43.35,74.34 L39.92,76.43 L43.35,78.52" stroke="#fff" stroke-width="1.3" fill="none"/>
<path d="M43.84,76.07 L39.88,78.72 L43.84,81.37" stroke="#000" stroke-width="1.3" fill="none"/>
<path d="M43.66,78.49 L38.86,80.95 L43.66,83.41" stroke="#fff" stroke-width="1.3" fill="none"/>
<path d="M45.66,81.14 L40.17,83.35 L45.66,85.55" stroke="#000" stroke-width="1.3" fill="none"/>
<path d="M42.91,83.83 L38.91,86.15 L42.91,88.47" stroke="#fff" stroke-width="1.3" fill="none"/>
<path d="M43.08,86.03 L39.37,88.36 L43.08,90.7" stroke="#000" stroke-width="1.3" fill="none"/>
<path d="M43.33,88.68 L40.01,90.66 L43.33,92.63" stroke="#fff" stroke-width="1.3" fill="none"/>
<path d="M44.86,91.28 L39.33,93.43 L44.86,95.59" stroke="#000" stroke-width="1.3" fill="none"/>
<path d="M44.51,93.67 L39.63,95.95 L44.51,98.22" stroke="#fff" stroke-width="1.3" fill="none"/>
<path d="M45.16,96.4 L39.51,98.52 L45.16,100.63" stroke="#000" stroke-width="1.3" fill="none"/>
<path d="M43.04,98.38 L39.22,101.15 L43.04,103.92" stroke="#fff" stroke-width="1.3" fill="none"/>
<path d="M43.44,101.56 L38.82,103.66 L43.44,105.76" stroke="#000" stroke-width="1.3" fill="none"/>
<path d="M42.91,103.85 L39.66,106.21 L42.91,108.57" stroke="#fff" stroke-width="1.3" fill="none"/>
<path d="M44.28,106.03 L39.45,108.45 L44.28,110.86" stroke="#000" stroke-width="1.3" fill="none"/>
<path d="M44.87,109.23 L39.83,110.86 L44.87,112.48" stroke="#fff" stroke-width="1.3" fill="none"/>
<path d="M45.11,111.19 L40.15,113.09 L45.11,115" stroke="#000" stroke-width="1.3" fill="none"/>
<path d="M43.99,113.53 L39.25,115.57 L43.99,117.6" stroke="#fff" stroke-width="1.3" fill="none"/>
<path d="M43.79,116 L39.63,117.96 L43.79,119.92" stroke="#000" stroke-width="1.3" fill="none"/>
<path d="M44.05,118.1 L38.84,120.38 L44.05,122.67" stroke="#fff" stroke-width="1.3" fill="none"/>
<path d="M43.12,120.46 L39.11,123.02 L43.12,125.59" stroke="#000" stroke-width="1.3" fill="none"/>
<path d="M43.1,122.93 L39.41,125.37 L43.1,127.8" stroke="#fff" stroke-width="1.3" fill="none"/>
<path d="M43.3,125.03 L39.27,127.63 L43.3,130.23" stroke="#000" stroke-width="1.3" fill="none"/>
<path d="M44.46,128.09 L39.04,130.09 L44.46,132.09" stroke="#fff" stroke-width="1.3" fill="none"/>
<path d="M44.93,130.81 L39.43,132.68 L44.93,134.55" stroke="#000" stroke-width="1.3" fill="none"/>
<path d="M43.64,132.39 L39.07,134.95 L43.64,137.52" stroke="#fff" stroke-width="1.3" fill="none"/>
<path d="M42.87,135.09 L39.19,137.66 L42.87,140.22" stroke="#000" stroke-width="1.3" fill="none"/>
<path d="M44.58,138.49 L39.28,140.24 L44.58,142" stroke="#fff" stroke-width="1.3" fill="none"/>
<path d="M44.44,140.6 L39.18,142.62 L44.44,144.63" stroke="#000" stroke-width="1.3" fill="none"/>
<path d="M43.66,142.36 L39.37,145.07 L43.66,147.77" stroke="#fff" stroke-width="1.3" fill="none"/>
<path d="M43.33,144.7 L40.12,147.36 L43.33,150.02" stroke="#000" stroke-width="1.3" fill="none"/>
<path d="M44.46,147.44 L40.13,150.15 L44.46,152.87" stroke="#fff" stroke-width="1.3" fill="none"/>
<path d="M45.11,150.09 L39.97,152.49 L45.11,154.88" stroke="#000" stroke-width="1.3" fill="none"/>
<path d="M43.23,153.12 L39.28,155 L43.23,156.87" stroke="#fff" stroke-width="1.3" fill="none"/>
<path d="M43.93,154.67 L39.2,157.24 L43.93,159.81" stroke="#000" stroke-width="1.3" fill="none"/>
<path d="M45.32,156.76 L39.77,159.46 L45.32,162.17" stroke="#fff" stroke-width="1.3" fill="none"/>
<path d="M45.15,160.59 L39.61,162.2 L45.15,163.82" stroke="#000" stroke-width="1.3" fill="none"/>
<path d="M42.87,162.45 L39.22,164.85 L42.87,167.25" stroke="#fff" stroke-width="1.3" fill="none"/>
<path d="M44.39,165.03 L40.11,167.37 L44.39,169.7" stroke="#000" stroke-width="1.3" fill="none"/>
<path d="M43.86,167.6 L40.01,169.77 L43.86,171.94" stroke="#fff" stroke-width="1.3" fill="none"/>
<path d="M43.19,170.2 L39.08,172.44 L43.19,174.68" stroke="#000" stroke-width="1.3" fill="none"/>
<path d="M43.55,172.42 L39.91,175.13 L43.55,177.84" stroke="#fff" stroke-width="1.3" fill="none"/>
<path d="M44.15,175.46 L38.81,177.81 L44.15,180.17" stroke="#000" stroke-width="1.3" fill="none"/>
<path d="M42.51,178.61 L39.18,180.53 L42.51,182.45" stroke="#fff" stroke-width="1.3" fill="none"/>
<path d="M43.76,180.52 L39.46,183.05 L43.76,185.58" stroke="#000" stroke-width="1.3" fill="none"/>
<path d="M42.32,183.5 L38.98,185.25 L42.32,187" stroke="#fff" stroke-width="1.3" fill="none"/>
<path d="M45.73,185.79 L40,187.49 L45.73,189.19" stroke="#000" stroke-width="1.3" fill="none"/>
<path d="M43.26,187.97 L39.24,189.99 L43.26,192.01" stroke="#fff" stroke-width="1.3" fill="none"/>
<path d="M44.03,190.75 L39.31,192.58 L44.03,194.41" stroke="#000" stroke-width="1.3" fill="none"/>
<path d="M43.1,192.52 L39.58,194.98 L43.1,197.43" stroke="#fff" stroke-width="1.3" fill="none"/>
<path d="M42.46,195.36 L39.05,197.4 L42.46,199.45" stroke="#000" stroke-width="1.3" fill="none"/>
<path d="M44.57,197.41 L39.33,199.97 L44.57,202.53" stroke="#fff" stroke-width="1.3" fill="none"/>
<path d="M43.64,200.34 L39.32,202.54 L43.64,204.74" stroke="#000" stroke-width="1.3" fill="none"/>
<path d="M44.07,203.01 L39.77,205.16 L44.07,207.32" stroke="#fff" stroke-width="1.3" fill="none"/>
<path d="M44.37,205.82 L39.77,207.51 L44.37,209.19" stroke="#000" stroke-width="1.3" fill="none"/>
<path d="M44.34,207.24 L40.03,209.96 L44.34,212.69" stroke="#fff" stroke-width="1.3" fill="none"/>
<path d="M45.44,210.47 L39.91,212.39 L45.44,214.3" stroke="#000" stroke-width="1.3" fill="none"/>
<path d="M43.46,212.47 L39.94,214.87 L43.46,217.26" stroke="#fff" stroke-width="1.3" fill="none"/>
<path d="M45,215.12 L39.73,217.6 L45,220.08" stroke="#000" stroke-width="1.3" fill="none"/>
<path d="M43.09,218.53 L39.62,220.14 L43.09,221.74" stroke="#fff" stroke-width="1.3" fill="none"/>
<path d="M44.08,220.71 L38.86,222.42 L44.08,224.13" stroke="#000" stroke-width="1.3" fill="none"/>
<path d="M44.54,223.06 L39.05,224.68 L44.54,226.31" stroke="#fff" stroke-width="1.3" fill="none"/>
<path d="M43.5,224.98 L39.98,227.39 L43.5,229.8" stroke="#000" stroke-width="1.3" fill="none"/>
<path d="M45.29,227.53 L39.61,230.09 L45.29,232.65" stroke="#fff" stroke-width="1.3" fill="none"/>
<path d="M44.71,229.85 L39.52,232.31 L44.71,234.77" stroke="#000" stroke-width="1.3" fill="none"/>
<path d="M45.26,232.9 L40.11,234.58 L45.26,236.25" stroke="#fff" stroke-width="1.3" fill="none"/>
<path d="M44.63,235.08 L39.96,236.97 L44.63,238.86" stroke="#000" stroke-width="1.3" fill="none"/>
<path d="M43.51,236.77 L39.66,239.28 L43.51,241.78" stroke="#fff" stroke-width="1.3" fill="none"/>
<path d="M43.51,239.69 L39.36,241.71 L43.51,243.73" stroke="#000" stroke-width="1.3" fill="none"/>
<path d="M42.92,241.4 L39.5,244.17 L42.92,246.93" stroke="#fff" stroke-width="1.3" fill="none"/>
<path d="M44.17,244.18 L39.02,246.61 L44.17,249.04" stroke="#000" stroke-width="1.3" fill="none"/>
<path d="M44.48,247.09 L39.52,249.27 L44.48,251.45" stroke="#fff" stroke-width="1.3" fill="none"/>
<path d="M44.54,250.14 L39.01,251.85 L44.54,253.57" stroke="#000" stroke-width="1.3" fill="none"/>
</g>
<text x="147" y="57" font-family="Liberation Serif, serif" font-size="20" font-weight="bold" text-anchor="middle" fill="#000" >(a)</text>
<rect x="177.2" y="17.6" width="27.4" height="16.2" fill="#f3f3f3"/>
<path d="M177.2,253 L177.2,17.6 L354,17.6" fill="none" stroke="#989898" stroke-width="1"/>
<line x1="177.2" y1="33.8" x2="354" y2="33.8" stroke="#808080" stroke-width="0.9"/>
<line x1="204.6" y1="17.6" x2="204.6" y2="252.6" stroke="#808080" stroke-width="0.9"/>
<text x="178.4" y="25" font-family="Liberation Sans, sans-serif" font-size="6.2" font-weight="normal" text-anchor="start" fill="#4a4a4a" textLength="20" lengthAdjust="spacingAndGlyphs">TRCIDX</text>
<text x="178.4" y="30.9" font-family="Liberation Sans, sans-serif" font-size="6.2" font-weight="normal" text-anchor="start" fill="#4a4a4a" textLength="17" lengthAdjust="spacingAndGlyphs">SEQWL</text>
<text x="219" y="23.2" font-family="Liberation Serif, serif" font-size="3.8" font-weight="bold" text-anchor="middle" fill="#333" >644</text>
<text x="219" y="28.4" font-family="Liberation Serif, serif" font-size="3.8" font-weight="bold" text-anchor="middle" fill="#333" >644</text>
<line x1="219" y1="32.5" x2="219" y2="33.8" stroke="#555" stroke-width="0.6"/>
<text x="245.5" y="23.2" font-family="Liberation Serif, serif" font-size="3.8" font-weight="bold" text-anchor="middle" fill="#333" >776</text>
<text x="245.5" y="28.4" font-family="Liberation Serif, serif" font-size="3.8" font-weight="bold" text-anchor="middle" fill="#333" >776</text>
<line x1="245.5" y1="32.5" x2="245.5" y2="33.8" stroke="#555" stroke-width="0.6"/>
<text x="272" y="23.2" font-family="Liberation Serif, serif" font-size="3.8" font-weight="bold" text-anchor="middle" fill="#333" >888</text>
<text x="272" y="28.4" font-family="Liberation Serif, serif" font-size="3.8" font-weight="bold" text-anchor="middle" fill="#333" >888</text>
<line x1="272" y1="32.5" x2="272" y2="33.8" stroke="#555" stroke-width="0.6"/>
<text x="298.5" y="23.2" font-family="Liberation Serif, serif" font-size="3.8" font-weight="bold" text-anchor="middle" fill="#333" >1000</text>
<text x="298.5" y="28.4" font-family="Liberation Serif, serif" font-size="3.8" font-weight="bold" text-anchor="middle" fill="#333" >1000</text>
<line x1="298.5" y1="32.5" x2="298.5" y2="33.8" stroke="#555" stroke-width="0.6"/>
<text x="325" y="23.2" font-family="Liberation Serif, serif" font-size="3.8" font-weight="bold" text-anchor="middle" fill="#333" >1112</text>
<text x="325" y="28.4" font-family="Liberation Serif, serif" font-size="3.8" font-weight="bold" text-anchor="middle" fill="#333" >1112</text>
<line x1="325" y1="32.5" x2="325" y2="33.8" stroke="#555" stroke-width="0.6"/>
<text x="203.1" y="61.4" font-family="Liberation Serif, serif" font-size="5.0" font-weight="bold" text-anchor="end" fill="#333" >300</text>
<line x1="203.4" y1="59.5" x2="204.6" y2="59.5" stroke="#555" stroke-width="0.5"/>
<text x="203.1" y="98" font-family="Liberation Serif, serif" font-size="5.0" font-weight="bold" text-anchor="end" fill="#333" >400</text>
<line x1="203.4" y1="96.1" x2="204.6" y2="96.1" stroke="#555" stroke-width="0.5"/>
<text x="203.1" y="134.6" font-family="Liberation Serif, serif" font-size="5.0" font-weight="bold" text-anchor="end" fill="#333" >500</text>
<line x1="203.4" y1="132.7" x2="204.6" y2="132.7" stroke="#555" stroke-width="0.5"/>
<text x="203.1" y="171.2" font-family="Liberation Serif, serif" font-size="5.0" font-weight="bold" text-anchor="end" fill="#333" >600</text>
<line x1="203.4" y1="169.3" x2="204.6" y2="169.3" stroke="#555" stroke-width="0.5"/>
<text x="203.1" y="207.8" font-family="Liberation Serif, serif" font-size="5.0" font-weight="bold" text-anchor="end" fill="#333" >700</text>
<line x1="203.4" y1="205.9" x2="204.6" y2="205.9" stroke="#555" stroke-width="0.5"/>
<text x="203.1" y="244.4" font-family="Liberation Serif, serif" font-size="5.0" font-weight="bold" text-anchor="end" fill="#333" >800</text>
<line x1="203.4" y1="242.5" x2="204.6" y2="242.5" stroke="#555" stroke-width="0.5"/>
<text x="265.1" y="16.3" font-family="Liberation Serif, serif" font-size="8.9" font-weight="bold" text-anchor="middle" fill="#111" >Depth(m)</text>
<text transform="translate(184.8,142.1) rotate(-90)" font-family="Liberation Serif, serif" font-size="8.7" font-weight="bold" text-anchor="middle" fill="#111">Time(ms)</text>
<line x1="204.6" y1="33.8" x2="204.6" y2="252.6" stroke="#666" stroke-width="0.9"/>
<path d="M209.9,47.4L210.7,47.4L212.4,48.1L213.3,48.8L213.3,49.5L213.3,50.2L213.3,50.9L212.2,51.6L210.7,52.3L209.9,53.0ZM209.9,59.3L211.7,59.3L213.0,60.0L213.3,60.7L213.3,61.4L213.3,62.1L212.6,62.8L211.5,63.5L210.3,64.2L209.9,64.9ZM209.9,71.2L210.6,71.2L211.0,71.9L211.2,72.6L211.2,73.3L211.1,74.0L210.8,74.7L210.5,75.4L209.9,76.1ZM209.9,84.5L210.3,84.5L210.4,85.2L210.5,85.9L210.5,86.6L210.4,87.3L210.3,88.0L209.9,88.7ZM209.9,93.6L210.8,93.6L212.1,94.3L212.8,95.0L213.2,95.7L213.1,96.4L212.6,97.1L211.6,97.8L210.3,98.5L209.9,99.2ZM209.9,104.8L210.3,104.8L211.6,105.5L212.6,106.2L213.1,106.9L213.2,107.6L212.8,108.3L212.0,109.0L211.1,109.7L209.9,110.4ZM209.9,117.4L210.6,117.4L210.9,118.1L211.0,118.8L210.9,119.5L210.7,120.2L210.4,120.9L209.9,121.6ZM209.9,127.9L210.2,127.9L210.4,128.6L210.4,129.3L210.3,130.0L209.9,130.7ZM209.9,138.4L210.3,138.4L210.4,139.1L210.4,139.8L210.4,140.5L210.2,141.2L209.9,141.9ZM209.9,149.6L210.2,149.6L210.3,150.3L210.2,151.0L209.9,151.7ZM209.9,127.6h1.15v5.3h-1.15ZM209.9,140.1h1.15v5.9h-1.15ZM209.9,152.3h1.15v4.7h-1.15ZM209.9,161.7h1.15v4.3h-1.15ZM209.9,173.0h1.15v3.3h-1.15ZM209.9,184.4h1.15v4.0h-1.15ZM213.6,48.8L214.4,48.8L216.1,49.5L217.0,50.2L217.0,50.9L217.0,51.6L217.0,52.3L215.9,53.0L214.4,53.7L213.6,54.4ZM213.6,60.7L215.3,60.7L216.8,61.4L217.0,62.1L217.0,62.8L217.0,63.5L217.0,64.2L215.9,64.9L214.6,65.6L213.6,66.3ZM213.6,72.6L213.9,72.6L214.6,73.3L215.1,74.0L215.4,74.7L215.4,75.4L215.1,76.1L214.8,76.8L214.3,77.5L213.6,78.2ZM213.6,85.9L213.9,85.9L214.1,86.6L214.1,87.3L214.1,88.0L214.0,88.7L213.9,89.4L213.6,90.1ZM213.6,95.0L214.6,95.0L215.8,95.7L216.5,96.4L216.9,97.1L216.7,97.8L216.1,98.5L215.1,99.2L213.6,99.9ZM213.6,106.2L214.2,106.2L215.6,106.9L216.6,107.6L217.0,108.3L217.0,109.0L216.7,109.7L215.9,110.4L214.9,111.1L213.6,111.8ZM213.6,118.8L214.4,118.8L214.9,119.5L215.2,120.2L215.2,120.9L215.1,121.6L214.8,122.3L214.3,123.0L213.6,123.7ZM213.6,130.7L213.9,130.7L214.2,131.4L214.4,132.1L214.5,132.8L214.4,133.5L214.3,134.2L214.1,134.9L213.6,135.6ZM213.6,145.4L213.9,145.4L213.6,146.1ZM213.6,162.2L213.9,162.2L214.0,162.9L214.0,163.6L213.9,164.3L213.6,165.0ZM213.6,174.1L213.9,174.1L214.0,174.8L214.0,175.5L213.9,176.2L213.6,176.9ZM213.6,164.9h1.15v3.2h-1.15ZM213.6,176.6h1.15v5.9h-1.15ZM213.6,186.8h1.15v4.7h-1.15ZM217.3,50.2L217.9,50.2L219.6,50.9L220.4,51.6L220.7,52.3L220.7,53.0L220.5,53.7L219.5,54.4L218.1,55.1L217.3,55.8ZM217.3,62.1L218.7,62.1L220.1,62.8L220.7,63.5L220.7,64.2L220.7,64.9L220.5,65.6L219.4,66.3L218.3,67.0L217.3,67.7ZM217.3,74.0L217.7,74.0L218.2,74.7L218.6,75.4L218.7,76.1L218.7,76.8L218.4,77.5L218.0,78.2L217.6,78.9L217.3,79.6ZM217.3,86.6L217.7,86.6L217.7,87.3L217.7,88.0L217.3,88.7ZM217.3,95.0L217.6,95.0L219.0,95.7L220.0,96.4L220.6,97.1L220.7,97.8L220.4,98.5L219.6,99.2L218.4,99.9L217.3,100.6ZM217.3,106.9L218.1,106.9L219.4,107.6L220.3,108.3L220.6,109.0L220.6,109.7L220.1,110.4L219.3,111.1L218.4,111.8L217.3,112.5ZM217.3,119.5L217.7,119.5L218.0,120.2L218.2,120.9L218.3,121.6L218.2,122.3L218.0,123.0L217.8,123.7L217.6,124.4L217.3,125.1ZM217.3,167.8L217.6,167.8L217.6,168.5L217.6,169.2L217.6,169.9L217.3,170.6ZM217.3,130.2h1.15v3.2h-1.15ZM217.3,142.1h1.15v4.8h-1.15ZM217.3,152.1h1.15v3.2h-1.15ZM217.3,176.8h1.15v5.6h-1.15ZM217.3,186.8h1.15v5.5h-1.15ZM220.9,51.6L221.6,51.6L223.1,52.3L223.9,53.0L224.3,53.7L224.3,54.4L224.0,55.1L223.1,55.8L221.8,56.5L220.9,57.2ZM220.9,63.5L222.3,63.5L223.6,64.2L224.3,64.9L224.3,65.6L224.3,66.3L224.0,67.0L223.0,67.7L221.8,68.4L220.9,69.1ZM220.9,75.4L221.5,75.4L222.2,76.1L222.6,76.8L222.8,77.5L222.7,78.2L222.4,78.9L221.9,79.6L221.3,80.3L220.9,81.0ZM220.9,87.3L221.4,87.3L221.7,88.0L221.9,88.7L221.9,89.4L221.8,90.1L221.5,90.8L220.9,91.5ZM220.9,97.8L221.5,97.8L223.0,98.5L223.9,99.2L224.3,99.9L224.3,100.6L224.0,101.3L223.1,102.0L221.8,102.7L220.9,103.4ZM220.9,109.7L222.3,109.7L223.4,110.4L224.1,111.1L224.3,111.8L224.1,112.5L223.4,113.2L222.5,113.9L221.5,114.6L220.9,115.3ZM220.9,121.6L221.5,121.6L221.9,122.3L222.1,123.0L222.1,123.7L222.0,124.4L221.7,125.1L221.4,125.8L220.9,126.5ZM220.9,151.0L221.2,151.0L221.3,151.7L221.3,152.4L220.9,153.1ZM220.9,162.2L221.3,162.2L221.4,162.9L221.4,163.6L221.3,164.3L220.9,165.0ZM220.9,173.4L221.3,173.4L221.3,174.1L221.3,174.8L220.9,175.5ZM220.9,133.0h1.15v4.1h-1.15ZM220.9,145.4h1.15v4.5h-1.15ZM220.9,156.7h1.15v3.0h-1.15ZM220.9,178.1h1.15v5.1h-1.15ZM220.9,191.3h1.15v5.8h-1.15ZM224.6,53.0L225.3,53.0L227.1,53.7L228.0,54.4L228.0,55.1L228.0,55.8L228.0,56.5L227.2,57.2L225.7,57.9L224.6,58.6ZM224.6,64.9L226.3,64.9L227.8,65.6L228.0,66.3L228.0,67.0L228.0,67.7L228.0,68.4L226.8,69.1L225.4,69.8L224.6,70.5ZM224.6,76.8L225.5,76.8L226.1,77.5L226.4,78.2L226.4,78.9L226.2,79.6L225.8,80.3L225.3,81.0L224.6,81.7ZM224.6,89.4L225.1,89.4L225.2,90.1L225.3,90.8L225.2,91.5L225.1,92.2L225.0,92.9L224.6,93.6ZM224.6,98.5L225.1,98.5L226.7,99.2L227.6,99.9L228.0,100.6L228.0,101.3L227.8,102.0L226.8,102.7L225.5,103.4L224.6,104.1ZM224.6,110.4L226.1,110.4L227.4,111.1L228.0,111.8L228.0,112.5L228.0,113.2L227.4,113.9L226.4,114.6L225.3,115.3L224.6,116.0ZM224.6,122.3L225.3,122.3L225.8,123.0L226.0,123.7L226.1,124.4L225.9,125.1L225.6,125.8L225.2,126.5L224.6,127.2ZM224.6,134.9L225.0,134.9L225.1,135.6L225.1,136.3L225.1,137.0L225.0,137.7L224.9,138.4L224.6,139.1ZM224.6,148.2L225.0,148.2L225.0,148.9L225.1,149.6L225.0,150.3L224.6,151.0ZM224.6,160.1L225.0,160.1L225.0,160.8L224.9,161.5L224.6,162.2ZM224.6,132.4h1.15v2.7h-1.15ZM224.6,144.1h1.15v5.5h-1.15ZM224.6,156.5h1.15v5.7h-1.15ZM224.6,167.0h1.15v3.4h-1.15ZM224.6,179.1h1.15v3.1h-1.15ZM228.3,54.4L228.9,54.4L230.6,55.1L231.5,55.8L231.7,56.5L231.7,57.2L231.7,57.9L230.7,58.6L229.3,59.3L228.3,60.0ZM228.3,66.3L229.6,66.3L231.0,67.0L231.7,67.7L231.7,68.4L231.7,69.1L231.7,69.8L230.7,70.5L229.6,71.2L228.3,71.9ZM228.3,78.9L229.3,78.9L229.8,79.6L230.1,80.3L230.1,81.0L229.9,81.7L229.5,82.4L229.0,83.1L228.3,83.8ZM228.3,90.8L228.6,90.8L228.8,91.5L228.9,92.2L228.9,92.9L228.8,93.6L228.6,94.3L228.3,95.0ZM228.3,100.6L229.2,100.6L230.5,101.3L231.1,102.0L231.4,102.7L231.2,103.4L230.6,104.1L229.6,104.8L228.3,105.5ZM228.3,111.8L228.9,111.8L230.1,112.5L231.0,113.2L231.4,113.9L231.3,114.6L230.8,115.3L230.1,116.0L229.2,116.7L228.3,117.4ZM228.3,124.4L229.0,124.4L229.3,125.1L229.5,125.8L229.5,126.5L229.4,127.2L229.1,127.9L228.7,128.6L228.3,129.3ZM228.3,136.3L228.7,136.3L228.9,137.0L229.1,137.7L229.2,138.4L229.1,139.1L229.0,139.8L228.7,140.5L228.3,141.2ZM228.3,148.2L228.6,148.2L228.9,148.9L229.0,149.6L229.0,150.3L228.9,151.0L228.8,151.7L228.3,152.4ZM228.3,136.4h1.15v4.7h-1.15ZM228.3,146.7h1.15v3.6h-1.15ZM228.3,159.5h1.15v4.4h-1.15ZM232.0,55.8L232.6,55.8L234.4,56.5L235.4,57.2L235.4,57.9L235.4,58.6L235.4,59.3L234.7,60.0L233.1,60.7L232.0,61.4ZM232.0,67.7L233.5,67.7L235.1,68.4L235.4,69.1L235.4,69.8L235.4,70.5L235.4,71.2L234.7,71.9L233.3,72.6L232.0,73.3ZM232.0,80.3L233.1,80.3L233.7,81.0L234.0,81.7L234.1,82.4L233.9,83.1L233.5,83.8L232.9,84.5L232.3,85.2L232.0,85.9ZM232.0,92.9L232.6,92.9L232.9,93.6L233.1,94.3L233.1,95.0L233.0,95.7L232.8,96.4L232.5,97.1L232.0,97.8ZM232.0,102.7L233.8,102.7L234.7,103.4L235.4,104.1L235.4,104.8L235.1,105.5L234.3,106.2L233.0,106.9L232.0,107.6ZM232.0,113.9L233.1,113.9L234.3,114.6L235.0,115.3L235.3,116.0L235.1,116.7L234.6,117.4L233.8,118.1L232.9,118.8L232.0,119.5ZM232.0,126.5L232.3,126.5L232.7,127.2L232.9,127.9L233.0,128.6L233.0,129.3L232.9,130.0L232.7,130.7L232.4,131.4L232.0,132.1ZM232.0,141.2L232.3,141.2L232.4,141.9L232.5,142.6L232.5,143.3L232.5,144.0L232.4,144.7L232.0,145.4ZM232.0,154.5L232.3,154.5L232.4,155.2L232.5,155.9L232.4,156.6L232.4,157.3L232.0,158.0ZM232.0,167.1L232.3,167.1L232.4,167.8L232.4,168.5L232.4,169.2L232.0,169.9ZM232.0,135.6h1.15v6.0h-1.15ZM232.0,149.1h1.15v3.9h-1.15ZM232.0,160.2h1.15v4.0h-1.15ZM232.0,172.0h1.15v5.1h-1.15ZM232.0,194.1h1.15v4.9h-1.15ZM235.7,57.2L236.3,57.2L238.0,57.9L239.1,58.6L239.1,59.3L239.1,60.0L239.1,60.7L238.3,61.4L236.8,62.1L235.7,62.8ZM235.7,69.1L237.0,69.1L238.6,69.8L239.1,70.5L239.1,71.2L239.1,71.9L239.1,72.6L238.4,73.3L237.1,74.0L235.7,74.7ZM235.7,81.0L236.2,81.0L236.9,81.7L237.3,82.4L237.5,83.1L237.3,83.8L237.0,84.5L236.5,85.2L236.0,85.9L235.7,86.6ZM235.7,94.3L236.0,94.3L236.0,95.0L235.7,95.7ZM235.7,103.4L236.8,103.4L238.1,104.1L238.8,104.8L239.1,105.5L238.9,106.2L238.2,106.9L237.1,107.6L235.7,108.3ZM235.7,114.6L236.4,114.6L237.8,115.3L238.8,116.0L239.1,116.7L239.1,117.4L238.7,118.1L237.8,118.8L236.7,119.5L235.7,120.2ZM235.7,126.5L236.0,126.5L236.5,127.2L236.8,127.9L236.9,128.6L236.9,129.3L236.6,130.0L236.3,130.7L236.0,131.4L235.7,132.1ZM235.7,140.5L236.1,140.5L236.3,141.2L236.3,141.9L236.3,142.6L236.2,143.3L236.0,144.0L235.7,144.7ZM235.7,151.7L236.1,151.7L236.3,152.4L236.5,153.1L236.5,153.8L236.4,154.5L236.1,155.2L235.7,155.9ZM235.7,162.9L236.0,162.9L236.2,163.6L236.2,164.3L236.2,165.0L236.1,165.7L235.7,166.4ZM235.7,139.0h1.15v4.8h-1.15ZM235.7,148.7h1.15v5.3h-1.15ZM235.7,172.2h1.15v3.6h-1.15ZM235.7,183.1h1.15v5.4h-1.15ZM239.3,58.6L239.8,58.6L241.4,59.3L242.4,60.0L242.7,60.7L242.7,61.4L242.7,62.1L241.8,62.8L240.4,63.5L239.3,64.2ZM239.3,70.5L240.6,70.5L242.1,71.2L242.7,71.9L242.7,72.6L242.7,73.3L242.7,74.0L241.9,74.7L240.7,75.4L239.3,76.1ZM239.3,83.1L240.3,83.1L240.9,83.8L241.2,84.5L241.3,85.2L241.1,85.9L240.8,86.6L240.2,87.3L239.7,88.0L239.3,88.7ZM239.3,95.7L239.9,95.7L240.1,96.4L240.1,97.1L240.1,97.8L240.0,98.5L239.8,99.2L239.3,99.9ZM239.3,104.1L241.0,104.1L241.8,104.8L242.3,105.5L242.4,106.2L242.0,106.9L241.2,107.6L240.1,108.3L239.3,109.0ZM239.3,115.3L240.8,115.3L241.9,116.0L242.5,116.7L242.7,117.4L242.4,118.1L241.8,118.8L240.8,119.5L239.8,120.2L239.3,120.9ZM239.3,127.2L240.0,127.2L240.4,127.9L240.7,128.6L240.7,129.3L240.5,130.0L240.3,130.7L239.9,131.4L239.3,132.1ZM239.3,139.1L239.7,139.1L239.8,139.8L239.8,140.5L239.8,141.2L239.7,141.9L239.3,142.6ZM239.3,138.1h1.15v2.6h-1.15ZM239.3,150.6h1.15v5.0h-1.15ZM239.3,161.4h1.15v5.3h-1.15ZM239.3,171.5h1.15v4.1h-1.15ZM239.3,195.0h1.15v2.7h-1.15ZM243.0,60.0L243.5,60.0L245.1,60.7L246.2,61.4L246.4,62.1L246.4,62.8L246.4,63.5L245.6,64.2L244.2,64.9L243.0,65.6ZM243.0,71.9L244.4,71.9L245.9,72.6L246.4,73.3L246.4,74.0L246.4,74.7L246.3,75.4L245.2,76.1L244.1,76.8L243.0,77.5ZM243.0,84.5L243.8,84.5L244.3,85.2L244.7,85.9L244.9,86.6L244.8,87.3L244.5,88.0L244.1,88.7L243.5,89.4L243.0,90.1ZM243.0,97.1L243.7,97.1L244.0,97.8L244.1,98.5L244.1,99.2L243.9,99.9L243.6,100.6L243.0,101.3ZM243.0,105.5L243.3,105.5L244.8,106.2L245.7,106.9L246.3,107.6L246.3,108.3L245.9,109.0L245.0,109.7L243.7,110.4L243.0,111.1ZM243.0,117.4L244.6,117.4L245.7,118.1L246.3,118.8L246.4,119.5L246.0,120.2L245.3,120.9L244.4,121.6L243.4,122.3L243.0,123.0ZM243.0,129.3L243.7,129.3L244.2,130.0L244.5,130.7L244.5,131.4L244.3,132.1L244.0,132.8L243.6,133.5L243.0,134.2ZM243.0,141.2L243.6,141.2L243.8,141.9L243.9,142.6L243.8,143.3L243.6,144.0L243.4,144.7L243.0,145.4ZM243.0,169.2L243.5,169.2L243.6,169.9L243.6,170.6L243.5,171.3L243.4,172.0L243.0,172.7ZM243.0,140.8h1.15v3.5h-1.15ZM243.0,151.3h1.15v4.3h-1.15ZM243.0,187.3h1.15v5.8h-1.15ZM246.7,61.4L247.1,61.4L248.6,62.1L249.6,62.8L250.1,63.5L250.1,64.2L249.9,64.9L249.1,65.6L247.8,66.3L246.7,67.0ZM246.7,73.3L247.7,73.3L249.2,74.0L250.1,74.7L250.1,75.4L250.1,76.1L249.9,76.8L249.0,77.5L247.9,78.2L246.7,78.9ZM246.7,85.9L247.5,85.9L248.0,86.6L248.3,87.3L248.4,88.0L248.2,88.7L247.9,89.4L247.4,90.1L246.7,90.8ZM246.7,98.5L247.2,98.5L247.4,99.2L247.5,99.9L247.5,100.6L247.4,101.3L247.2,102.0L246.7,102.7ZM246.7,106.9L247.5,106.9L248.5,107.6L249.2,108.3L249.5,109.0L249.4,109.7L248.9,110.4L248.1,111.1L246.7,111.8ZM246.7,118.1L247.1,118.1L248.3,118.8L249.1,119.5L249.5,120.2L249.5,120.9L249.2,121.6L248.6,122.3L247.8,123.0L246.7,123.7ZM246.7,130.7L247.1,130.7L247.4,131.4L247.6,132.1L247.7,132.8L247.7,133.5L247.5,134.2L247.3,134.9L246.7,135.6ZM246.7,144.7L247.1,144.7L247.1,145.4L247.1,146.1L247.1,146.8L247.0,147.5L246.7,148.2ZM246.7,158.7L247.0,158.7L247.1,159.4L247.0,160.1L246.7,160.8ZM246.7,140.6h1.15v5.4h-1.15ZM246.7,153.2h1.15v3.2h-1.15ZM246.7,177.0h1.15v5.3h-1.15ZM250.4,62.8L250.8,62.8L252.3,63.5L253.5,64.2L253.8,64.9L253.8,65.6L253.8,66.3L253.0,67.0L251.6,67.7L250.4,68.4ZM250.4,74.7L251.4,74.7L253.0,75.4L253.8,76.1L253.8,76.8L253.8,77.5L253.8,78.2L252.9,78.9L251.6,79.6L250.4,80.3ZM250.4,86.6L250.8,86.6L251.4,87.3L251.8,88.0L251.9,88.7L251.8,89.4L251.6,90.1L251.2,90.8L250.8,91.5L250.4,92.2ZM250.4,100.6L250.8,100.6L250.9,101.3L250.9,102.0L250.8,102.7L250.8,103.4L250.4,104.1ZM250.4,107.6L251.2,107.6L252.3,108.3L252.9,109.0L253.2,109.7L253.1,110.4L252.7,111.1L251.8,111.8L250.7,112.5L250.4,113.2ZM250.4,119.5L251.9,119.5L252.9,120.2L253.4,120.9L253.5,121.6L253.2,122.3L252.5,123.0L251.7,123.7L250.7,124.4L250.4,125.1ZM250.4,131.4L251.1,131.4L251.4,132.1L251.5,132.8L251.5,133.5L251.3,134.2L250.9,134.9L250.4,135.6ZM250.4,142.6L250.7,142.6L250.7,143.3L250.4,144.0ZM250.4,167.1L250.7,167.1L250.8,167.8L250.7,168.5L250.4,169.2ZM250.4,178.3L250.7,178.3L250.7,179.0L250.4,179.7ZM250.4,152.7h1.15v4.3h-1.15ZM254.1,64.2L254.4,64.2L255.9,64.9L257.0,65.6L257.5,66.3L257.5,67.0L257.4,67.7L256.6,68.4L255.3,69.1L254.1,69.8ZM254.1,76.1L255.1,76.1L256.6,76.8L257.5,77.5L257.5,78.2L257.5,78.9L257.3,79.6L256.3,80.3L255.2,81.0L254.1,81.7ZM254.1,88.7L254.8,88.7L255.3,89.4L255.5,90.1L255.6,90.8L255.4,91.5L255.1,92.2L254.7,92.9L254.1,93.6ZM254.1,101.3L254.4,101.3L254.5,102.0L254.6,102.7L254.6,103.4L254.6,104.1L254.5,104.8L254.1,105.5ZM254.1,109.7L255.2,109.7L256.1,110.4L256.7,111.1L257.0,111.8L256.8,112.5L256.2,113.2L255.2,113.9L254.1,114.6ZM254.1,120.9L254.7,120.9L255.9,121.6L256.7,122.3L257.1,123.0L257.0,123.7L256.6,124.4L255.9,125.1L255.1,125.8L254.1,126.5ZM254.1,133.5L254.5,133.5L254.8,134.2L255.0,134.9L255.1,135.6L255.0,136.3L254.9,137.0L254.6,137.7L254.1,138.4ZM254.1,148.2L254.4,148.2L254.4,148.9L254.4,149.6L254.1,150.3ZM254.1,145.1h1.15v5.5h-1.15ZM254.1,156.8h1.15v4.5h-1.15ZM254.1,166.3h1.15v4.3h-1.15ZM254.1,178.9h1.15v5.9h-1.15ZM254.1,190.1h1.15v5.3h-1.15ZM257.7,65.6L258.1,65.6L259.7,66.3L260.9,67.0L261.1,67.7L261.1,68.4L261.1,69.1L260.5,69.8L259.1,70.5L257.7,71.2ZM257.7,77.5L258.8,77.5L260.3,78.2L261.1,78.9L261.1,79.6L261.1,80.3L261.0,81.0L260.0,81.7L258.9,82.4L257.7,83.1ZM257.7,90.1L258.5,90.1L258.9,90.8L259.1,91.5L259.1,92.2L258.9,92.9L258.6,93.6L258.2,94.3L257.7,95.0ZM257.7,102.0L258.1,102.0L258.4,102.7L258.5,103.4L258.6,104.1L258.5,104.8L258.4,105.5L258.1,106.2L257.7,106.9ZM257.7,111.1L258.2,111.1L259.7,111.8L260.6,112.5L261.1,113.2L261.1,113.9L260.7,114.6L259.8,115.3L258.5,116.0L257.7,116.7ZM257.7,123.0L259.3,123.0L260.4,123.7L261.0,124.4L261.1,125.1L260.7,125.8L260.0,126.5L259.1,127.2L258.1,127.9L257.7,128.6ZM257.7,134.2L258.1,134.2L258.5,134.9L258.7,135.6L258.8,136.3L258.7,137.0L258.4,137.7L258.1,138.4L257.7,139.1ZM257.7,145.4L258.1,145.4L258.2,146.1L258.2,146.8L258.2,147.5L258.1,148.2L257.7,148.9ZM257.7,172.7L258.1,172.7L258.1,173.4L258.1,174.1L257.7,174.8ZM257.7,157.1h1.15v3.2h-1.15ZM257.7,190.5h1.15v3.3h-1.15ZM261.4,67.0L261.8,67.0L263.2,67.7L264.4,68.4L264.8,69.1L264.8,69.8L264.8,70.5L264.1,71.2L262.8,71.9L261.4,72.6ZM261.4,78.9L262.3,78.9L263.9,79.6L264.8,80.3L264.8,81.0L264.8,81.7L264.8,82.4L264.2,83.1L263.0,83.8L261.4,84.5ZM261.4,91.5L262.4,91.5L262.9,92.2L263.2,92.9L263.2,93.6L263.0,94.3L262.6,95.0L262.1,95.7L261.4,96.4ZM261.4,104.1L261.8,104.1L261.9,104.8L261.9,105.5L261.9,106.2L261.9,106.9L261.8,107.6L261.7,108.3L261.4,109.0ZM261.4,111.8L262.0,111.8L263.2,112.5L263.8,113.2L264.1,113.9L264.1,114.6L263.6,115.3L262.9,116.0L261.8,116.7L261.4,117.4ZM261.4,123.7L262.7,123.7L263.5,124.4L264.0,125.1L264.1,125.8L263.9,126.5L263.4,127.2L262.7,127.9L262.0,128.6L261.4,129.3ZM261.4,136.3L262.0,136.3L262.2,137.0L262.4,137.7L262.4,138.4L262.2,139.1L262.0,139.8L261.7,140.5L261.4,141.2ZM261.4,148.2L261.7,148.2L261.8,148.9L261.8,149.6L261.7,150.3L261.4,151.0ZM261.4,167.8L261.8,167.8L261.8,168.5L261.8,169.2L261.8,169.9L261.4,170.6ZM261.4,146.2h1.15v4.4h-1.15ZM261.4,157.2h1.15v4.7h-1.15ZM261.4,169.9h1.15v5.5h-1.15ZM265.1,68.4L265.5,68.4L267.1,69.1L268.5,69.8L268.5,70.5L268.5,71.2L268.5,71.9L268.3,72.6L266.7,73.3L265.1,74.0ZM265.1,80.3L266.1,80.3L267.9,81.0L268.5,81.7L268.5,82.4L268.5,83.1L268.5,83.8L268.0,84.5L266.7,85.2L265.1,85.9ZM265.1,92.9L266.0,92.9L266.5,93.6L266.7,94.3L266.6,95.0L266.4,95.7L266.0,96.4L265.5,97.1L265.1,97.8ZM265.1,104.1L265.5,104.1L265.8,104.8L265.9,105.5L265.9,106.2L265.8,106.9L265.6,107.6L265.1,108.3ZM265.1,113.2L265.8,113.2L267.5,113.9L268.4,114.6L268.5,115.3L268.5,116.0L268.5,116.7L267.5,117.4L266.0,118.1L265.1,118.8ZM265.1,125.1L266.5,125.1L267.8,125.8L268.5,126.5L268.5,127.2L268.5,127.9L267.8,128.6L266.9,129.3L265.9,130.0L265.1,130.7ZM265.1,137.7L265.7,137.7L265.9,138.4L265.9,139.1L265.9,139.8L265.7,140.5L265.5,141.2L265.1,141.9ZM265.1,158.7L265.4,158.7L265.6,159.4L265.7,160.1L265.7,160.8L265.7,161.5L265.6,162.2L265.4,162.9L265.1,163.6ZM265.1,172.0L265.5,172.0L265.6,172.7L265.7,173.4L265.7,174.1L265.6,174.8L265.5,175.5L265.4,176.2L265.1,176.9ZM265.1,169.9h1.15v4.9h-1.15ZM265.1,181.1h1.15v4.9h-1.15ZM268.8,69.8L269.1,69.8L270.6,70.5L271.9,71.2L272.2,71.9L272.2,72.6L272.2,73.3L271.6,74.0L270.3,74.7L268.8,75.4ZM268.8,81.7L269.8,81.7L271.4,82.4L272.2,83.1L272.2,83.8L272.2,84.5L272.1,85.2L271.0,85.9L269.8,86.6L268.8,87.3ZM268.8,93.6L269.3,93.6L269.9,94.3L270.3,95.0L270.5,95.7L270.4,96.4L270.1,97.1L269.7,97.8L269.1,98.5L268.8,99.2ZM268.8,105.5L269.2,105.5L269.5,106.2L269.7,106.9L269.7,107.6L269.6,108.3L269.4,109.0L268.8,109.7ZM268.8,115.3L269.9,115.3L271.3,116.0L272.2,116.7L272.2,117.4L272.2,118.1L271.8,118.8L270.7,119.5L269.2,120.2L268.8,120.9ZM268.8,126.5L269.3,126.5L270.8,127.2L271.9,127.9L272.2,128.6L272.2,129.3L272.0,130.0L271.2,130.7L270.2,131.4L269.1,132.1L268.8,132.8ZM268.8,139.1L269.3,139.1L269.8,139.8L270.0,140.5L270.1,141.2L270.0,141.9L269.8,142.6L269.5,143.3L269.1,144.0L268.8,144.7ZM268.8,152.4L269.1,152.4L269.2,153.1L269.3,153.8L269.3,154.5L269.2,155.2L269.1,155.9L268.8,156.6ZM268.8,165.7L269.1,165.7L268.8,166.4ZM268.8,148.9h1.15v3.2h-1.15ZM268.8,173.9h1.15v2.7h-1.15ZM268.8,185.4h1.15v5.2h-1.15ZM268.8,195.4h1.15v4.3h-1.15ZM272.5,71.2L272.8,71.2L274.2,71.9L275.6,72.6L275.9,73.3L275.9,74.0L275.9,74.7L275.4,75.4L274.1,76.1L272.5,76.8ZM272.5,83.1L273.4,83.1L275.1,83.8L275.9,84.5L275.9,85.2L275.9,85.9L275.9,86.6L275.3,87.3L274.0,88.0L272.5,88.7ZM272.5,95.7L273.5,95.7L274.0,96.4L274.3,97.1L274.3,97.8L274.1,98.5L273.7,99.2L273.2,99.9L272.5,100.6ZM272.5,107.6L272.9,107.6L273.0,108.3L273.1,109.0L273.1,109.7L272.9,110.4L272.8,111.1L272.5,111.8ZM272.5,115.3L273.2,115.3L274.6,116.0L275.4,116.7L275.9,117.4L275.9,118.1L275.3,118.8L274.3,119.5L273.0,120.2L272.5,120.9ZM272.5,127.2L274.3,127.2L275.4,127.9L275.9,128.6L275.9,129.3L275.8,130.0L275.0,130.7L274.0,131.4L272.9,132.1L272.5,132.8ZM272.5,139.1L272.9,139.1L273.4,139.8L273.6,140.5L273.7,141.2L273.7,141.9L273.5,142.6L273.2,143.3L272.9,144.0L272.5,144.7ZM272.5,153.8L272.8,153.8L272.9,154.5L272.9,155.2L272.9,155.9L272.9,156.6L272.8,157.3L272.5,158.0ZM272.5,162.3h1.15v5.5h-1.15ZM272.5,173.3h1.15v4.6h-1.15ZM272.5,196.8h1.15v5.7h-1.15ZM276.1,72.6L276.4,72.6L277.9,73.3L279.4,74.0L279.5,74.7L279.5,75.4L279.5,76.1L279.3,76.8L277.9,77.5L276.1,78.2ZM276.1,84.5L277.0,84.5L278.8,85.2L279.5,85.9L279.5,86.6L279.5,87.3L279.5,88.0L279.1,88.7L277.8,89.4L276.1,90.1ZM276.1,97.1L277.0,97.1L277.5,97.8L277.8,98.5L277.9,99.2L277.7,99.9L277.3,100.6L276.8,101.3L276.1,102.0ZM276.1,109.0L276.5,109.0L276.7,109.7L276.8,110.4L276.8,111.1L276.7,111.8L276.5,112.5L276.1,113.2ZM276.1,118.1L277.4,118.1L278.8,118.8L279.5,119.5L279.5,120.2L279.5,120.9L279.0,121.6L277.8,122.3L276.1,123.0ZM276.1,129.3L276.7,129.3L278.2,130.0L279.3,130.7L279.5,131.4L279.5,132.1L279.4,132.8L278.6,133.5L277.6,134.2L276.5,134.9L276.1,135.6ZM276.1,141.9L276.7,141.9L277.1,142.6L277.4,143.3L277.4,144.0L277.3,144.7L277.1,145.4L276.7,146.1L276.1,146.8ZM276.1,155.2L276.5,155.2L276.5,155.9L276.5,156.6L276.1,157.3ZM276.1,152.2h1.15v2.5h-1.15ZM276.1,163.7h1.15v4.7h-1.15ZM276.1,187.5h1.15v4.8h-1.15ZM279.8,74.7L281.4,74.7L282.9,75.4L283.2,76.1L283.2,76.8L283.2,77.5L282.8,78.2L281.5,78.9L279.8,79.6ZM279.8,85.9L280.6,85.9L282.2,86.6L283.2,87.3L283.2,88.0L283.2,88.7L283.2,89.4L282.4,90.1L281.2,90.8L279.8,91.5ZM279.8,98.5L280.6,98.5L281.0,99.2L281.1,99.9L281.0,100.6L280.8,101.3L280.4,102.0L279.8,102.7ZM279.8,109.0L280.2,109.0L280.4,109.7L280.5,110.4L280.6,111.1L280.5,111.8L280.3,112.5L279.8,113.2ZM279.8,118.8L280.9,118.8L282.3,119.5L283.2,120.2L283.2,120.9L283.2,121.6L283.0,122.3L281.9,123.0L280.5,123.7L279.8,124.4ZM279.8,130.7L281.3,130.7L282.5,131.4L283.1,132.1L283.2,132.8L283.1,133.5L282.5,134.2L281.6,134.9L280.6,135.6L279.8,136.3ZM279.8,143.3L280.3,143.3L280.6,144.0L280.8,144.7L280.8,145.4L280.7,146.1L280.5,146.8L280.3,147.5L279.8,148.2ZM279.8,153.0h1.15v3.2h-1.15ZM279.8,164.4h1.15v3.4h-1.15ZM279.8,177.3h1.15v4.3h-1.15ZM279.8,188.9h1.15v6.0h-1.15ZM283.5,76.1L285.2,76.1L286.8,76.8L286.9,77.5L286.9,78.2L286.9,78.9L286.7,79.6L285.3,80.3L283.5,81.0ZM283.5,87.3L284.4,87.3L286.2,88.0L286.9,88.7L286.9,89.4L286.9,90.1L286.9,90.8L286.2,91.5L284.9,92.2L283.5,92.9ZM283.5,99.2L283.9,99.2L284.5,99.9L285.0,100.6L285.1,101.3L285.1,102.0L284.9,102.7L284.5,103.4L284.0,104.1L283.5,104.8ZM283.5,112.5L284.0,112.5L284.2,113.2L284.3,113.9L284.3,114.6L284.2,115.3L284.0,116.0L283.5,116.7ZM283.5,119.5L284.0,119.5L285.3,120.2L286.1,120.9L286.5,121.6L286.5,122.3L286.1,123.0L285.3,123.7L284.1,124.4L283.5,125.1ZM283.5,131.4L284.8,131.4L285.8,132.1L286.5,132.8L286.7,133.5L286.4,134.2L285.9,134.9L285.1,135.6L284.3,136.3L283.5,137.0ZM283.5,144.0L284.1,144.0L284.4,144.7L284.6,145.4L284.6,146.1L284.5,146.8L284.2,147.5L283.9,148.2L283.5,148.9ZM283.5,155.9L283.9,155.9L284.0,156.6L283.9,157.3L283.8,158.0L283.5,158.7ZM283.5,165.7L283.8,165.7L283.9,166.4L283.9,167.1L283.9,167.8L283.5,168.5ZM283.5,176.9L283.8,176.9L283.8,177.6L283.5,178.3ZM283.5,165.4h1.15v4.6h-1.15ZM283.5,176.8h1.15v4.8h-1.15ZM283.5,188.8h1.15v5.0h-1.15ZM287.2,77.5L288.5,77.5L289.7,78.2L290.4,78.9L290.6,79.6L290.4,80.3L289.7,81.0L288.6,81.7L287.2,82.4ZM287.2,88.7L287.7,88.7L289.1,89.4L290.2,90.1L290.6,90.8L290.6,91.5L290.5,92.2L289.8,92.9L288.8,93.6L287.8,94.3L287.2,95.0ZM287.2,101.3L287.6,101.3L288.1,102.0L288.4,102.7L288.6,103.4L288.5,104.1L288.3,104.8L288.0,105.5L287.6,106.2L287.2,106.9ZM287.2,113.9L287.5,113.9L287.6,114.6L287.6,115.3L287.2,116.0ZM287.2,120.9L287.6,120.9L288.9,121.6L289.7,122.3L290.2,123.0L290.3,123.7L289.9,124.4L289.2,125.1L288.0,125.8L287.2,126.5ZM287.2,132.8L288.3,132.8L289.3,133.5L290.0,134.2L290.3,134.9L290.1,135.6L289.6,136.3L288.8,137.0L287.9,137.7L287.2,138.4ZM287.2,145.4L287.7,145.4L287.9,146.1L288.0,146.8L288.0,147.5L287.9,148.2L287.7,148.9L287.2,149.6ZM287.2,167.0h1.15v5.9h-1.15ZM287.2,178.1h1.15v5.8h-1.15ZM287.2,190.8h1.15v5.9h-1.15ZM290.9,78.9L292.4,78.9L293.9,79.6L294.3,80.3L294.3,81.0L294.3,81.7L294.0,82.4L292.7,83.1L290.9,83.8ZM290.9,90.1L291.5,90.1L293.3,90.8L294.3,91.5L294.3,92.2L294.3,92.9L294.3,93.6L293.7,94.3L292.4,95.0L290.9,95.7ZM290.9,102.7L291.8,102.7L292.3,103.4L292.6,104.1L292.6,104.8L292.4,105.5L292.0,106.2L291.5,106.9L290.9,107.6ZM290.9,114.6L291.3,114.6L291.5,115.3L291.7,116.0L291.7,116.7L291.6,117.4L291.4,118.1L291.2,118.8L290.9,119.5ZM290.9,122.3L291.5,122.3L292.8,123.0L293.5,123.7L294.0,124.4L294.0,125.1L293.5,125.8L292.6,126.5L291.4,127.2L290.9,127.9ZM290.9,134.2L292.4,134.2L293.4,134.9L294.0,135.6L294.1,136.3L293.8,137.0L293.1,137.7L292.3,138.4L291.3,139.1L290.9,139.8ZM290.9,146.1L291.2,146.1L291.6,146.8L291.8,147.5L291.9,148.2L291.8,148.9L291.7,149.6L291.4,150.3L291.2,151.0L290.9,151.7ZM290.9,156.3h1.15v4.0h-1.15ZM290.9,169.0h1.15v6.0h-1.15ZM290.9,181.0h1.15v3.3h-1.15ZM294.5,80.3L296.0,80.3L297.6,81.0L297.9,81.7L297.9,82.4L297.9,83.1L297.7,83.8L296.4,84.5L294.5,85.2ZM294.5,91.5L295.1,91.5L296.8,92.2L297.9,92.9L297.9,93.6L297.9,94.3L297.9,95.0L297.6,95.7L296.4,96.4L295.1,97.1L294.5,97.8ZM294.5,104.1L295.2,104.1L295.8,104.8L296.2,105.5L296.3,106.2L296.2,106.9L295.9,107.6L295.5,108.3L295.0,109.0L294.5,109.7ZM294.5,116.7L295.0,116.7L295.2,117.4L295.3,118.1L295.3,118.8L295.1,119.5L294.9,120.2L294.5,120.9ZM294.5,124.4L296.2,124.4L297.1,125.1L297.7,125.8L297.8,126.5L297.5,127.2L296.7,127.9L295.5,128.6L294.5,129.3ZM294.5,135.6L295.8,135.6L297.1,136.3L297.9,137.0L297.9,137.7L297.9,138.4L297.3,139.1L296.4,139.8L295.3,140.5L294.5,141.2ZM294.5,147.5L295.0,147.5L295.6,148.2L295.9,148.9L296.0,149.6L295.9,150.3L295.7,151.0L295.3,151.7L294.5,152.4ZM294.5,160.1L295.0,160.1L295.2,160.8L295.2,161.5L295.1,162.2L294.9,162.9L294.5,163.6ZM294.5,168.9h1.15v3.4h-1.15ZM294.5,181.4h1.15v2.9h-1.15ZM294.5,193.2h1.15v2.8h-1.15ZM298.2,81.7L299.6,81.7L301.2,82.4L301.6,83.1L301.6,83.8L301.6,84.5L301.4,85.2L300.1,85.9L298.2,86.6ZM298.2,92.9L298.8,92.9L300.5,93.6L301.6,94.3L301.6,95.0L301.6,95.7L301.6,96.4L301.1,97.1L299.9,97.8L298.7,98.5L298.2,99.2ZM298.2,105.5L298.9,105.5L299.4,106.2L299.8,106.9L299.9,107.6L299.8,108.3L299.5,109.0L299.1,109.7L298.6,110.4L298.2,111.1ZM298.2,118.1L298.7,118.1L298.9,118.8L299.0,119.5L299.0,120.2L298.8,120.9L298.6,121.6L298.2,122.3ZM298.2,125.8L299.0,125.8L300.3,126.5L301.1,127.2L301.6,127.9L301.6,128.6L301.0,129.3L300.1,130.0L298.7,130.7L298.2,131.4ZM298.2,137.7L300.0,137.7L301.1,138.4L301.6,139.1L301.6,139.8L301.5,140.5L300.8,141.2L299.8,141.9L298.7,142.6L298.2,143.3ZM298.2,149.6L298.7,149.6L299.2,150.3L299.5,151.0L299.6,151.7L299.5,152.4L299.3,153.1L299.0,153.8L298.6,154.5L298.2,155.2ZM298.2,163.6L298.6,163.6L298.6,164.3L298.6,165.0L298.6,165.7L298.6,166.4L298.5,167.1L298.2,167.8ZM298.2,178.3L298.5,178.3L298.2,179.0ZM298.2,171.1h1.15v3.4h-1.15ZM298.2,184.1h1.15v4.8h-1.15ZM298.2,196.0h1.15v4.4h-1.15ZM301.9,83.1L303.4,83.1L305.1,83.8L305.3,84.5L305.3,85.2L305.3,85.9L305.3,86.6L304.0,87.3L302.2,88.0L301.9,88.7ZM301.9,94.3L302.4,94.3L304.3,95.0L305.3,95.7L305.3,96.4L305.3,97.1L305.3,97.8L305.1,98.5L303.8,99.2L302.5,99.9L301.9,100.6ZM301.9,106.9L302.8,106.9L303.4,107.6L303.8,108.3L303.9,109.0L303.7,109.7L303.3,110.4L302.7,111.1L301.9,111.8ZM301.9,118.1L302.3,118.1L302.6,118.8L302.8,119.5L302.9,120.2L302.8,120.9L302.5,121.6L302.2,122.3L301.9,123.0ZM301.9,127.2L303.9,127.2L305.0,127.9L305.3,128.6L305.3,129.3L305.3,130.0L304.5,130.7L303.0,131.4L301.9,132.1ZM301.9,138.4L303.4,138.4L304.8,139.1L305.3,139.8L305.3,140.5L305.3,141.2L304.7,141.9L303.7,142.6L302.6,143.3L301.9,144.0ZM301.9,151.0L302.5,151.0L302.8,151.7L302.9,152.4L302.9,153.1L302.8,153.8L302.6,154.5L302.4,155.2L301.9,155.9ZM301.9,165.0L302.3,165.0L302.4,165.7L302.4,166.4L302.4,167.1L302.3,167.8L301.9,168.5ZM301.9,162.0h1.15v3.2h-1.15ZM301.9,173.2h1.15v3.6h-1.15ZM301.9,184.9h1.15v3.5h-1.15ZM301.9,194.9h1.15v5.0h-1.15ZM305.6,84.5L306.7,84.5L308.1,85.2L308.8,85.9L309.0,86.6L309.0,87.3L308.4,88.0L307.3,88.7L305.6,89.4ZM305.6,95.7L306.0,95.7L307.6,96.4L308.8,97.1L309.0,97.8L309.0,98.5L309.0,99.2L308.1,99.9L306.9,100.6L305.6,101.3ZM305.6,107.6L306.1,107.6L306.7,108.3L307.2,109.0L307.3,109.7L307.3,110.4L307.0,111.1L306.5,111.8L305.9,112.5L305.6,113.2ZM305.6,119.5L306.0,119.5L306.3,120.2L306.5,120.9L306.6,121.6L306.5,122.3L306.3,123.0L306.0,123.7L305.6,124.4ZM305.6,128.6L306.2,128.6L307.3,129.3L308.1,130.0L308.5,130.7L308.5,131.4L308.1,132.1L307.2,132.8L306.1,133.5L305.6,134.2ZM305.6,139.8L305.9,139.8L307.1,140.5L307.9,141.2L308.4,141.9L308.4,142.6L308.1,143.3L307.5,144.0L306.7,144.7L305.6,145.4ZM305.6,152.4L306.2,152.4L306.5,153.1L306.6,153.8L306.6,154.5L306.5,155.2L306.2,155.9L305.9,156.6L305.6,157.3ZM305.6,164.3L305.9,164.3L306.0,165.0L306.1,165.7L306.1,166.4L306.1,167.1L306.0,167.8L305.6,168.5ZM305.6,178.3L305.9,178.3L305.9,179.0L305.9,179.7L305.6,180.4ZM305.6,174.0h1.15v3.8h-1.15ZM305.6,185.8h1.15v3.9h-1.15ZM305.6,196.8h1.15v5.3h-1.15ZM309.3,85.9L310.6,85.9L312.4,86.6L312.7,87.3L312.7,88.0L312.7,88.7L312.7,89.4L311.4,90.1L309.7,90.8L309.3,91.5ZM309.3,97.1L309.7,97.1L311.7,97.8L312.7,98.5L312.7,99.2L312.7,99.9L312.7,100.6L312.6,101.3L311.3,102.0L309.8,102.7L309.3,103.4ZM309.3,109.7L309.9,109.7L310.5,110.4L310.9,111.1L311.1,111.8L311.0,112.5L310.8,113.2L310.4,113.9L309.9,114.6L309.3,115.3ZM309.3,123.0L309.8,123.0L310.0,123.7L310.1,124.4L310.1,125.1L310.0,125.8L309.9,126.5L309.6,127.2L309.3,127.9ZM309.3,130.0L310.9,130.0L311.8,130.7L312.3,131.4L312.5,132.1L312.1,132.8L311.3,133.5L310.2,134.2L309.3,134.9ZM309.3,141.2L310.8,141.2L312.1,141.9L312.7,142.6L312.7,143.3L312.7,144.0L312.1,144.7L311.0,145.4L309.8,146.1L309.3,146.8ZM309.3,153.1L310.1,153.1L310.6,153.8L310.8,154.5L310.8,155.2L310.5,155.9L310.2,156.6L309.7,157.3L309.3,158.0ZM309.3,165.7L309.7,165.7L309.8,166.4L309.8,167.1L309.8,167.8L309.7,168.5L309.6,169.2L309.3,169.9ZM309.3,178.3L309.6,178.3L309.7,179.0L309.7,179.7L309.6,180.4L309.3,181.1ZM309.3,174.6h1.15v5.3h-1.15ZM309.3,186.2h1.15v5.1h-1.15ZM312.9,87.3L314.0,87.3L315.4,88.0L316.1,88.7L316.3,89.4L316.3,90.1L315.7,90.8L314.7,91.5L313.3,92.2L312.9,92.9ZM312.9,98.5L313.2,98.5L314.8,99.2L315.9,99.9L316.3,100.6L316.3,101.3L316.2,102.0L315.5,102.7L314.5,103.4L313.4,104.1L312.9,104.8ZM312.9,111.1L313.4,111.1L313.8,111.8L314.0,112.5L314.1,113.2L314.0,113.9L313.8,114.6L313.6,115.3L312.9,116.0ZM312.9,125.1L313.2,125.1L313.3,125.8L313.2,126.5L312.9,127.2ZM312.9,131.4L314.4,131.4L315.1,132.1L315.6,132.8L315.7,133.5L315.4,134.2L314.8,134.9L313.8,135.6L312.9,136.3ZM312.9,142.6L313.8,142.6L314.8,143.3L315.6,144.0L315.9,144.7L315.8,145.4L315.4,146.1L314.7,146.8L313.9,147.5L312.9,148.2ZM312.9,155.2L313.4,155.2L313.8,155.9L314.0,156.6L314.1,157.3L314.0,158.0L313.9,158.7L313.6,159.4L313.3,160.1L312.9,160.8ZM312.9,168.5L313.3,168.5L313.4,169.2L313.5,169.9L313.4,170.6L313.3,171.3L312.9,172.0ZM312.9,177.6h1.15v4.4h-1.15ZM312.9,189.2h1.15v5.7h-1.15ZM316.6,88.7L317.9,88.7L319.7,89.4L320.0,90.1L320.0,90.8L320.0,91.5L320.0,92.2L318.8,92.9L317.1,93.6L316.6,94.3ZM316.6,99.9L317.1,99.9L319.0,100.6L320.0,101.3L320.0,102.0L320.0,102.7L320.0,103.4L319.7,104.1L318.3,104.8L316.6,105.5ZM316.6,111.8L317.0,111.8L317.8,112.5L318.5,113.2L318.8,113.9L318.9,114.6L318.6,115.3L318.2,116.0L317.5,116.7L316.6,117.4ZM316.6,124.4L317.0,124.4L317.4,125.1L317.6,125.8L317.8,126.5L317.8,127.2L317.6,127.9L317.4,128.6L317.1,129.3L316.6,130.0ZM316.6,132.8L318.0,132.8L318.9,133.5L319.5,134.2L319.7,134.9L319.4,135.6L318.7,136.3L317.6,137.0L316.6,137.7ZM316.6,144.0L318.0,144.0L319.2,144.7L320.0,145.4L320.0,146.1L319.9,146.8L319.2,147.5L318.3,148.2L317.2,148.9L316.6,149.6ZM316.6,155.9L317.3,155.9L317.8,156.6L318.1,157.3L318.2,158.0L318.1,158.7L317.8,159.4L317.4,160.1L316.9,160.8L316.6,161.5ZM316.6,168.5L317.0,168.5L317.2,169.2L317.4,169.9L317.4,170.6L317.3,171.3L317.2,172.0L317.0,172.7L316.6,173.4ZM316.6,166.9h1.15v3.0h-1.15ZM316.6,189.7h1.15v3.2h-1.15ZM320.3,90.1L321.3,90.1L322.9,90.8L323.7,91.5L323.7,92.2L323.7,92.9L323.3,93.6L322.2,94.3L320.8,95.0L320.3,95.7ZM320.3,102.0L322.2,102.0L323.4,102.7L323.7,103.4L323.7,104.1L323.7,104.8L322.9,105.5L321.8,106.2L320.7,106.9L320.3,107.6ZM320.3,113.9L321.0,113.9L321.4,114.6L321.6,115.3L321.6,116.0L321.4,116.7L321.1,117.4L320.8,118.1L320.3,118.8ZM320.3,125.8L320.7,125.8L320.8,126.5L320.9,127.2L320.8,127.9L320.7,128.6L320.3,129.3ZM320.3,134.2L320.9,134.2L322.2,134.9L323.0,135.6L323.5,136.3L323.5,137.0L323.0,137.7L322.2,138.4L321.0,139.1L320.3,139.8ZM320.3,146.1L321.6,146.1L322.7,146.8L323.3,147.5L323.5,148.2L323.3,148.9L322.7,149.6L321.9,150.3L321.0,151.0L320.3,151.7ZM320.3,158.7L320.9,158.7L321.2,159.4L321.4,160.1L321.4,160.8L321.3,161.5L321.1,162.2L320.8,162.9L320.3,163.6ZM320.3,172.0L320.6,172.0L320.7,172.7L320.7,173.4L320.3,174.1ZM320.3,169.9h1.15v2.9h-1.15ZM320.3,179.6h1.15v3.3h-1.15ZM320.3,192.4h1.15v3.3h-1.15ZM324.0,91.5L325.0,91.5L326.5,92.2L327.3,92.9L327.4,93.6L327.4,94.3L327.0,95.0L325.9,95.7L324.5,96.4L324.0,97.1ZM324.0,103.4L325.9,103.4L327.2,104.1L327.4,104.8L327.4,105.5L327.4,106.2L326.9,106.9L325.8,107.6L324.5,108.3L324.0,109.0ZM324.0,115.3L325.0,115.3L325.7,116.0L326.0,116.7L326.1,117.4L325.8,118.1L325.4,118.8L324.8,119.5L324.0,120.2ZM324.0,127.2L324.6,127.2L324.9,127.9L325.1,128.6L325.2,129.3L325.1,130.0L324.8,130.7L324.5,131.4L324.0,132.1ZM324.0,134.9L325.2,134.9L325.9,135.6L326.3,136.3L326.5,137.0L326.2,137.7L325.6,138.4L324.6,139.1L324.0,139.8ZM324.0,146.1L325.3,146.1L326.3,146.8L326.8,147.5L326.9,148.2L326.6,148.9L326.0,149.6L325.2,150.3L324.3,151.0L324.0,151.7ZM324.0,158.0L324.7,158.0L325.1,158.7L325.3,159.4L325.3,160.1L325.1,160.8L324.8,161.5L324.4,162.2L324.0,162.9ZM324.0,169.9L324.3,169.9L324.5,170.6L324.6,171.3L324.6,172.0L324.5,172.7L324.4,173.4L324.0,174.1ZM324.0,180.4h1.15v2.7h-1.15ZM327.7,92.9L328.7,92.9L330.4,93.6L331.1,94.3L331.1,95.0L331.1,95.7L331.0,96.4L329.8,97.1L328.3,97.8L327.7,98.5ZM327.7,104.8L329.6,104.8L331.0,105.5L331.1,106.2L331.1,106.9L331.1,107.6L330.7,108.3L329.4,109.0L328.1,109.7L327.7,110.4ZM327.7,116.0L328.0,116.0L328.7,116.7L329.2,117.4L329.4,118.1L329.4,118.8L329.1,119.5L328.7,120.2L328.2,120.9L327.7,121.6ZM327.7,128.6L328.0,128.6L328.2,129.3L328.4,130.0L328.5,130.7L328.5,131.4L328.4,132.1L328.2,132.8L328.0,133.5L327.7,134.2ZM327.7,136.3L328.2,136.3L329.3,137.0L330.0,137.7L330.3,138.4L330.3,139.1L329.9,139.8L329.1,140.5L328.0,141.2L327.7,141.9ZM327.7,147.5L328.1,147.5L329.3,148.2L330.2,148.9L330.7,149.6L330.7,150.3L330.4,151.0L329.6,151.7L328.7,152.4L327.7,153.1ZM327.7,159.4L328.1,159.4L328.7,160.1L329.0,160.8L329.1,161.5L329.0,162.2L328.7,162.9L328.3,163.6L327.7,164.3ZM327.7,171.3L328.0,171.3L328.2,172.0L328.3,172.7L328.3,173.4L328.3,174.1L328.1,174.8L328.0,175.5L327.7,176.2ZM327.7,186.7L328.0,186.7L328.0,187.4L327.7,188.1ZM327.7,171.1h1.15v3.0h-1.15ZM327.7,181.9h1.15v5.5h-1.15ZM327.7,193.9h1.15v6.0h-1.15ZM331.3,94.3L332.3,94.3L334.0,95.0L334.7,95.7L334.7,96.4L334.7,97.1L334.7,97.8L333.5,98.5L332.0,99.2L331.3,99.9ZM331.3,106.2L333.1,106.2L334.5,106.9L334.7,107.6L334.7,108.3L334.7,109.0L334.5,109.7L333.5,110.4L332.3,111.1L331.3,111.8ZM331.3,118.1L331.8,118.1L332.5,118.8L332.9,119.5L333.2,120.2L333.1,120.9L332.8,121.6L332.3,122.3L331.7,123.0L331.3,123.7ZM331.3,130.0L331.8,130.0L332.0,130.7L332.1,131.4L332.0,132.1L331.8,132.8L331.3,133.5ZM331.3,137.0L332.1,137.0L333.5,137.7L334.2,138.4L334.6,139.1L334.5,139.8L334.0,140.5L333.0,141.2L331.3,141.9ZM331.3,148.2L331.8,148.2L333.2,148.9L334.1,149.6L334.5,150.3L334.5,151.0L334.0,151.7L333.3,152.4L332.4,153.1L331.3,153.8ZM331.3,160.8L331.7,160.8L332.0,161.5L332.2,162.2L332.3,162.9L332.3,163.6L332.2,164.3L331.9,165.0L331.7,165.7L331.3,166.4ZM331.3,173.4L331.8,173.4L332.0,174.1L332.0,174.8L331.9,175.5L331.7,176.2L331.3,176.9ZM331.3,171.6h1.15v5.8h-1.15ZM335.0,95.7L336.1,95.7L338.0,96.4L338.4,97.1L338.4,97.8L338.4,98.5L338.4,99.2L337.5,99.9L335.8,100.6L335.0,101.3ZM335.0,107.6L337.1,107.6L338.4,108.3L338.4,109.0L338.4,109.7L338.4,110.4L338.4,111.1L337.5,111.8L336.0,112.5L335.0,113.2ZM335.0,119.5L335.9,119.5L336.7,120.2L337.2,120.9L337.3,121.6L337.2,122.3L336.7,123.0L336.1,123.7L335.3,124.4L335.0,125.1ZM335.0,131.4L335.7,131.4L336.0,132.1L336.1,132.8L336.0,133.5L335.8,134.2L335.5,134.9L335.0,135.6ZM335.0,138.4L335.9,138.4L337.3,139.1L338.1,139.8L338.4,140.5L338.4,141.2L337.9,141.9L336.8,142.6L335.4,143.3L335.0,144.0ZM335.0,149.6L335.7,149.6L337.3,150.3L338.4,151.0L338.4,151.7L338.4,152.4L338.4,153.1L337.6,153.8L336.4,154.5L335.0,155.2ZM335.0,161.5L335.5,161.5L336.1,162.2L336.5,162.9L336.7,163.6L336.6,164.3L336.3,165.0L335.8,165.7L335.0,166.4ZM335.0,173.4L335.3,173.4L335.5,174.1L335.5,174.8L335.5,175.5L335.4,176.2L335.0,176.9ZM335.0,172.4h1.15v5.0h-1.15ZM335.0,184.0h1.15v2.9h-1.15ZM335.0,195.6h1.15v5.9h-1.15ZM338.7,97.1L339.6,97.1L341.4,97.8L342.1,98.5L342.1,99.2L342.1,99.9L342.1,100.6L341.1,101.3L339.5,102.0L338.7,102.7ZM338.7,109.0L340.8,109.0L342.1,109.7L342.1,110.4L342.1,111.1L342.1,111.8L341.9,112.5L340.6,113.2L339.2,113.9L338.7,114.6ZM338.7,120.9L339.7,120.9L340.3,121.6L340.6,122.3L340.7,123.0L340.5,123.7L340.1,124.4L339.5,125.1L338.7,125.8ZM338.7,132.8L339.1,132.8L339.3,133.5L339.5,134.2L339.5,134.9L339.4,135.6L339.3,136.3L339.0,137.0L338.7,137.7ZM338.7,139.8L340.2,139.8L341.1,140.5L341.7,141.2L341.8,141.9L341.6,142.6L340.8,143.3L339.7,144.0L338.7,144.7ZM338.7,151.0L339.7,151.0L341.0,151.7L341.9,152.4L342.1,153.1L342.1,153.8L341.6,154.5L340.8,155.2L339.7,155.9L338.7,156.6ZM338.7,163.6L339.4,163.6L339.9,164.3L340.1,165.0L340.2,165.7L340.0,166.4L339.7,167.1L339.4,167.8L338.7,168.5ZM338.7,176.2L339.1,176.2L339.2,176.9L339.3,177.6L339.3,178.3L339.2,179.0L339.1,179.7L338.7,180.4ZM338.7,174.4h1.15v3.8h-1.15ZM338.7,185.7h1.15v3.7h-1.15ZM338.7,196.8h1.15v3.4h-1.15ZM342.4,98.5L343.3,98.5L345.1,99.2L345.8,99.9L345.8,100.6L345.8,101.3L345.8,102.0L344.8,102.7L343.2,103.4L342.4,104.1ZM342.4,110.4L344.2,110.4L345.8,111.1L345.8,111.8L345.8,112.5L345.8,113.2L345.8,113.9L344.6,114.6L343.3,115.3L342.4,116.0ZM342.4,122.3L342.8,122.3L343.3,123.0L343.7,123.7L343.8,124.4L343.8,125.1L343.6,125.8L343.3,126.5L342.9,127.2L342.4,127.9ZM342.4,137.0L342.7,137.0L342.8,137.7L342.7,138.4L342.7,139.1L342.4,139.8ZM342.4,141.2L343.4,141.2L344.8,141.9L345.5,142.6L345.8,143.3L345.7,144.0L345.1,144.7L344.1,145.4L342.7,146.1L342.4,146.8ZM342.4,153.1L344.1,153.1L345.3,153.8L345.8,154.5L345.8,155.2L345.8,155.9L345.2,156.6L344.2,157.3L343.1,158.0L342.4,158.7ZM342.4,165.0L342.9,165.0L343.5,165.7L343.9,166.4L344.1,167.1L344.1,167.8L343.9,168.5L343.4,169.2L342.9,169.9L342.4,170.6ZM342.4,177.6L342.8,177.6L343.0,178.3L343.0,179.0L343.0,179.7L342.9,180.4L342.7,181.1L342.4,181.8ZM342.4,176.4h1.15v3.9h-1.15ZM342.4,188.2h1.15v2.8h-1.15ZM346.1,99.9L346.8,99.9L348.3,100.6L349.2,101.3L349.5,102.0L349.5,102.7L349.1,103.4L348.1,104.1L346.8,104.8L346.1,105.5ZM346.1,111.8L347.5,111.8L348.8,112.5L349.5,113.2L349.5,113.9L349.5,114.6L349.0,115.3L348.0,116.0L346.9,116.7L346.1,117.4ZM346.1,123.7L346.8,123.7L347.4,124.4L347.8,125.1L348.0,125.8L347.9,126.5L347.5,127.2L347.0,127.9L346.4,128.6L346.1,129.3ZM346.1,135.6L346.5,135.6L346.7,136.3L346.9,137.0L347.0,137.7L346.9,138.4L346.7,139.1L346.5,139.8L346.1,140.5ZM346.1,142.6L347.2,142.6L348.0,143.3L348.4,144.0L348.5,144.7L348.2,145.4L347.6,146.1L346.7,146.8L346.1,147.5ZM346.1,153.8L347.3,153.8L348.3,154.5L348.8,155.2L348.9,155.9L348.6,156.6L347.9,157.3L347.1,158.0L346.1,158.7ZM346.1,165.7L346.7,165.7L347.0,166.4L347.0,167.1L347.0,167.8L346.8,168.5L346.6,169.2L346.1,169.9ZM346.1,178.3L346.4,178.3L346.5,179.0L346.6,179.7L346.5,180.4L346.5,181.1L346.1,181.8ZM346.1,176.5h1.15v2.6h-1.15ZM346.1,188.2h1.15v5.9h-1.15Z" fill="#000"/>
<path d="M209.9,34.1L209.9,46.7L210.7,47.4L212.4,48.1L213.3,48.8L213.3,49.5L213.3,50.2L213.3,50.9L212.2,51.6L210.7,52.3L209.2,53.0L207.7,53.7L206.5,54.4L205.7,55.1L205.4,55.8L205.8,56.5L206.7,57.2L208.2,57.9L209.9,58.6L211.7,59.3L213.0,60.0L213.3,60.7L213.3,61.4L213.3,62.1L212.6,62.8L211.5,63.5L210.3,64.2L209.3,64.9L208.6,65.6L208.2,66.3L208.0,67.0L208.1,67.7L208.4,68.4L208.9,69.1L209.5,69.8L210.0,70.5L210.6,71.2L211.0,71.9L211.2,72.6L211.2,73.3L211.1,74.0L210.8,74.7L210.5,75.4L210.1,76.1L209.8,76.8L209.5,77.5L209.4,78.2L209.3,78.9L209.2,79.6L209.3,80.3L209.4,81.0L209.6,81.7L209.8,82.4L210.0,83.1L210.2,83.8L210.3,84.5L210.4,85.2L210.5,85.9L210.5,86.6L210.4,87.3L210.3,88.0L210.1,88.7L209.9,89.4L209.7,90.1L209.6,90.8L209.5,91.5L209.5,92.2L209.7,92.9L210.8,93.6L212.1,94.3L212.8,95.0L213.2,95.7L213.1,96.4L212.6,97.1L211.6,97.8L210.3,98.5L209.0,99.2L207.9,99.9L206.9,100.6L206.3,101.3L206.2,102.0L206.6,102.7L207.6,103.4L208.9,104.1L210.3,104.8L211.6,105.5L212.6,106.2L213.1,106.9L213.2,107.6L212.8,108.3L212.0,109.0L211.1,109.7L210.1,110.4L209.4,111.1L208.8,111.8L208.4,112.5L208.3,113.2L208.4,113.9L208.7,114.6L209.2,115.3L209.6,116.0L210.2,116.7L210.6,117.4L210.9,118.1L211.0,118.8L210.9,119.5L210.7,120.2L210.4,120.9L210.0,121.6L209.7,122.3L209.5,123.0L209.4,123.7L209.4,124.4L209.5,125.1L209.6,125.8L209.8,126.5L210.0,127.2L210.2,127.9L210.4,128.6L210.4,129.3L210.3,130.0L210.2,130.7L210.0,131.4L209.8,132.1L209.6,132.8L209.5,133.5L209.5,134.2L209.5,134.9L209.6,135.6L209.8,136.3L210.0,137.0L210.2,137.7L210.3,138.4L210.4,139.1L210.4,139.8L210.4,140.5L210.2,141.2L210.0,141.9L209.8,142.6L209.7,143.3L209.6,144.0L209.5,144.7L209.5,145.4L209.6,146.1L209.7,146.8L209.8,147.5L210.0,148.2L210.1,148.9L210.2,149.6L210.3,150.3L210.2,151.0L210.2,151.7L210.1,152.4L210.0,153.1L209.9,153.8L209.8,154.5L209.8,155.2L209.7,155.9L209.8,156.6L209.8,157.3L209.8,158.0L209.9,158.7L209.9,159.4L210.0,160.1L210.0,160.8L209.9,161.5L209.9,163.6L209.8,164.3L209.8,165.0L209.9,165.7L209.9,166.4L210.0,167.1L210.0,167.8L210.0,168.5L210.1,169.2L210.0,169.9L210.0,170.6L209.9,171.3L209.9,172.0L209.8,172.7L209.8,173.4L209.8,174.1L209.8,174.8L209.8,175.5L209.8,176.2L209.9,176.9L209.9,178.3L210.0,179.0L210.0,179.7L210.0,180.4L210.0,181.1L210.0,181.8L209.9,182.5L209.9,252.5M213.6,34.1L213.6,48.1L214.4,48.8L216.1,49.5L217.0,50.2L217.0,50.9L217.0,51.6L217.0,52.3L215.9,53.0L214.4,53.7L212.9,54.4L211.4,55.1L210.2,55.8L209.4,56.5L209.0,57.2L209.3,57.9L210.2,58.6L211.7,59.3L213.4,60.0L215.3,60.7L216.8,61.4L217.0,62.1L217.0,62.8L217.0,63.5L217.0,64.2L215.9,64.9L214.6,65.6L213.4,66.3L212.4,67.0L211.7,67.7L211.2,68.4L211.2,69.1L211.4,69.8L211.9,70.5L212.5,71.2L213.2,71.9L213.9,72.6L214.6,73.3L215.1,74.0L215.4,74.7L215.4,75.4L215.1,76.1L214.8,76.8L214.3,77.5L213.8,78.2L213.4,78.9L213.0,79.6L212.8,80.3L212.7,81.0L212.7,81.7L212.8,82.4L213.0,83.1L213.2,83.8L213.5,84.5L213.7,85.2L213.9,85.9L214.1,86.6L214.1,87.3L214.1,88.0L214.0,88.7L213.9,89.4L213.8,90.1L213.7,90.8L213.6,91.5L213.5,92.2L213.4,92.9L213.4,93.6L213.5,94.3L214.6,95.0L215.8,95.7L216.5,96.4L216.9,97.1L216.7,97.8L216.1,98.5L215.1,99.2L213.8,99.9L212.5,100.6L211.4,101.3L210.5,102.0L209.9,102.7L209.9,103.4L210.3,104.1L211.3,104.8L212.7,105.5L214.2,106.2L215.6,106.9L216.6,107.6L217.0,108.3L217.0,109.0L216.7,109.7L215.9,110.4L214.9,111.1L213.8,111.8L212.9,112.5L212.2,113.2L211.8,113.9L211.6,114.6L211.7,115.3L212.0,116.0L212.5,116.7L213.1,117.4L213.8,118.1L214.4,118.8L214.9,119.5L215.2,120.2L215.2,120.9L215.1,121.6L214.8,122.3L214.3,123.0L213.8,123.7L213.3,124.4L213.0,125.1L212.7,125.8L212.6,126.5L212.6,127.2L212.7,127.9L212.9,128.6L213.2,129.3L213.5,130.0L213.9,130.7L214.2,131.4L214.4,132.1L214.5,132.8L214.4,133.5L214.3,134.2L214.1,134.9L213.8,135.6L213.6,136.3L213.4,137.0L213.2,137.7L213.1,138.4L213.1,139.1L213.1,139.8L213.2,140.5L213.3,141.2L213.5,141.9L213.6,142.6L213.7,143.3L213.8,144.0L213.9,144.7L213.9,145.4L213.8,146.1L213.8,146.8L213.7,147.5L213.7,148.2L213.6,148.9L213.5,153.8L213.5,154.5L213.5,155.2L213.4,155.9L213.4,156.6L213.4,157.3L213.4,158.0L213.4,158.7L213.5,159.4L213.6,160.1L213.7,160.8L213.8,161.5L213.9,162.2L214.0,162.9L214.0,163.6L213.9,164.3L213.8,165.0L213.7,165.7L213.5,166.4L213.4,167.1L213.3,167.8L213.2,168.5L213.2,169.2L213.2,169.9L213.3,170.6L213.4,171.3L213.5,172.0L213.7,172.7L213.8,173.4L213.9,174.1L214.0,174.8L214.0,175.5L213.9,176.2L213.8,176.9L213.7,177.6L213.6,178.3L213.5,179.0L213.4,179.7L213.4,180.4L213.4,181.1L213.4,181.8L213.4,182.5L213.5,183.2L213.6,183.9L213.6,184.6L213.6,185.3L213.7,186.0L213.7,186.7L213.6,187.4L213.6,188.1L213.6,252.5M217.3,34.1L217.3,49.5L217.9,50.2L219.6,50.9L220.4,51.6L220.7,52.3L220.7,53.0L220.5,53.7L219.5,54.4L218.1,55.1L216.6,55.8L215.3,56.5L214.1,57.2L213.3,57.9L213.0,58.6L213.3,59.3L214.1,60.0L215.4,60.7L217.0,61.4L218.7,62.1L220.1,62.8L220.7,63.5L220.7,64.2L220.7,64.9L220.5,65.6L219.4,66.3L218.3,67.0L217.1,67.7L216.2,68.4L215.6,69.1L215.2,69.8L215.2,70.5L215.4,71.2L215.8,71.9L216.4,72.6L217.0,73.3L217.7,74.0L218.2,74.7L218.6,75.4L218.7,76.1L218.7,76.8L218.4,77.5L218.0,78.2L217.6,78.9L217.2,79.6L216.9,80.3L216.7,81.0L216.6,81.7L216.6,82.4L216.7,83.1L216.9,83.8L217.1,84.5L217.4,85.2L217.6,85.9L217.7,86.6L217.7,87.3L217.7,88.0L217.6,88.7L217.4,89.4L217.2,90.1L217.1,90.8L217.0,91.5L217.0,92.2L217.0,92.9L217.0,93.6L217.1,94.3L217.6,95.0L219.0,95.7L220.0,96.4L220.6,97.1L220.7,97.8L220.4,98.5L219.6,99.2L218.4,99.9L217.1,100.6L215.8,101.3L214.7,102.0L213.9,102.7L213.5,103.4L213.6,104.1L214.2,104.8L215.3,105.5L216.7,106.2L218.1,106.9L219.4,107.6L220.3,108.3L220.6,109.0L220.6,109.7L220.1,110.4L219.3,111.1L218.4,111.8L217.4,112.5L216.7,113.2L216.1,113.9L215.8,114.6L215.6,115.3L215.7,116.0L216.0,116.7L216.4,117.4L216.8,118.1L217.2,118.8L217.7,119.5L218.0,120.2L218.2,120.9L218.3,121.6L218.2,122.3L218.0,123.0L217.8,123.7L217.6,124.4L217.3,125.1L217.2,125.8L217.0,126.5L217.0,127.2L216.9,127.9L216.9,128.6L217.0,129.3L217.0,130.0L217.1,130.7L217.1,131.4L217.2,132.1L217.2,132.8L217.3,133.5L217.3,134.2L217.4,134.9L217.4,135.6L217.4,136.3L217.4,137.0L217.4,137.7L217.4,138.4L217.4,139.1L217.3,139.8L217.3,140.5L217.3,141.2L217.2,142.6L217.2,143.3L217.2,144.0L217.2,144.7L217.2,145.4L217.2,146.1L217.2,146.8L217.2,147.5L217.2,148.2L217.2,148.9L217.2,149.6L217.3,153.1L217.4,153.8L217.4,154.5L217.4,155.2L217.5,155.9L217.5,156.6L217.4,157.3L217.4,158.0L217.3,158.7L217.2,159.4L217.2,160.1L217.1,160.8L217.0,161.5L217.0,162.2L217.0,162.9L217.0,163.6L217.1,164.3L217.2,165.0L217.3,165.7L217.4,166.4L217.5,167.1L217.6,167.8L217.6,168.5L217.6,169.2L217.6,169.9L217.5,170.6L217.4,171.3L217.3,172.0L217.2,172.7L217.1,173.4L217.0,174.1L217.0,174.8L217.0,175.5L217.1,176.2L217.1,176.9L217.2,177.6L217.3,178.3L217.3,179.0L217.4,179.7L217.4,180.4L217.4,181.1L217.4,181.8L217.4,182.5L217.3,183.2L217.3,183.9L217.3,252.5M220.9,34.1L220.9,50.9L221.6,51.6L223.1,52.3L223.9,53.0L224.3,53.7L224.3,54.4L224.0,55.1L223.1,55.8L221.8,56.5L220.4,57.2L219.1,57.9L218.0,58.6L217.2,59.3L216.9,60.0L217.2,60.7L217.9,61.4L219.2,62.1L220.7,62.8L222.3,63.5L223.6,64.2L224.3,64.9L224.3,65.6L224.3,66.3L224.0,67.0L223.0,67.7L221.8,68.4L220.7,69.1L219.8,69.8L219.2,70.5L218.8,71.2L218.8,71.9L219.0,72.6L219.5,73.3L220.1,74.0L220.8,74.7L221.5,75.4L222.2,76.1L222.6,76.8L222.8,77.5L222.7,78.2L222.4,78.9L221.9,79.6L221.3,80.3L220.7,81.0L220.3,81.7L220.0,82.4L219.9,83.1L219.9,83.8L220.0,84.5L220.3,85.2L220.7,85.9L221.0,86.6L221.4,87.3L221.7,88.0L221.9,88.7L221.9,89.4L221.8,90.1L221.5,90.8L221.2,91.5L220.9,92.2L220.6,92.9L220.4,93.6L220.3,94.3L220.3,95.0L220.4,95.7L220.6,96.4L220.8,97.1L221.5,97.8L223.0,98.5L223.9,99.2L224.3,99.9L224.3,100.6L224.0,101.3L223.1,102.0L221.8,102.7L220.5,103.4L219.3,104.1L218.2,104.8L217.5,105.5L217.3,106.2L217.5,106.9L218.2,107.6L219.4,108.3L220.8,109.0L222.3,109.7L223.4,110.4L224.1,111.1L224.3,111.8L224.1,112.5L223.4,113.2L222.5,113.9L221.5,114.6L220.6,115.3L219.9,116.0L219.4,116.7L219.2,117.4L219.3,118.1L219.5,118.8L220.0,119.5L220.5,120.2L221.0,120.9L221.5,121.6L221.9,122.3L222.1,123.0L222.1,123.7L222.0,124.4L221.7,125.1L221.4,125.8L221.1,126.5L220.8,127.2L220.6,127.9L220.5,128.6L220.4,129.3L220.5,130.0L220.6,130.7L220.7,131.4L220.8,132.1L221.0,132.8L221.1,133.5L221.2,134.2L221.2,134.9L221.2,135.6L221.1,136.3L221.1,137.0L221.1,137.7L221.0,138.4L221.0,139.1L221.0,139.8L220.9,142.6L220.9,143.3L220.8,144.0L220.8,144.7L220.8,145.4L220.8,146.1L220.8,146.8L220.8,147.5L220.9,148.2L221.0,148.9L221.1,149.6L221.2,150.3L221.2,151.0L221.3,151.7L221.3,152.4L221.2,153.1L221.1,153.8L220.9,154.5L220.8,155.2L220.7,155.9L220.6,156.6L220.6,157.3L220.6,158.0L220.7,158.7L220.8,159.4L220.9,160.1L221.1,160.8L221.2,161.5L221.3,162.2L221.4,162.9L221.4,163.6L221.3,164.3L221.2,165.0L221.0,165.7L220.8,166.4L220.7,167.1L220.6,167.8L220.5,168.5L220.6,169.2L220.6,169.9L220.8,170.6L220.9,171.3L221.1,172.0L221.2,172.7L221.3,173.4L221.3,174.1L221.3,174.8L221.2,175.5L221.1,176.2L221.0,176.9L220.9,177.6L220.8,178.3L220.7,179.0L220.7,179.7L220.7,180.4L220.8,181.1L220.8,181.8L220.9,182.5L221.0,183.2L221.1,183.9L221.1,184.6L221.1,185.3L221.1,186.0L221.1,186.7L221.0,187.4L220.9,188.1L220.9,188.8L220.9,189.5L220.9,190.2L220.9,190.9L220.9,191.6L220.9,192.3L220.9,252.5M224.6,34.1L224.6,52.3L225.3,53.0L227.1,53.7L228.0,54.4L228.0,55.1L228.0,55.8L228.0,56.5L227.2,57.2L225.7,57.9L224.0,58.6L222.5,59.3L221.2,60.0L220.3,60.7L219.9,61.4L220.2,62.1L221.1,62.8L222.6,63.5L224.4,64.2L226.3,64.9L227.8,65.6L228.0,66.3L228.0,67.0L228.0,67.7L228.0,68.4L226.8,69.1L225.4,69.8L224.1,70.5L223.1,71.2L222.5,71.9L222.2,72.6L222.3,73.3L222.6,74.0L223.2,74.7L224.0,75.4L224.7,76.1L225.5,76.8L226.1,77.5L226.4,78.2L226.4,78.9L226.2,79.6L225.8,80.3L225.3,81.0L224.8,81.7L224.3,82.4L224.0,83.1L223.8,83.8L223.7,84.5L223.8,85.2L223.9,85.9L224.1,86.6L224.4,87.3L224.6,88.0L224.9,88.7L225.1,89.4L225.2,90.1L225.3,90.8L225.2,91.5L225.1,92.2L225.0,92.9L224.8,93.6L224.6,94.3L224.5,95.0L224.3,95.7L224.2,96.4L224.2,97.1L224.3,97.8L225.1,98.5L226.7,99.2L227.6,99.9L228.0,100.6L228.0,101.3L227.8,102.0L226.8,102.7L225.5,103.4L224.1,104.1L222.8,104.8L221.7,105.5L220.9,106.2L220.6,106.9L220.8,107.6L221.7,108.3L223.0,109.0L224.5,109.7L226.1,110.4L227.4,111.1L228.0,111.8L228.0,112.5L228.0,113.2L227.4,113.9L226.4,114.6L225.3,115.3L224.2,116.0L223.5,116.7L222.9,117.4L222.6,118.1L222.7,118.8L223.0,119.5L223.4,120.2L224.0,120.9L224.6,121.6L225.3,122.3L225.8,123.0L226.0,123.7L226.1,124.4L225.9,125.1L225.6,125.8L225.2,126.5L224.8,127.2L224.4,127.9L224.2,128.6L224.0,129.3L223.9,130.0L223.9,130.7L224.1,131.4L224.2,132.1L224.4,132.8L224.6,133.5L224.8,134.2L225.0,134.9L225.1,135.6L225.1,136.3L225.1,137.0L225.0,137.7L224.9,138.4L224.8,139.1L224.7,139.8L224.6,140.5L224.5,141.2L224.4,141.9L224.3,142.6L224.3,143.3L224.3,144.0L224.4,144.7L224.4,145.4L224.6,146.1L224.7,146.8L224.8,147.5L225.0,148.2L225.0,148.9L225.1,149.6L225.0,150.3L224.9,151.0L224.8,151.7L224.6,152.4L224.4,153.1L224.3,153.8L224.3,154.5L224.3,155.2L224.3,155.9L224.4,156.6L224.5,157.3L224.6,158.0L224.8,158.7L224.9,159.4L225.0,160.1L225.0,160.8L224.9,161.5L224.9,162.2L224.7,162.9L224.6,163.6L224.5,164.3L224.5,165.0L224.4,165.7L224.4,166.4L224.4,167.1L224.5,167.8L224.5,168.5L224.6,169.2L224.6,169.9L224.6,171.3L224.7,172.0L224.7,172.7L224.7,173.4L224.8,174.1L224.8,174.8L224.8,175.5L224.8,176.2L224.7,176.9L224.7,177.6L224.6,178.3L224.6,179.0L224.5,179.7L224.5,180.4L224.4,181.1L224.4,181.8L224.5,182.5L224.5,183.2L224.6,183.9L224.7,184.6L224.7,185.3L224.8,186.0L224.8,186.7L224.8,187.4L224.8,188.1L224.7,188.8L224.7,189.5L224.6,190.2L224.6,190.9L224.5,191.6L224.5,192.3L224.5,193.0L224.6,193.7L224.6,194.4L224.6,252.5M228.3,34.1L228.3,53.7L228.9,54.4L230.6,55.1L231.5,55.8L231.7,56.5L231.7,57.2L231.7,57.9L230.7,58.6L229.3,59.3L227.8,60.0L226.4,60.7L225.2,61.4L224.3,62.1L224.0,62.8L224.2,63.5L225.0,64.2L226.3,64.9L227.9,65.6L229.6,66.3L231.0,67.0L231.7,67.7L231.7,68.4L231.7,69.1L231.7,69.8L230.7,70.5L229.6,71.2L228.4,71.9L227.4,72.6L226.6,73.3L226.2,74.0L226.0,74.7L226.1,75.4L226.5,76.1L227.1,76.8L227.8,77.5L228.5,78.2L229.3,78.9L229.8,79.6L230.1,80.3L230.1,81.0L229.9,81.7L229.5,82.4L229.0,83.1L228.4,83.8L228.0,84.5L227.6,85.2L227.4,85.9L227.3,86.6L227.4,87.3L227.6,88.0L227.8,88.7L228.1,89.4L228.4,90.1L228.6,90.8L228.8,91.5L228.9,92.2L228.9,92.9L228.8,93.6L228.6,94.3L228.5,95.0L228.4,95.7L228.3,96.4L228.2,97.1L228.2,97.8L228.2,98.5L228.2,99.2L228.3,99.9L229.2,100.6L230.5,101.3L231.1,102.0L231.4,102.7L231.2,103.4L230.6,104.1L229.6,104.8L228.4,105.5L227.3,106.2L226.3,106.9L225.5,107.6L225.0,108.3L225.0,109.0L225.4,109.7L226.3,110.4L227.6,111.1L228.9,111.8L230.1,112.5L231.0,113.2L231.4,113.9L231.3,114.6L230.8,115.3L230.1,116.0L229.2,116.7L228.3,117.4L227.6,118.1L227.1,118.8L226.8,119.5L226.8,120.2L226.9,120.9L227.2,121.6L227.6,122.3L228.1,123.0L228.6,123.7L229.0,124.4L229.3,125.1L229.5,125.8L229.5,126.5L229.4,127.2L229.1,127.9L228.7,128.6L228.4,129.3L228.0,130.0L227.8,130.7L227.6,131.4L227.5,132.1L227.5,132.8L227.6,133.5L227.8,134.2L228.1,134.9L228.4,135.6L228.7,136.3L228.9,137.0L229.1,137.7L229.2,138.4L229.1,139.1L229.0,139.8L228.7,140.5L228.4,141.2L228.1,141.9L227.9,142.6L227.7,143.3L227.6,144.0L227.6,144.7L227.7,145.4L227.9,146.1L228.1,146.8L228.4,147.5L228.6,148.2L228.9,148.9L229.0,149.6L229.0,150.3L228.9,151.0L228.8,151.7L228.6,152.4L228.3,153.1L228.1,153.8L228.0,154.5L227.9,155.2L227.9,155.9L227.9,156.6L228.0,157.3L228.1,158.0L228.3,158.7L228.4,159.4L228.5,160.1L228.6,160.8L228.6,161.5L228.6,162.2L228.5,162.9L228.4,163.6L228.4,164.3L228.3,165.0L228.3,170.6L228.2,171.3L228.2,172.0L228.2,172.7L228.2,173.4L228.2,174.1L228.3,174.8L228.3,175.5L228.4,176.2L228.4,176.9L228.5,177.6L228.5,178.3L228.5,179.0L228.4,179.7L228.3,180.4L228.3,181.1L228.2,181.8L228.2,182.5L228.2,183.2L228.2,183.9L228.2,184.6L228.2,185.3L228.3,186.0L228.4,186.7L228.4,187.4L228.4,188.1L228.4,188.8L228.4,189.5L228.4,190.2L228.3,190.9L228.3,192.3L228.2,193.0L228.2,193.7L228.2,194.4L228.3,195.1L228.3,252.5M232.0,34.1L232.0,55.1L232.6,55.8L234.4,56.5L235.4,57.2L235.4,57.9L235.4,58.6L235.4,59.3L234.7,60.0L233.1,60.7L231.4,61.4L229.9,62.1L228.6,62.8L227.6,63.5L227.2,64.2L227.4,64.9L228.3,65.6L229.7,66.3L231.5,67.0L233.5,67.7L235.1,68.4L235.4,69.1L235.4,69.8L235.4,70.5L235.4,71.2L234.7,71.9L233.3,72.6L231.9,73.3L230.9,74.0L230.0,74.7L229.5,75.4L229.4,76.1L229.5,76.8L230.0,77.5L230.7,78.2L231.4,78.9L232.2,79.6L233.1,80.3L233.7,81.0L234.0,81.7L234.1,82.4L233.9,83.1L233.5,83.8L232.9,84.5L232.3,85.2L231.7,85.9L231.3,86.6L231.0,87.3L230.8,88.0L230.7,88.7L230.9,89.4L231.1,90.1L231.4,90.8L231.8,91.5L232.2,92.2L232.6,92.9L232.9,93.6L233.1,94.3L233.1,95.0L233.0,95.7L232.8,96.4L232.5,97.1L232.1,97.8L231.8,98.5L231.6,99.2L231.4,99.9L231.2,100.6L231.3,101.3L232.3,102.0L233.8,102.7L234.7,103.4L235.4,104.1L235.4,104.8L235.1,105.5L234.3,106.2L233.0,106.9L231.6,107.6L230.4,108.3L229.2,109.0L228.5,109.7L228.1,110.4L228.4,111.1L229.1,111.8L230.4,112.5L231.7,113.2L233.1,113.9L234.3,114.6L235.0,115.3L235.3,116.0L235.1,116.7L234.6,117.4L233.8,118.1L232.9,118.8L232.0,119.5L231.4,120.2L230.9,120.9L230.5,121.6L230.4,122.3L230.5,123.0L230.7,123.7L231.1,124.4L231.5,125.1L231.9,125.8L232.3,126.5L232.7,127.2L232.9,127.9L233.0,128.6L233.0,129.3L232.9,130.0L232.7,130.7L232.4,131.4L232.2,132.1L231.9,132.8L231.8,133.5L231.6,134.2L231.5,134.9L231.5,135.6L231.5,136.3L231.5,137.0L231.6,137.7L231.7,138.4L231.9,139.1L232.0,139.8L232.2,140.5L232.3,141.2L232.4,141.9L232.5,142.6L232.5,143.3L232.5,144.0L232.4,144.7L232.2,145.4L232.1,146.1L231.9,146.8L231.8,147.5L231.7,148.2L231.6,148.9L231.6,149.6L231.6,150.3L231.6,151.0L231.8,151.7L231.9,152.4L232.0,153.1L232.2,153.8L232.3,154.5L232.4,155.2L232.5,155.9L232.4,156.6L232.4,157.3L232.2,158.0L232.1,158.7L231.9,159.4L231.8,160.1L231.7,160.8L231.6,161.5L231.6,162.2L231.6,162.9L231.7,163.6L231.8,164.3L231.9,165.0L232.0,165.7L232.2,166.4L232.3,167.1L232.4,167.8L232.4,168.5L232.4,169.2L232.3,169.9L232.2,170.6L232.0,171.3L231.9,172.0L231.8,172.7L231.8,173.4L231.7,174.1L231.7,174.8L231.8,175.5L231.8,176.2L231.9,176.9L232.0,177.6L232.0,178.3L232.1,179.0L232.1,179.7L232.2,180.4L232.2,181.1L232.1,181.8L232.1,182.5L232.0,183.2L232.0,183.9L232.0,184.6L231.9,185.3L231.9,186.0L231.9,186.7L231.9,187.4L231.9,188.1L231.9,188.8L232.0,252.5M235.7,34.1L235.7,56.5L236.3,57.2L238.0,57.9L239.1,58.6L239.1,59.3L239.1,60.0L239.1,60.7L238.3,61.4L236.8,62.1L235.2,62.8L233.7,63.5L232.3,64.2L231.4,64.9L231.0,65.6L231.2,66.3L231.9,67.0L233.4,67.7L235.1,68.4L237.0,69.1L238.6,69.8L239.1,70.5L239.1,71.2L239.1,71.9L239.1,72.6L238.4,73.3L237.1,74.0L235.7,74.7L234.6,75.4L233.7,76.1L233.3,76.8L233.1,77.5L233.4,78.2L233.9,78.9L234.6,79.6L235.4,80.3L236.2,81.0L236.9,81.7L237.3,82.4L237.5,83.1L237.3,83.8L237.0,84.5L236.5,85.2L236.0,85.9L235.5,86.6L235.2,87.3L235.0,88.0L234.9,88.7L234.9,89.4L235.1,90.1L235.3,90.8L235.5,91.5L235.6,92.2L235.8,92.9L235.9,93.6L236.0,94.3L236.0,95.0L235.9,95.7L235.9,96.4L235.8,97.1L235.7,97.8L235.7,98.5L235.6,102.0L235.8,102.7L236.8,103.4L238.1,104.1L238.8,104.8L239.1,105.5L238.9,106.2L238.2,106.9L237.1,107.6L235.8,108.3L234.5,109.0L233.3,109.7L232.4,110.4L231.9,111.1L231.8,111.8L232.3,112.5L233.3,113.2L234.8,113.9L236.4,114.6L237.8,115.3L238.8,116.0L239.1,116.7L239.1,117.4L238.7,118.1L237.8,118.8L236.7,119.5L235.6,120.2L234.8,120.9L234.2,121.6L233.9,122.3L233.8,123.0L234.0,123.7L234.4,124.4L234.9,125.1L235.5,125.8L236.0,126.5L236.5,127.2L236.8,127.9L236.9,128.6L236.9,129.3L236.6,130.0L236.3,130.7L236.0,131.4L235.7,132.1L235.4,132.8L235.2,133.5L235.1,134.2L235.1,134.9L235.1,135.6L235.1,136.3L235.3,137.0L235.4,137.7L235.6,138.4L235.7,139.1L235.9,139.8L236.1,140.5L236.3,141.2L236.3,141.9L236.3,142.6L236.2,143.3L236.0,144.0L235.8,144.7L235.6,145.4L235.3,146.1L235.2,146.8L235.0,147.5L235.0,148.2L235.1,148.9L235.2,149.6L235.5,150.3L235.8,151.0L236.1,151.7L236.3,152.4L236.5,153.1L236.5,153.8L236.4,154.5L236.1,155.2L235.9,155.9L235.6,156.6L235.3,157.3L235.1,158.0L235.0,158.7L235.1,159.4L235.2,160.1L235.3,160.8L235.6,161.5L235.8,162.2L236.0,162.9L236.2,163.6L236.2,164.3L236.2,165.0L236.1,165.7L235.9,166.4L235.7,167.1L235.6,167.8L235.5,168.5L235.4,169.2L235.4,169.9L235.4,170.6L235.5,171.3L235.6,172.0L235.6,172.7L235.7,177.6L235.7,178.3L235.7,179.0L235.8,179.7L235.8,180.4L235.8,181.1L235.7,181.8L235.7,182.5L235.6,183.9L235.6,184.6L235.6,185.3L235.6,186.0L235.6,186.7L235.6,187.4L235.6,188.1L235.7,190.2L235.7,190.9L235.7,191.6L235.7,192.3L235.7,193.0L235.7,193.7L235.7,252.5M239.3,34.1L239.3,57.9L239.8,58.6L241.4,59.3L242.4,60.0L242.7,60.7L242.7,61.4L242.7,62.1L241.8,62.8L240.4,63.5L238.9,64.2L237.6,64.9L236.4,65.6L235.5,66.3L235.1,67.0L235.3,67.7L236.0,68.4L237.3,69.1L238.8,69.8L240.6,70.5L242.1,71.2L242.7,71.9L242.7,72.6L242.7,73.3L242.7,74.0L241.9,74.7L240.7,75.4L239.4,76.1L238.4,76.8L237.6,77.5L237.1,78.2L236.9,78.9L237.0,79.6L237.4,80.3L238.0,81.0L238.7,81.7L239.5,82.4L240.3,83.1L240.9,83.8L241.2,84.5L241.3,85.2L241.1,85.9L240.8,86.6L240.2,87.3L239.7,88.0L239.1,88.7L238.7,89.4L238.4,90.1L238.3,90.8L238.3,91.5L238.4,92.2L238.6,92.9L238.9,93.6L239.3,94.3L239.6,95.0L239.9,95.7L240.1,96.4L240.1,97.1L240.1,97.8L240.0,98.5L239.8,99.2L239.5,99.9L239.3,100.6L239.1,101.3L239.0,102.0L239.0,102.7L239.6,103.4L241.0,104.1L241.8,104.8L242.3,105.5L242.4,106.2L242.0,106.9L241.2,107.6L240.1,108.3L238.8,109.0L237.7,109.7L236.7,110.4L236.1,111.1L235.8,111.8L236.1,112.5L236.8,113.2L238.0,113.9L239.3,114.6L240.8,115.3L241.9,116.0L242.5,116.7L242.7,117.4L242.4,118.1L241.8,118.8L240.8,119.5L239.8,120.2L238.9,120.9L238.2,121.6L237.8,122.3L237.6,123.0L237.6,123.7L237.9,124.4L238.3,125.1L238.8,125.8L239.4,126.5L240.0,127.2L240.4,127.9L240.7,128.6L240.7,129.3L240.5,130.0L240.3,130.7L239.9,131.4L239.4,132.1L239.1,132.8L238.9,133.5L238.7,134.2L238.6,134.9L238.7,135.6L238.8,136.3L239.0,137.0L239.2,137.7L239.5,138.4L239.7,139.1L239.8,139.8L239.8,140.5L239.8,141.2L239.7,141.9L239.5,142.6L239.4,143.3L239.3,144.0L239.2,144.7L239.1,145.4L239.1,146.1L239.2,146.8L239.2,147.5L239.3,148.2L239.4,148.9L239.5,149.6L239.5,150.3L239.5,151.0L239.4,151.7L239.4,152.4L239.3,153.1L239.2,153.8L239.2,154.5L239.2,155.2L239.2,155.9L239.2,156.6L239.3,157.3L239.4,158.0L239.5,158.7L239.6,159.4L239.6,160.1L239.6,160.8L239.6,161.5L239.5,162.2L239.4,162.9L239.3,163.6L239.2,164.3L239.2,165.0L239.1,165.7L239.1,166.4L239.1,167.1L239.1,167.8L239.2,168.5L239.3,169.2L239.4,169.9L239.5,170.6L239.6,171.3L239.6,172.0L239.6,172.7L239.5,173.4L239.5,174.1L239.4,174.8L239.4,175.5L239.3,176.2L239.3,176.9L239.3,177.6L239.2,178.3L239.2,179.0L239.3,179.7L239.3,180.4L239.3,181.1L239.3,181.8L239.4,186.0L239.4,186.7L239.4,187.4L239.4,188.1L239.4,188.8L239.4,189.5L239.4,190.2L239.4,190.9L239.3,194.4L239.3,195.1L239.3,195.8L239.3,252.5M243.0,34.1L243.0,59.3L243.5,60.0L245.1,60.7L246.2,61.4L246.4,62.1L246.4,62.8L246.4,63.5L245.6,64.2L244.2,64.9L242.6,65.6L241.2,66.3L239.9,67.0L239.0,67.7L238.6,68.4L238.7,69.1L239.5,69.8L240.9,70.5L242.6,71.2L244.4,71.9L245.9,72.6L246.4,73.3L246.4,74.0L246.4,74.7L246.3,75.4L245.2,76.1L244.1,76.8L242.9,77.5L242.1,78.2L241.4,78.9L241.0,79.6L240.9,80.3L241.0,81.0L241.3,81.7L241.8,82.4L242.4,83.1L243.1,83.8L243.8,84.5L244.3,85.2L244.7,85.9L244.9,86.6L244.8,87.3L244.5,88.0L244.1,88.7L243.5,89.4L242.9,90.1L242.5,90.8L242.1,91.5L241.9,92.2L241.8,92.9L241.9,93.6L242.1,94.3L242.5,95.0L242.9,95.7L243.3,96.4L243.7,97.1L244.0,97.8L244.1,98.5L244.1,99.2L243.9,99.9L243.6,100.6L243.3,101.3L243.0,102.0L242.7,102.7L242.6,103.4L242.5,104.1L242.5,104.8L243.3,105.5L244.8,106.2L245.7,106.9L246.3,107.6L246.3,108.3L245.9,109.0L245.0,109.7L243.7,110.4L242.4,111.1L241.2,111.8L240.2,112.5L239.5,113.2L239.3,113.9L239.7,114.6L240.5,115.3L241.8,116.0L243.2,116.7L244.6,117.4L245.7,118.1L246.3,118.8L246.4,119.5L246.0,120.2L245.3,120.9L244.4,121.6L243.4,122.3L242.5,123.0L241.9,123.7L241.4,124.4L241.2,125.1L241.3,125.8L241.6,126.5L242.0,127.2L242.6,127.9L243.2,128.6L243.7,129.3L244.2,130.0L244.5,130.7L244.5,131.4L244.3,132.1L244.0,132.8L243.6,133.5L243.1,134.2L242.7,134.9L242.4,135.6L242.1,136.3L242.1,137.0L242.2,137.7L242.3,138.4L242.6,139.1L242.9,139.8L243.3,140.5L243.6,141.2L243.8,141.9L243.9,142.6L243.8,143.3L243.6,144.0L243.4,144.7L243.1,145.4L242.9,146.1L242.7,146.8L242.6,147.5L242.6,148.2L242.6,148.9L242.7,149.6L242.9,150.3L243.0,151.0L243.1,151.7L243.2,152.4L243.2,153.1L243.2,153.8L243.1,154.5L243.1,155.2L243.0,155.9L243.1,157.3L243.1,158.0L243.2,158.7L243.2,159.4L243.2,160.1L243.2,160.8L243.1,161.5L243.0,162.2L242.9,162.9L242.8,163.6L242.7,164.3L242.6,165.0L242.6,165.7L242.7,166.4L242.9,167.1L243.1,167.8L243.3,168.5L243.5,169.2L243.6,169.9L243.6,170.6L243.5,171.3L243.4,172.0L243.2,172.7L243.0,173.4L242.8,174.1L242.7,174.8L242.7,175.5L242.7,176.2L242.7,176.9L242.8,177.6L243.0,178.3L243.1,179.0L243.2,179.7L243.2,180.4L243.2,181.1L243.2,181.8L243.2,182.5L243.1,183.2L243.0,183.9L243.0,252.5M246.7,34.1L246.7,60.7L247.1,61.4L248.6,62.1L249.6,62.8L250.1,63.5L250.1,64.2L249.9,64.9L249.1,65.6L247.8,66.3L246.4,67.0L245.1,67.7L243.9,68.4L243.1,69.1L242.7,69.8L242.8,70.5L243.5,71.2L244.6,71.9L246.1,72.6L247.7,73.3L249.2,74.0L250.1,74.7L250.1,75.4L250.1,76.1L249.9,76.8L249.0,77.5L247.9,78.2L246.8,78.9L245.9,79.6L245.2,80.3L244.7,81.0L244.6,81.7L244.7,82.4L245.1,83.1L245.6,83.8L246.2,84.5L246.9,85.2L247.5,85.9L248.0,86.6L248.3,87.3L248.4,88.0L248.2,88.7L247.9,89.4L247.4,90.1L246.9,90.8L246.5,91.5L246.1,92.2L245.9,92.9L245.8,93.6L245.8,94.3L245.9,95.0L246.1,95.7L246.4,96.4L246.6,97.1L247.0,97.8L247.2,98.5L247.4,99.2L247.5,99.9L247.5,100.6L247.4,101.3L247.2,102.0L247.0,102.7L246.7,103.4L246.5,104.1L246.3,104.8L246.2,105.5L246.4,106.2L247.5,106.9L248.5,107.6L249.2,108.3L249.5,109.0L249.4,109.7L248.9,110.4L248.1,111.1L247.0,111.8L245.9,112.5L244.9,113.2L244.1,113.9L243.6,114.6L243.5,115.3L243.9,116.0L244.8,116.7L245.9,117.4L247.1,118.1L248.3,118.8L249.1,119.5L249.5,120.2L249.5,120.9L249.2,121.6L248.6,122.3L247.8,123.0L247.0,123.7L246.3,124.4L245.8,125.1L245.4,125.8L245.3,126.5L245.3,127.2L245.5,127.9L245.9,128.6L246.3,129.3L246.7,130.0L247.1,130.7L247.4,131.4L247.6,132.1L247.7,132.8L247.7,133.5L247.5,134.2L247.3,134.9L247.0,135.6L246.7,136.3L246.5,137.0L246.3,137.7L246.2,138.4L246.2,139.1L246.2,139.8L246.3,140.5L246.4,141.2L246.5,141.9L246.7,142.6L246.8,143.3L247.0,144.0L247.1,144.7L247.1,145.4L247.1,146.1L247.1,146.8L247.0,147.5L246.9,148.2L246.8,148.9L246.7,149.6L246.6,150.3L246.5,151.0L246.4,151.7L246.4,152.4L246.4,153.1L246.4,153.8L246.5,154.5L246.6,155.2L246.6,155.9L246.8,156.6L246.9,157.3L247.0,158.0L247.0,158.7L247.1,159.4L247.0,160.1L247.0,160.8L246.9,161.5L246.8,162.2L246.7,162.9L246.6,163.6L246.5,164.3L246.4,165.0L246.4,165.7L246.4,166.4L246.5,167.1L246.5,167.8L246.6,168.5L246.7,169.2L246.8,169.9L246.9,170.6L247.0,171.3L247.0,172.0L247.0,172.7L246.9,173.4L246.9,174.1L246.8,174.8L246.7,175.5L246.6,176.2L246.6,176.9L246.5,177.6L246.5,178.3L246.6,179.0L246.6,179.7L246.6,180.4L246.7,181.1L246.7,181.8L246.8,182.5L246.8,183.2L246.8,183.9L246.8,184.6L246.8,185.3L246.8,186.0L246.7,186.7L246.7,252.5M250.4,34.1L250.4,62.1L250.8,62.8L252.3,63.5L253.5,64.2L253.8,64.9L253.8,65.6L253.8,66.3L253.0,67.0L251.6,67.7L250.1,68.4L248.7,69.1L247.4,69.8L246.5,70.5L246.1,71.2L246.2,71.9L246.9,72.6L248.1,73.3L249.7,74.0L251.4,74.7L253.0,75.4L253.8,76.1L253.8,76.8L253.8,77.5L253.8,78.2L252.9,78.9L251.6,79.6L250.4,80.3L249.4,81.0L248.7,81.7L248.3,82.4L248.2,83.1L248.4,83.8L248.8,84.5L249.5,85.2L250.1,85.9L250.8,86.6L251.4,87.3L251.8,88.0L251.9,88.7L251.8,89.4L251.6,90.1L251.2,90.8L250.8,91.5L250.4,92.2L250.1,92.9L249.9,93.6L249.7,94.3L249.7,95.0L249.8,95.7L249.9,96.4L250.0,97.1L250.2,97.8L250.4,98.5L250.5,99.2L250.7,99.9L250.8,100.6L250.9,101.3L250.9,102.0L250.8,102.7L250.8,103.4L250.7,104.1L250.5,104.8L250.3,105.5L250.2,106.2L250.2,106.9L251.2,107.6L252.3,108.3L252.9,109.0L253.2,109.7L253.1,110.4L252.7,111.1L251.8,111.8L250.7,112.5L249.6,113.2L248.6,113.9L247.7,114.6L247.2,115.3L247.0,116.0L247.4,116.7L248.2,117.4L249.4,118.1L250.7,118.8L251.9,119.5L252.9,120.2L253.4,120.9L253.5,121.6L253.2,122.3L252.5,123.0L251.7,123.7L250.7,124.4L249.9,125.1L249.3,125.8L248.9,126.5L248.8,127.2L248.8,127.9L249.1,128.6L249.6,129.3L250.1,130.0L250.6,130.7L251.1,131.4L251.4,132.1L251.5,132.8L251.5,133.5L251.3,134.2L250.9,134.9L250.6,135.6L250.2,136.3L250.0,137.0L249.9,137.7L249.9,138.4L249.9,139.1L250.1,139.8L250.3,140.5L250.4,141.2L250.6,141.9L250.7,142.6L250.7,143.3L250.7,144.0L250.5,144.7L250.4,145.4L250.3,146.1L250.2,146.8L250.2,147.5L250.2,148.2L250.2,148.9L250.3,149.6L250.4,150.3L250.5,151.0L250.5,151.7L250.5,152.4L250.5,153.1L250.5,153.8L250.5,154.5L250.4,155.2L250.4,155.9L250.3,159.4L250.3,160.1L250.3,160.8L250.2,161.5L250.2,162.2L250.2,162.9L250.3,163.6L250.3,164.3L250.4,165.0L250.5,165.7L250.6,166.4L250.7,167.1L250.8,167.8L250.7,168.5L250.7,169.2L250.5,169.9L250.4,170.6L250.2,171.3L250.1,172.0L250.0,172.7L250.0,173.4L250.1,174.1L250.2,174.8L250.3,175.5L250.4,176.2L250.6,176.9L250.7,177.6L250.7,178.3L250.7,179.0L250.6,179.7L250.6,180.4L250.4,181.1L250.3,181.8L250.3,182.5L250.2,183.2L250.2,183.9L250.2,184.6L250.3,185.3L250.3,186.0L250.4,186.7L250.4,252.5M254.1,34.1L254.1,63.5L254.4,64.2L255.9,64.9L257.0,65.6L257.5,66.3L257.5,67.0L257.4,67.7L256.6,68.4L255.3,69.1L253.8,69.8L252.5,70.5L251.3,71.2L250.4,71.9L249.9,72.6L250.0,73.3L250.7,74.0L251.9,74.7L253.5,75.4L255.1,76.1L256.6,76.8L257.5,77.5L257.5,78.2L257.5,78.9L257.3,79.6L256.3,80.3L255.2,81.0L254.1,81.7L253.2,82.4L252.5,83.1L252.1,83.8L252.0,84.5L252.1,85.2L252.5,85.9L253.0,86.6L253.6,87.3L254.2,88.0L254.8,88.7L255.3,89.4L255.5,90.1L255.6,90.8L255.4,91.5L255.1,92.2L254.7,92.9L254.3,93.6L253.9,94.3L253.6,95.0L253.4,95.7L253.3,96.4L253.3,97.1L253.4,97.8L253.5,98.5L253.7,99.2L253.9,99.9L254.2,100.6L254.4,101.3L254.5,102.0L254.6,102.7L254.6,103.4L254.6,104.1L254.5,104.8L254.3,105.5L254.2,106.2L254.0,106.9L253.9,107.6L253.8,108.3L254.0,109.0L255.2,109.7L256.1,110.4L256.7,111.1L257.0,111.8L256.8,112.5L256.2,113.2L255.2,113.9L254.1,114.6L253.0,115.3L252.0,116.0L251.2,116.7L250.8,117.4L250.8,118.1L251.3,118.8L252.2,119.5L253.4,120.2L254.7,120.9L255.9,121.6L256.7,122.3L257.1,123.0L257.0,123.7L256.6,124.4L255.9,125.1L255.1,125.8L254.2,126.5L253.5,127.2L253.0,127.9L252.7,128.6L252.6,129.3L252.6,130.0L252.9,130.7L253.2,131.4L253.6,132.1L254.1,132.8L254.5,133.5L254.8,134.2L255.0,134.9L255.1,135.6L255.0,136.3L254.9,137.0L254.6,137.7L254.4,138.4L254.1,139.1L253.9,139.8L253.7,140.5L253.6,141.2L253.6,141.9L253.6,142.6L253.7,143.3L253.7,144.0L253.9,144.7L254.0,145.4L254.1,146.1L254.2,146.8L254.3,147.5L254.4,148.2L254.4,148.9L254.4,149.6L254.3,150.3L254.3,151.0L254.2,151.7L254.1,152.4L254.1,153.1L254.0,153.8L253.9,154.5L253.9,155.2L253.9,155.9L253.9,156.6L253.9,157.3L253.9,158.0L254.0,158.7L254.0,159.4L254.1,160.1L254.1,160.8L254.2,161.5L254.2,162.2L254.2,162.9L254.2,163.6L254.2,164.3L254.2,165.0L254.1,165.7L254.1,166.4L254.0,167.8L254.0,168.5L254.0,169.2L254.0,169.9L254.0,170.6L254.0,171.3L254.0,172.0L254.1,179.7L254.1,180.4L254.1,181.1L254.2,181.8L254.2,182.5L254.1,183.2L254.1,183.9L254.1,184.6L254.0,186.0L254.0,186.7L254.0,187.4L254.0,188.1L254.0,188.8L254.0,189.5L254.0,190.2L254.0,190.9L254.1,192.3L254.1,193.0L254.1,193.7L254.1,194.4L254.1,195.1L254.1,195.8L254.1,196.5L254.1,252.5M257.7,34.1L257.7,64.9L258.1,65.6L259.7,66.3L260.9,67.0L261.1,67.7L261.1,68.4L261.1,69.1L260.5,69.8L259.1,70.5L257.5,71.2L256.1,71.9L254.7,72.6L253.7,73.3L253.3,74.0L253.4,74.7L254.1,75.4L255.4,76.1L257.1,76.8L258.8,77.5L260.3,78.2L261.1,78.9L261.1,79.6L261.1,80.3L261.0,81.0L260.0,81.7L258.9,82.4L257.7,83.1L256.9,83.8L256.3,84.5L256.0,85.2L255.9,85.9L256.1,86.6L256.4,87.3L256.9,88.0L257.4,88.7L258.0,89.4L258.5,90.1L258.9,90.8L259.1,91.5L259.1,92.2L258.9,92.9L258.6,93.6L258.2,94.3L257.8,95.0L257.5,95.7L257.2,96.4L257.0,97.1L256.9,97.8L257.0,98.5L257.1,99.2L257.3,99.9L257.5,100.6L257.8,101.3L258.1,102.0L258.4,102.7L258.5,103.4L258.6,104.1L258.5,104.8L258.4,105.5L258.1,106.2L257.8,106.9L257.6,107.6L257.4,108.3L257.2,109.0L257.1,109.7L257.2,110.4L258.2,111.1L259.7,111.8L260.6,112.5L261.1,113.2L261.1,113.9L260.7,114.6L259.8,115.3L258.5,116.0L257.2,116.7L255.9,117.4L254.9,118.1L254.2,118.8L254.0,119.5L254.3,120.2L255.1,120.9L256.5,121.6L257.9,122.3L259.3,123.0L260.4,123.7L261.0,124.4L261.1,125.1L260.7,125.8L260.0,126.5L259.1,127.2L258.1,127.9L257.2,128.6L256.6,129.3L256.3,130.0L256.2,130.7L256.3,131.4L256.6,132.1L257.1,132.8L257.5,133.5L258.1,134.2L258.5,134.9L258.7,135.6L258.8,136.3L258.7,137.0L258.4,137.7L258.1,138.4L257.7,139.1L257.5,139.8L257.3,140.5L257.2,141.2L257.2,141.9L257.3,142.6L257.5,143.3L257.7,144.0L257.9,144.7L258.1,145.4L258.2,146.1L258.2,146.8L258.2,147.5L258.1,148.2L257.9,148.9L257.8,149.6L257.6,150.3L257.5,151.0L257.5,151.7L257.4,152.4L257.5,153.1L257.5,153.8L257.6,154.5L257.6,155.2L257.7,155.9L257.8,156.6L257.9,157.3L257.9,158.0L258.0,158.7L258.0,159.4L258.0,160.1L258.0,160.8L258.0,161.5L257.9,162.2L257.9,162.9L257.8,163.6L257.7,164.3L257.6,165.0L257.5,165.7L257.5,166.4L257.4,167.1L257.4,167.8L257.4,168.5L257.5,169.2L257.6,169.9L257.8,170.6L257.9,171.3L258.0,172.0L258.1,172.7L258.1,173.4L258.1,174.1L258.0,174.8L257.9,175.5L257.8,176.2L257.7,176.9L257.6,177.6L257.6,178.3L257.5,179.0L257.5,179.7L257.6,180.4L257.6,181.1L257.7,181.8L257.7,182.5L257.8,183.2L257.8,183.9L257.8,184.6L257.8,185.3L257.8,186.0L257.8,190.9L257.8,191.6L257.8,192.3L257.8,193.0L257.7,252.5M261.4,34.1L261.4,66.3L261.8,67.0L263.2,67.7L264.4,68.4L264.8,69.1L264.8,69.8L264.8,70.5L264.1,71.2L262.8,71.9L261.2,72.6L259.9,73.3L258.6,74.0L257.6,74.7L257.2,75.4L257.2,76.1L257.8,76.8L259.0,77.5L260.6,78.2L262.3,78.9L263.9,79.6L264.8,80.3L264.8,81.0L264.8,81.7L264.8,82.4L264.2,83.1L263.0,83.8L261.7,84.5L260.6,85.2L259.8,85.9L259.2,86.6L259.0,87.3L259.2,88.0L259.6,88.7L260.2,89.4L260.9,90.1L261.7,90.8L262.4,91.5L262.9,92.2L263.2,92.9L263.2,93.6L263.0,94.3L262.6,95.0L262.1,95.7L261.5,96.4L261.1,97.1L260.8,97.8L260.6,98.5L260.6,99.2L260.6,99.9L260.8,100.6L260.9,101.3L261.2,102.0L261.4,102.7L261.6,103.4L261.8,104.1L261.9,104.8L261.9,105.5L261.9,106.2L261.9,106.9L261.8,107.6L261.7,108.3L261.6,109.0L261.5,109.7L261.4,110.4L261.3,111.1L262.0,111.8L263.2,112.5L263.8,113.2L264.1,113.9L264.1,114.6L263.6,115.3L262.9,116.0L261.8,116.7L260.8,117.4L259.8,118.1L259.0,118.8L258.5,119.5L258.3,120.2L258.6,120.9L259.3,121.6L260.3,122.3L261.5,123.0L262.7,123.7L263.5,124.4L264.0,125.1L264.1,125.8L263.9,126.5L263.4,127.2L262.7,127.9L262.0,128.6L261.3,129.3L260.7,130.0L260.4,130.7L260.2,131.4L260.1,132.1L260.3,132.8L260.5,133.5L260.8,134.2L261.2,134.9L261.6,135.6L262.0,136.3L262.2,137.0L262.4,137.7L262.4,138.4L262.2,139.1L262.0,139.8L261.7,140.5L261.4,141.2L261.2,141.9L261.0,142.6L260.9,143.3L260.9,144.0L261.0,144.7L261.1,145.4L261.2,146.1L261.4,146.8L261.6,147.5L261.7,148.2L261.8,148.9L261.8,149.6L261.7,150.3L261.6,151.0L261.4,151.7L261.3,152.4L261.2,153.1L261.2,153.8L261.2,154.5L261.3,155.2L261.3,155.9L261.5,156.6L261.6,157.3L261.7,158.0L261.7,158.7L261.7,159.4L261.6,160.1L261.5,160.8L261.3,161.5L261.2,162.2L261.1,162.9L261.1,163.6L261.1,164.3L261.2,165.0L261.3,165.7L261.5,166.4L261.7,167.1L261.8,167.8L261.8,168.5L261.8,169.2L261.8,169.9L261.6,170.6L261.4,171.3L261.3,172.0L261.2,172.7L261.1,173.4L261.1,174.1L261.2,174.8L261.2,175.5L261.3,176.2L261.4,176.9L261.5,177.6L261.6,178.3L261.7,179.0L261.7,179.7L261.6,180.4L261.5,181.1L261.5,181.8L261.4,182.5L261.4,183.2L261.3,183.9L261.3,184.6L261.3,185.3L261.4,186.0L261.4,186.7L261.4,252.5M265.1,34.1L265.1,67.7L265.5,68.4L267.1,69.1L268.5,69.8L268.5,70.5L268.5,71.2L268.5,71.9L268.3,72.6L266.7,73.3L264.9,74.0L263.3,74.7L261.8,75.4L260.7,76.1L260.1,76.8L260.1,77.5L260.9,78.2L262.3,78.9L264.2,79.6L266.1,80.3L267.9,81.0L268.5,81.7L268.5,82.4L268.5,83.1L268.5,83.8L268.0,84.5L266.7,85.2L265.3,85.9L264.3,86.6L263.5,87.3L263.0,88.0L262.8,88.7L263.0,89.4L263.4,90.1L264.0,90.8L264.7,91.5L265.4,92.2L266.0,92.9L266.5,93.6L266.7,94.3L266.6,95.0L266.4,95.7L266.0,96.4L265.5,97.1L265.0,97.8L264.7,98.5L264.4,99.2L264.3,99.9L264.3,100.6L264.4,101.3L264.6,102.0L264.9,102.7L265.2,103.4L265.5,104.1L265.8,104.8L265.9,105.5L265.9,106.2L265.8,106.9L265.6,107.6L265.3,108.3L265.0,109.0L264.8,109.7L264.6,110.4L264.5,111.1L264.5,111.8L264.7,112.5L265.8,113.2L267.5,113.9L268.4,114.6L268.5,115.3L268.5,116.0L268.5,116.7L267.5,117.4L266.0,118.1L264.5,118.8L263.1,119.5L261.9,120.2L261.1,120.9L260.8,121.6L261.2,122.3L262.0,123.0L263.5,123.7L265.0,124.4L266.5,125.1L267.8,125.8L268.5,126.5L268.5,127.2L268.5,127.9L267.8,128.6L266.9,129.3L265.9,130.0L265.0,130.7L264.3,131.4L263.8,132.1L263.6,132.8L263.5,133.5L263.7,134.2L264.0,134.9L264.5,135.6L264.9,136.3L265.3,137.0L265.7,137.7L265.9,138.4L265.9,139.1L265.9,139.8L265.7,140.5L265.5,141.2L265.2,141.9L265.0,142.6L264.9,143.3L264.8,144.0L264.8,144.7L264.9,145.4L265.0,146.1L265.1,146.8L265.2,147.5L265.3,148.2L265.4,148.9L265.4,149.6L265.3,150.3L265.2,151.0L265.1,151.7L264.9,152.4L264.8,153.1L264.7,153.8L264.7,154.5L264.7,155.2L264.8,155.9L264.9,156.6L265.1,157.3L265.2,158.0L265.4,158.7L265.6,159.4L265.7,160.1L265.7,160.8L265.7,161.5L265.6,162.2L265.4,162.9L265.2,163.6L265.0,164.3L264.8,165.0L264.7,165.7L264.6,166.4L264.6,167.1L264.6,167.8L264.6,168.5L264.8,169.2L264.9,169.9L265.1,170.6L265.3,171.3L265.5,172.0L265.6,172.7L265.7,173.4L265.7,174.1L265.6,174.8L265.5,175.5L265.4,176.2L265.2,176.9L265.1,177.6L265.0,178.3L264.9,179.0L264.8,179.7L264.8,180.4L264.8,181.1L264.8,181.8L264.9,182.5L264.9,183.2L265.0,183.9L265.1,184.6L265.2,185.3L265.3,186.0L265.3,186.7L265.4,187.4L265.3,188.1L265.3,188.8L265.3,189.5L265.2,190.2L265.1,190.9L265.1,192.3L265.0,193.0L265.0,193.7L265.0,194.4L265.0,195.1L265.0,195.8L265.1,196.5L265.1,252.5M268.8,34.1L268.8,69.1L269.1,69.8L270.6,70.5L271.9,71.2L272.2,71.9L272.2,72.6L272.2,73.3L271.6,74.0L270.3,74.7L268.7,75.4L267.2,76.1L265.9,76.8L264.8,77.5L264.3,78.2L264.4,78.9L265.1,79.6L266.3,80.3L268.1,81.0L269.8,81.7L271.4,82.4L272.2,83.1L272.2,83.8L272.2,84.5L272.1,85.2L271.0,85.9L269.8,86.6L268.6,87.3L267.7,88.0L267.1,88.7L266.7,89.4L266.7,90.1L266.9,90.8L267.4,91.5L267.9,92.2L268.6,92.9L269.3,93.6L269.9,94.3L270.3,95.0L270.5,95.7L270.4,96.4L270.1,97.1L269.7,97.8L269.1,98.5L268.6,99.2L268.2,99.9L267.9,100.6L267.8,101.3L267.8,102.0L267.9,102.7L268.2,103.4L268.5,104.1L268.9,104.8L269.2,105.5L269.5,106.2L269.7,106.9L269.7,107.6L269.6,108.3L269.4,109.0L269.1,109.7L268.7,110.4L268.5,111.1L268.3,111.8L268.1,112.5L268.1,113.2L268.2,113.9L268.6,114.6L269.9,115.3L271.3,116.0L272.2,116.7L272.2,117.4L272.2,118.1L271.8,118.8L270.7,119.5L269.2,120.2L267.7,120.9L266.4,121.6L265.4,122.3L264.8,123.0L264.7,123.7L265.2,124.4L266.3,125.1L267.7,125.8L269.3,126.5L270.8,127.2L271.9,127.9L272.2,128.6L272.2,129.3L272.0,130.0L271.2,130.7L270.2,131.4L269.1,132.1L268.2,132.8L267.5,133.5L267.1,134.2L266.9,134.9L267.0,135.6L267.3,136.3L267.7,137.0L268.3,137.7L268.8,138.4L269.3,139.1L269.8,139.8L270.0,140.5L270.1,141.2L270.0,141.9L269.8,142.6L269.5,143.3L269.1,144.0L268.8,144.7L268.5,145.4L268.3,146.1L268.2,146.8L268.1,147.5L268.2,148.2L268.3,148.9L268.4,149.6L268.6,150.3L268.7,151.0L268.9,151.7L269.1,152.4L269.2,153.1L269.3,153.8L269.3,154.5L269.2,155.2L269.1,155.9L269.0,156.6L268.8,157.3L268.7,158.0L268.5,158.7L268.5,159.4L268.4,160.1L268.4,160.8L268.5,161.5L268.6,162.2L268.7,162.9L268.9,163.6L269.0,164.3L269.1,165.0L269.1,165.7L269.1,166.4L269.0,167.1L268.9,167.8L268.8,168.5L268.7,169.2L268.6,169.9L268.6,170.6L268.6,171.3L268.6,172.0L268.7,172.7L268.8,173.4L268.8,174.1L268.9,174.8L268.9,175.5L269.0,176.2L268.9,176.9L268.9,177.6L268.8,178.3L268.7,179.0L268.7,179.7L268.7,180.4L268.7,181.1L268.7,181.8L268.7,182.5L268.7,183.2L268.8,183.9L268.8,184.6L268.9,185.3L268.9,186.0L268.9,186.7L268.9,187.4L268.8,188.1L268.8,252.5M272.5,34.1L272.5,70.5L272.8,71.2L274.2,71.9L275.6,72.6L275.9,73.3L275.9,74.0L275.9,74.7L275.4,75.4L274.1,76.1L272.4,76.8L270.9,77.5L269.5,78.2L268.4,78.9L267.8,79.6L267.9,80.3L268.5,81.0L269.8,81.7L271.5,82.4L273.4,83.1L275.1,83.8L275.9,84.5L275.9,85.2L275.9,85.9L275.9,86.6L275.3,87.3L274.0,88.0L272.7,88.7L271.6,89.4L270.7,90.1L270.2,90.8L270.0,91.5L270.1,92.2L270.5,92.9L271.2,93.6L271.9,94.3L272.7,95.0L273.5,95.7L274.0,96.4L274.3,97.1L274.3,97.8L274.1,98.5L273.7,99.2L273.2,99.9L272.6,100.6L272.1,101.3L271.8,102.0L271.6,102.7L271.5,103.4L271.6,104.1L271.7,104.8L272.0,105.5L272.3,106.2L272.6,106.9L272.9,107.6L273.0,108.3L273.1,109.0L273.1,109.7L272.9,110.4L272.8,111.1L272.6,111.8L272.4,112.5L272.3,113.2L272.2,113.9L272.3,114.6L273.2,115.3L274.6,116.0L275.4,116.7L275.9,117.4L275.9,118.1L275.3,118.8L274.3,119.5L273.0,120.2L271.6,120.9L270.4,121.6L269.3,122.3L268.7,123.0L268.5,123.7L268.9,124.4L269.8,125.1L271.2,125.8L272.7,126.5L274.3,127.2L275.4,127.9L275.9,128.6L275.9,129.3L275.8,130.0L275.0,130.7L274.0,131.4L272.9,132.1L272.0,132.8L271.3,133.5L270.8,134.2L270.6,134.9L270.6,135.6L270.9,136.3L271.3,137.0L271.8,137.7L272.4,138.4L272.9,139.1L273.4,139.8L273.6,140.5L273.7,141.2L273.7,141.9L273.5,142.6L273.2,143.3L272.9,144.0L272.6,144.7L272.3,145.4L272.1,146.1L272.0,146.8L271.9,147.5L271.9,148.2L271.9,148.9L272.0,149.6L272.1,150.3L272.3,151.0L272.4,151.7L272.6,152.4L272.7,153.1L272.8,153.8L272.9,154.5L272.9,155.2L272.9,155.9L272.9,156.6L272.8,157.3L272.7,158.0L272.5,158.7L272.4,159.4L272.3,160.1L272.2,160.8L272.2,161.5L272.1,162.2L272.2,162.9L272.2,163.6L272.3,164.3L272.4,165.0L272.5,165.7L272.6,166.4L272.6,167.1L272.7,167.8L272.7,168.5L272.7,169.2L272.7,169.9L272.6,170.6L272.6,171.3L272.5,172.0L272.5,172.7L272.4,176.2L272.4,176.9L272.4,177.6L272.4,178.3L272.3,179.0L272.3,179.7L272.3,180.4L272.4,181.1L272.4,181.8L272.4,182.5L272.5,183.2L272.6,183.9L272.6,184.6L272.7,185.3L272.7,186.0L272.6,186.7L272.6,187.4L272.5,188.1L272.5,188.8L272.4,189.5L272.4,190.2L272.4,190.9L272.3,191.6L272.3,192.3L272.4,193.0L272.4,193.7L272.4,194.4L272.5,252.5M276.1,34.1L276.1,71.9L276.4,72.6L277.9,73.3L279.4,74.0L279.5,74.7L279.5,75.4L279.5,76.1L279.3,76.8L277.9,77.5L276.1,78.2L274.5,78.9L273.1,79.6L271.9,80.3L271.3,81.0L271.3,81.7L272.0,82.4L273.3,83.1L275.1,83.8L277.0,84.5L278.8,85.2L279.5,85.9L279.5,86.6L279.5,87.3L279.5,88.0L279.1,88.7L277.8,89.4L276.4,90.1L275.3,90.8L274.5,91.5L273.9,92.2L273.7,92.9L273.9,93.6L274.3,94.3L274.9,95.0L275.6,95.7L276.3,96.4L277.0,97.1L277.5,97.8L277.8,98.5L277.9,99.2L277.7,99.9L277.3,100.6L276.8,101.3L276.3,102.0L275.9,102.7L275.6,103.4L275.3,104.1L275.3,104.8L275.3,105.5L275.5,106.2L275.7,106.9L276.0,107.6L276.2,108.3L276.5,109.0L276.7,109.7L276.8,110.4L276.8,111.1L276.7,111.8L276.5,112.5L276.3,113.2L276.1,113.9L276.0,114.6L275.8,115.3L275.8,116.0L275.8,116.7L276.1,117.4L277.4,118.1L278.8,118.8L279.5,119.5L279.5,120.2L279.5,120.9L279.0,121.6L277.8,122.3L276.3,123.0L274.9,123.7L273.7,124.4L272.6,125.1L272.1,125.8L272.0,126.5L272.5,127.2L273.6,127.9L275.2,128.6L276.7,129.3L278.2,130.0L279.3,130.7L279.5,131.4L279.5,132.1L279.4,132.8L278.6,133.5L277.6,134.2L276.5,134.9L275.6,135.6L274.9,136.3L274.4,137.0L274.3,137.7L274.3,138.4L274.6,139.1L275.1,139.8L275.6,140.5L276.1,141.2L276.7,141.9L277.1,142.6L277.4,143.3L277.4,144.0L277.3,144.7L277.1,145.4L276.7,146.1L276.4,146.8L276.0,147.5L275.8,148.2L275.6,148.9L275.6,149.6L275.6,150.3L275.6,151.0L275.8,151.7L275.9,152.4L276.1,153.1L276.3,153.8L276.4,154.5L276.5,155.2L276.5,155.9L276.5,156.6L276.4,157.3L276.3,158.0L276.2,158.7L276.1,159.4L276.0,160.1L276.0,160.8L276.0,161.5L276.0,162.2L276.0,162.9L276.1,163.6L276.1,164.3L276.2,165.0L276.2,165.7L276.3,166.4L276.3,167.1L276.3,167.8L276.2,168.5L276.2,169.2L276.1,169.9L276.1,170.6L276.1,171.3L276.0,172.0L276.0,172.7L276.0,173.4L276.1,174.1L276.1,174.8L276.2,176.2L276.2,176.9L276.2,177.6L276.2,178.3L276.2,179.0L276.2,179.7L276.2,180.4L276.2,181.1L276.1,183.2L276.1,183.9L276.1,184.6L276.1,185.3L276.1,186.0L276.1,186.7L276.1,252.5M279.8,34.1L279.8,73.3L280.1,74.0L281.4,74.7L282.9,75.4L283.2,76.1L283.2,76.8L283.2,77.5L282.8,78.2L281.5,78.9L279.8,79.6L278.3,80.3L277.0,81.0L275.9,81.7L275.3,82.4L275.3,83.1L275.9,83.8L277.1,84.5L278.8,85.2L280.6,85.9L282.2,86.6L283.2,87.3L283.2,88.0L283.2,88.7L283.2,89.4L282.4,90.1L281.2,90.8L280.0,91.5L279.1,92.2L278.5,92.9L278.1,93.6L277.9,94.3L278.1,95.0L278.5,95.7L279.0,96.4L279.5,97.1L280.1,97.8L280.6,98.5L281.0,99.2L281.1,99.9L281.0,100.6L280.8,101.3L280.4,102.0L280.0,102.7L279.6,103.4L279.3,104.1L279.2,104.8L279.1,105.5L279.2,106.2L279.4,106.9L279.6,107.6L279.9,108.3L280.2,109.0L280.4,109.7L280.5,110.4L280.6,111.1L280.5,111.8L280.3,112.5L280.0,113.2L279.8,113.9L279.5,114.6L279.3,115.3L279.2,116.0L279.1,116.7L279.2,117.4L279.5,118.1L280.9,118.8L282.3,119.5L283.2,120.2L283.2,120.9L283.2,121.6L283.0,122.3L281.9,123.0L280.5,123.7L279.0,124.4L277.7,125.1L276.6,125.8L275.9,126.5L275.7,127.2L276.1,127.9L277.1,128.6L278.5,129.3L279.9,130.0L281.3,130.7L282.5,131.4L283.1,132.1L283.2,132.8L283.1,133.5L282.5,134.2L281.6,134.9L280.6,135.6L279.7,136.3L279.0,137.0L278.5,137.7L278.3,138.4L278.2,139.1L278.3,139.8L278.6,140.5L279.0,141.2L279.5,141.9L279.9,142.6L280.3,143.3L280.6,144.0L280.8,144.7L280.8,145.4L280.7,146.1L280.5,146.8L280.3,147.5L280.1,148.2L279.8,148.9L279.7,149.6L279.5,150.3L279.5,151.0L279.5,151.7L279.5,152.4L279.5,153.1L279.6,153.8L279.7,154.5L279.8,155.2L279.8,155.9L279.9,156.6L279.9,157.3L280.0,158.0L280.0,158.7L280.0,159.4L279.9,160.1L279.9,160.8L279.9,161.5L279.9,162.2L279.9,162.9L279.8,165.0L279.8,165.7L279.7,166.4L279.7,167.1L279.7,167.8L279.7,168.5L279.8,169.2L279.8,169.9L279.9,171.3L279.9,172.0L279.9,172.7L279.9,173.4L279.9,174.1L279.9,174.8L279.9,175.5L279.9,176.2L279.8,177.6L279.7,178.3L279.7,179.0L279.7,179.7L279.7,180.4L279.7,181.1L279.8,181.8L279.8,182.5L279.8,183.2L279.9,183.9L279.9,184.6L279.9,185.3L279.9,186.0L279.9,186.7L279.9,187.4L279.9,188.1L279.9,188.8L279.8,190.9L279.8,191.6L279.7,192.3L279.8,193.0L279.8,193.7L279.8,194.4L279.8,252.5M283.5,34.1L283.5,74.7L283.8,75.4L285.2,76.1L286.8,76.8L286.9,77.5L286.9,78.2L286.9,78.9L286.7,79.6L285.3,80.3L283.6,81.0L281.9,81.7L280.5,82.4L279.3,83.1L278.6,83.8L278.6,84.5L279.3,85.2L280.6,85.9L282.4,86.6L284.4,87.3L286.2,88.0L286.9,88.7L286.9,89.4L286.9,90.1L286.9,90.8L286.2,91.5L284.9,92.2L283.5,92.9L282.5,93.6L281.7,94.3L281.3,95.0L281.2,95.7L281.4,96.4L281.9,97.1L282.5,97.8L283.2,98.5L283.9,99.2L284.5,99.9L285.0,100.6L285.1,101.3L285.1,102.0L284.9,102.7L284.5,103.4L284.0,104.1L283.6,104.8L283.2,105.5L282.9,106.2L282.7,106.9L282.7,107.6L282.7,108.3L282.8,109.0L283.0,109.7L283.2,110.4L283.5,111.1L283.8,111.8L284.0,112.5L284.2,113.2L284.3,113.9L284.3,114.6L284.2,115.3L284.0,116.0L283.8,116.7L283.5,117.4L283.3,118.1L283.2,118.8L284.0,119.5L285.3,120.2L286.1,120.9L286.5,121.6L286.5,122.3L286.1,123.0L285.3,123.7L284.1,124.4L282.9,125.1L281.8,125.8L280.8,126.5L280.1,127.2L279.9,127.9L280.2,128.6L280.9,129.3L282.2,130.0L283.4,130.7L284.8,131.4L285.8,132.1L286.5,132.8L286.7,133.5L286.4,134.2L285.9,134.9L285.1,135.6L284.3,136.3L283.4,137.0L282.8,137.7L282.3,138.4L282.0,139.1L282.0,139.8L282.1,140.5L282.4,141.2L282.8,141.9L283.2,142.6L283.7,143.3L284.1,144.0L284.4,144.7L284.6,145.4L284.6,146.1L284.5,146.8L284.2,147.5L283.9,148.2L283.5,148.9L283.3,149.6L283.1,150.3L283.0,151.0L282.9,151.7L283.0,152.4L283.1,153.1L283.3,153.8L283.5,154.5L283.7,155.2L283.9,155.9L284.0,156.6L283.9,157.3L283.8,158.0L283.7,158.7L283.5,159.4L283.4,160.1L283.2,160.8L283.2,161.5L283.2,162.2L283.2,162.9L283.4,163.6L283.5,164.3L283.7,165.0L283.8,165.7L283.9,166.4L283.9,167.1L283.9,167.8L283.7,168.5L283.6,169.2L283.4,169.9L283.3,170.6L283.2,171.3L283.1,172.0L283.2,172.7L283.2,173.4L283.4,174.1L283.5,174.8L283.6,175.5L283.7,176.2L283.8,176.9L283.8,177.6L283.8,178.3L283.7,179.0L283.6,179.7L283.5,180.4L283.4,181.1L283.4,181.8L283.4,182.5L283.4,183.2L283.4,183.9L283.4,184.6L283.5,185.3L283.5,186.0L283.6,186.7L283.6,187.4L283.6,188.1L283.5,188.8L283.5,252.5M287.2,34.1L287.2,76.1L287.4,76.8L288.5,77.5L289.7,78.2L290.4,78.9L290.6,79.6L290.4,80.3L289.7,81.0L288.6,81.7L287.3,82.4L286.0,83.1L284.8,83.8L283.9,84.5L283.4,85.2L283.3,85.9L283.8,86.6L284.8,87.3L286.2,88.0L287.7,88.7L289.1,89.4L290.2,90.1L290.6,90.8L290.6,91.5L290.5,92.2L289.8,92.9L288.8,93.6L287.8,94.3L286.8,95.0L286.1,95.7L285.5,96.4L285.3,97.1L285.3,97.8L285.5,98.5L285.9,99.2L286.4,99.9L287.0,100.6L287.6,101.3L288.1,102.0L288.4,102.7L288.6,103.4L288.5,104.1L288.3,104.8L288.0,105.5L287.6,106.2L287.2,106.9L286.9,107.6L286.7,108.3L286.6,109.0L286.6,109.7L286.6,110.4L286.8,111.1L287.0,111.8L287.2,112.5L287.4,113.2L287.5,113.9L287.6,114.6L287.6,115.3L287.5,116.0L287.3,116.7L287.2,117.4L287.0,118.1L286.9,118.8L286.9,119.5L286.9,120.2L287.6,120.9L288.9,121.6L289.7,122.3L290.2,123.0L290.3,123.7L289.9,124.4L289.2,125.1L288.0,125.8L286.8,126.5L285.7,127.2L284.7,127.9L284.0,128.6L283.7,129.3L283.9,130.0L284.6,130.7L285.7,131.4L286.9,132.1L288.3,132.8L289.3,133.5L290.0,134.2L290.3,134.9L290.1,135.6L289.6,136.3L288.8,137.0L287.9,137.7L287.1,138.4L286.5,139.1L286.0,139.8L285.8,140.5L285.7,141.2L285.9,141.9L286.2,142.6L286.6,143.3L287.0,144.0L287.4,144.7L287.7,145.4L287.9,146.1L288.0,146.8L288.0,147.5L287.9,148.2L287.7,148.9L287.4,149.6L287.2,150.3L287.1,151.0L287.0,151.7L286.9,152.4L286.9,153.1L287.0,153.8L287.0,154.5L287.1,155.2L287.2,155.9L287.2,165.0L287.2,165.7L287.3,166.4L287.3,167.1L287.3,167.8L287.3,168.5L287.3,169.2L287.2,169.9L287.2,170.6L287.2,171.3L287.1,173.4L287.1,174.1L287.1,174.8L287.1,175.5L287.0,176.2L287.0,176.9L287.1,177.6L287.1,178.3L287.1,179.0L287.2,179.7L287.3,180.4L287.3,181.1L287.4,181.8L287.4,182.5L287.4,183.2L287.3,183.9L287.3,184.6L287.2,185.3L287.2,186.0L287.1,186.7L287.1,187.4L287.1,188.1L287.1,188.8L287.1,189.5L287.1,190.2L287.1,190.9L287.2,192.3L287.2,193.0L287.2,193.7L287.2,194.4L287.2,195.1L287.2,195.8L287.2,252.5M290.9,34.1L290.9,77.5L291.1,78.2L292.4,78.9L293.9,79.6L294.3,80.3L294.3,81.0L294.3,81.7L294.0,82.4L292.7,83.1L291.0,83.8L289.5,84.5L288.1,85.2L286.9,85.9L286.3,86.6L286.2,87.3L286.8,88.0L288.0,88.7L289.7,89.4L291.5,90.1L293.3,90.8L294.3,91.5L294.3,92.2L294.3,92.9L294.3,93.6L293.7,94.3L292.4,95.0L291.1,95.7L290.1,96.4L289.3,97.1L288.8,97.8L288.6,98.5L288.7,99.2L289.1,99.9L289.7,100.6L290.3,101.3L291.1,102.0L291.8,102.7L292.3,103.4L292.6,104.1L292.6,104.8L292.4,105.5L292.0,106.2L291.5,106.9L291.0,107.6L290.5,108.3L290.2,109.0L290.0,109.7L289.9,110.4L289.9,111.1L290.1,111.8L290.3,112.5L290.6,113.2L291.0,113.9L291.3,114.6L291.5,115.3L291.7,116.0L291.7,116.7L291.6,117.4L291.4,118.1L291.2,118.8L290.9,119.5L290.7,120.2L290.5,120.9L290.5,121.6L291.5,122.3L292.8,123.0L293.5,123.7L294.0,124.4L294.0,125.1L293.5,125.8L292.6,126.5L291.4,127.2L290.1,127.9L289.0,128.6L288.0,129.3L287.4,130.0L287.2,130.7L287.6,131.4L288.4,132.1L289.7,132.8L291.1,133.5L292.4,134.2L293.4,134.9L294.0,135.6L294.1,136.3L293.8,137.0L293.1,137.7L292.3,138.4L291.3,139.1L290.5,139.8L289.9,140.5L289.5,141.2L289.3,141.9L289.3,142.6L289.5,143.3L289.9,144.0L290.3,144.7L290.7,145.4L291.2,146.1L291.6,146.8L291.8,147.5L291.9,148.2L291.8,148.9L291.7,149.6L291.4,150.3L291.2,151.0L290.9,151.7L290.7,152.4L290.5,153.1L290.4,153.8L290.4,154.5L290.4,155.2L290.5,155.9L290.6,156.6L290.7,157.3L290.8,158.0L290.9,158.7L291.0,159.4L291.1,160.1L291.1,160.8L291.1,161.5L291.1,162.2L291.0,162.9L291.0,163.6L290.9,164.3L290.9,165.0L290.8,166.4L290.8,167.1L290.8,167.8L290.8,168.5L290.8,169.2L290.8,169.9L290.8,170.6L290.8,171.3L290.9,174.1L290.9,174.8L290.9,175.5L290.9,176.2L290.9,176.9L290.9,177.6L290.9,252.5M294.5,34.1L294.5,78.9L294.7,79.6L296.0,80.3L297.6,81.0L297.9,81.7L297.9,82.4L297.9,83.1L297.7,83.8L296.4,84.5L294.7,85.2L293.2,85.9L291.8,86.6L290.6,87.3L290.0,88.0L289.9,88.7L290.4,89.4L291.6,90.1L293.3,90.8L295.1,91.5L296.8,92.2L297.9,92.9L297.9,93.6L297.9,94.3L297.9,95.0L297.6,95.7L296.4,96.4L295.1,97.1L294.0,97.8L293.2,98.5L292.6,99.2L292.3,99.9L292.3,100.6L292.6,101.3L293.1,102.0L293.7,102.7L294.4,103.4L295.2,104.1L295.8,104.8L296.2,105.5L296.3,106.2L296.2,106.9L295.9,107.6L295.5,108.3L295.0,109.0L294.4,109.7L294.1,110.4L293.8,111.1L293.6,111.8L293.6,112.5L293.7,113.2L293.9,113.9L294.2,114.6L294.4,115.3L294.8,116.0L295.0,116.7L295.2,117.4L295.3,118.1L295.3,118.8L295.1,119.5L294.9,120.2L294.7,120.9L294.5,121.6L294.3,122.3L294.2,123.0L294.7,123.7L296.2,124.4L297.1,125.1L297.7,125.8L297.8,126.5L297.5,127.2L296.7,127.9L295.5,128.6L294.2,129.3L292.9,130.0L291.8,130.7L291.0,131.4L290.7,132.1L290.9,132.8L291.6,133.5L292.8,134.2L294.3,134.9L295.8,135.6L297.1,136.3L297.9,137.0L297.9,137.7L297.9,138.4L297.3,139.1L296.4,139.8L295.3,140.5L294.3,141.2L293.5,141.9L293.0,142.6L292.7,143.3L292.6,144.0L292.9,144.7L293.3,145.4L293.8,146.1L294.4,146.8L295.0,147.5L295.6,148.2L295.9,148.9L296.0,149.6L295.9,150.3L295.7,151.0L295.3,151.7L294.8,152.4L294.4,153.1L294.1,153.8L293.9,154.5L293.7,155.2L293.8,155.9L293.9,156.6L294.1,157.3L294.3,158.0L294.6,158.7L294.8,159.4L295.0,160.1L295.2,160.8L295.2,161.5L295.1,162.2L294.9,162.9L294.7,163.6L294.5,164.3L294.4,165.0L294.3,165.7L294.2,166.4L294.2,167.1L294.2,167.8L294.3,168.5L294.4,169.2L294.6,169.9L294.7,170.6L294.8,171.3L294.8,172.0L294.8,172.7L294.7,173.4L294.7,174.1L294.6,174.8L294.5,175.5L294.5,176.2L294.4,176.9L294.4,177.6L294.4,178.3L294.4,179.0L294.5,179.7L294.5,180.4L294.6,181.8L294.6,182.5L294.6,183.2L294.6,183.9L294.6,184.6L294.6,185.3L294.5,252.5M298.2,34.1L298.2,80.3L298.4,81.0L299.6,81.7L301.2,82.4L301.6,83.1L301.6,83.8L301.6,84.5L301.4,85.2L300.1,85.9L298.5,86.6L296.9,87.3L295.5,88.0L294.4,88.7L293.7,89.4L293.6,90.1L294.2,90.8L295.3,91.5L297.0,92.2L298.8,92.9L300.5,93.6L301.6,94.3L301.6,95.0L301.6,95.7L301.6,96.4L301.1,97.1L299.9,97.8L298.7,98.5L297.6,99.2L296.8,99.9L296.2,100.6L296.0,101.3L296.1,102.0L296.4,102.7L296.9,103.4L297.5,104.1L298.2,104.8L298.9,105.5L299.4,106.2L299.8,106.9L299.9,107.6L299.8,108.3L299.5,109.0L299.1,109.7L298.6,110.4L298.1,111.1L297.8,111.8L297.5,112.5L297.3,113.2L297.3,113.9L297.4,114.6L297.6,115.3L297.9,116.0L298.2,116.7L298.5,117.4L298.7,118.1L298.9,118.8L299.0,119.5L299.0,120.2L298.8,120.9L298.6,121.6L298.3,122.3L298.1,123.0L297.9,123.7L297.8,124.4L297.9,125.1L299.0,125.8L300.3,126.5L301.1,127.2L301.6,127.9L301.6,128.6L301.0,129.3L300.1,130.0L298.7,130.7L297.4,131.4L296.1,132.1L295.1,132.8L294.5,133.5L294.3,134.2L294.7,134.9L295.6,135.6L297.0,136.3L298.5,137.0L300.0,137.7L301.1,138.4L301.6,139.1L301.6,139.8L301.5,140.5L300.8,141.2L299.8,141.9L298.7,142.6L297.8,143.3L297.0,144.0L296.5,144.7L296.3,145.4L296.3,146.1L296.6,146.8L297.0,147.5L297.6,148.2L298.1,148.9L298.7,149.6L299.2,150.3L299.5,151.0L299.6,151.7L299.5,152.4L299.3,153.1L299.0,153.8L298.6,154.5L298.2,155.2L297.9,155.9L297.7,156.6L297.6,157.3L297.6,158.0L297.6,158.7L297.7,159.4L297.9,160.1L298.0,160.8L298.2,161.5L298.3,162.2L298.5,162.9L298.6,163.6L298.6,164.3L298.6,165.0L298.6,165.7L298.6,166.4L298.5,167.1L298.4,167.8L298.3,168.5L298.2,169.2L298.1,169.9L298.0,170.6L298.0,171.3L297.9,172.0L297.9,172.7L297.9,173.4L298.0,174.1L298.1,174.8L298.2,175.5L298.3,176.2L298.4,176.9L298.5,177.6L298.5,178.3L298.5,179.0L298.5,179.7L298.4,180.4L298.3,181.1L298.2,181.8L298.1,182.5L298.1,183.2L298.1,183.9L298.1,184.6L298.1,185.3L298.1,186.0L298.2,186.7L298.2,187.4L298.3,188.1L298.3,188.8L298.3,189.5L298.3,190.2L298.3,190.9L298.3,191.6L298.2,252.5M301.9,34.1L301.9,81.7L302.1,82.4L303.4,83.1L305.1,83.8L305.3,84.5L305.3,85.2L305.3,85.9L305.3,86.6L304.0,87.3L302.2,88.0L300.5,88.7L299.0,89.4L297.7,90.1L296.9,90.8L296.8,91.5L297.4,92.2L298.7,92.9L300.5,93.6L302.4,94.3L304.3,95.0L305.3,95.7L305.3,96.4L305.3,97.1L305.3,97.8L305.1,98.5L303.8,99.2L302.5,99.9L301.3,100.6L300.4,101.3L299.8,102.0L299.5,102.7L299.5,103.4L299.9,104.1L300.4,104.8L301.2,105.5L301.9,106.2L302.8,106.9L303.4,107.6L303.8,108.3L303.9,109.0L303.7,109.7L303.3,110.4L302.7,111.1L302.0,111.8L301.5,112.5L301.1,113.2L300.8,113.9L300.7,114.6L300.8,115.3L301.1,116.0L301.4,116.7L301.8,117.4L302.3,118.1L302.6,118.8L302.8,119.5L302.9,120.2L302.8,120.9L302.5,121.6L302.2,122.3L301.9,123.0L301.6,123.7L301.4,124.4L301.4,125.1L301.4,125.8L302.1,126.5L303.9,127.2L305.0,127.9L305.3,128.6L305.3,129.3L305.3,130.0L304.5,130.7L303.0,131.4L301.4,132.1L300.0,132.8L298.8,133.5L297.9,134.2L297.6,134.9L297.8,135.6L298.7,136.3L300.1,137.0L301.7,137.7L303.4,138.4L304.8,139.1L305.3,139.8L305.3,140.5L305.3,141.2L304.7,141.9L303.7,142.6L302.6,143.3L301.6,144.0L300.9,144.7L300.4,145.4L300.2,146.1L300.2,146.8L300.4,147.5L300.8,148.2L301.2,148.9L301.7,149.6L302.2,150.3L302.5,151.0L302.8,151.7L302.9,152.4L302.9,153.1L302.8,153.8L302.6,154.5L302.4,155.2L302.2,155.9L301.9,156.6L301.7,157.3L301.6,158.0L301.5,158.7L301.4,159.4L301.4,160.1L301.4,160.8L301.5,161.5L301.6,162.2L301.8,162.9L302.0,163.6L302.2,164.3L302.3,165.0L302.4,165.7L302.4,166.4L302.4,167.1L302.3,167.8L302.1,168.5L301.9,169.2L301.8,169.9L301.6,170.6L301.6,171.3L301.6,172.0L301.6,172.7L301.7,173.4L301.8,174.1L302.0,174.8L302.1,175.5L302.1,176.2L302.1,176.9L302.1,177.6L302.0,178.3L301.9,179.0L301.8,179.7L301.8,180.4L301.8,181.1L301.8,181.8L301.8,182.5L301.9,183.2L301.9,183.9L302.0,184.6L302.0,185.3L302.1,186.0L302.0,186.7L302.0,187.4L301.9,188.1L301.9,188.8L301.8,189.5L301.8,190.2L301.8,190.9L301.8,191.6L301.8,192.3L301.9,193.0L301.9,252.5M305.6,34.1L305.6,83.1L305.7,83.8L306.7,84.5L308.1,85.2L308.8,85.9L309.0,86.6L309.0,87.3L308.4,88.0L307.3,88.7L305.9,89.4L304.5,90.1L303.3,90.8L302.3,91.5L301.7,92.2L301.6,92.9L302.0,93.6L303.0,94.3L304.5,95.0L306.0,95.7L307.6,96.4L308.8,97.1L309.0,97.8L309.0,98.5L309.0,99.2L308.1,99.9L306.9,100.6L305.7,101.3L304.7,102.0L304.0,102.7L303.5,103.4L303.4,104.1L303.6,104.8L304.0,105.5L304.7,106.2L305.3,106.9L306.1,107.6L306.7,108.3L307.2,109.0L307.3,109.7L307.3,110.4L307.0,111.1L306.5,111.8L305.9,112.5L305.4,113.2L305.0,113.9L304.7,114.6L304.5,115.3L304.5,116.0L304.7,116.7L304.9,117.4L305.3,118.1L305.6,118.8L306.0,119.5L306.3,120.2L306.5,120.9L306.6,121.6L306.5,122.3L306.3,123.0L306.0,123.7L305.7,124.4L305.4,125.1L305.2,125.8L305.0,126.5L305.0,127.2L305.1,127.9L306.2,128.6L307.3,129.3L308.1,130.0L308.5,130.7L308.5,131.4L308.1,132.1L307.2,132.8L306.1,133.5L304.9,134.2L303.9,134.9L303.0,135.6L302.5,136.3L302.3,137.0L302.7,137.7L303.5,138.4L304.7,139.1L305.9,139.8L307.1,140.5L307.9,141.2L308.4,141.9L308.4,142.6L308.1,143.3L307.5,144.0L306.7,144.7L305.8,145.4L305.1,146.1L304.6,146.8L304.3,147.5L304.1,148.2L304.2,148.9L304.5,149.6L304.9,150.3L305.3,151.0L305.8,151.7L306.2,152.4L306.5,153.1L306.6,153.8L306.6,154.5L306.5,155.2L306.2,155.9L305.9,156.6L305.6,157.3L305.3,158.0L305.1,158.7L305.0,159.4L305.0,160.1L305.0,160.8L305.1,161.5L305.3,162.2L305.5,162.9L305.7,163.6L305.9,164.3L306.0,165.0L306.1,165.7L306.1,166.4L306.1,167.1L306.0,167.8L305.8,168.5L305.6,169.2L305.5,169.9L305.4,170.6L305.3,171.3L305.2,172.0L305.2,172.7L305.2,173.4L305.3,174.1L305.4,174.8L305.5,175.5L305.6,176.2L305.7,176.9L305.8,177.6L305.9,178.3L305.9,179.0L305.9,179.7L305.9,180.4L305.8,181.1L305.7,181.8L305.6,182.5L305.5,183.2L305.4,183.9L305.4,184.6L305.4,185.3L305.4,186.0L305.4,186.7L305.4,187.4L305.5,188.1L305.6,188.8L305.6,189.5L305.7,190.2L305.7,190.9L305.7,191.6L305.7,192.3L305.7,193.0L305.7,193.7L305.6,194.4L305.6,252.5M309.3,34.1L309.3,84.5L309.4,85.2L310.6,85.9L312.4,86.6L312.7,87.3L312.7,88.0L312.7,88.7L312.7,89.4L311.4,90.1L309.7,90.8L308.0,91.5L306.5,92.2L305.2,92.9L304.4,93.6L304.3,94.3L304.8,95.0L306.0,95.7L307.8,96.4L309.7,97.1L311.7,97.8L312.7,98.5L312.7,99.2L312.7,99.9L312.7,100.6L312.6,101.3L311.3,102.0L309.8,102.7L308.6,103.4L307.7,104.1L307.0,104.8L306.8,105.5L306.8,106.2L307.2,106.9L307.7,107.6L308.4,108.3L309.1,109.0L309.9,109.7L310.5,110.4L310.9,111.1L311.1,111.8L311.0,112.5L310.8,113.2L310.4,113.9L309.9,114.6L309.4,115.3L309.0,116.0L308.7,116.7L308.4,117.4L308.3,118.1L308.3,118.8L308.4,119.5L308.5,120.2L308.8,120.9L309.1,121.6L309.4,122.3L309.8,123.0L310.0,123.7L310.1,124.4L310.1,125.1L310.0,125.8L309.9,126.5L309.6,127.2L309.3,127.9L309.1,128.6L309.5,129.3L310.9,130.0L311.8,130.7L312.3,131.4L312.5,132.1L312.1,132.8L311.3,133.5L310.2,134.2L308.8,134.9L307.6,135.6L306.4,136.3L305.6,137.0L305.3,137.7L305.5,138.4L306.3,139.1L307.6,139.8L309.1,140.5L310.8,141.2L312.1,141.9L312.7,142.6L312.7,143.3L312.7,144.0L312.1,144.7L311.0,145.4L309.8,146.1L308.7,146.8L307.9,147.5L307.4,148.2L307.2,148.9L307.3,149.6L307.6,150.3L308.2,151.0L308.8,151.7L309.5,152.4L310.1,153.1L310.6,153.8L310.8,154.5L310.8,155.2L310.5,155.9L310.2,156.6L309.7,157.3L309.3,158.0L308.9,158.7L308.7,159.4L308.5,160.1L308.5,160.8L308.6,161.5L308.7,162.2L308.9,162.9L309.1,163.6L309.3,164.3L309.5,165.0L309.7,165.7L309.8,166.4L309.8,167.1L309.8,167.8L309.7,168.5L309.6,169.2L309.4,169.9L309.3,170.6L309.1,171.3L309.0,172.0L308.9,172.7L308.9,173.4L308.9,174.1L308.9,174.8L309.0,175.5L309.2,176.2L309.3,176.9L309.5,177.6L309.6,178.3L309.7,179.0L309.7,179.7L309.6,180.4L309.5,181.1L309.4,181.8L309.2,182.5L309.1,183.2L309.1,183.9L309.0,184.6L309.0,185.3L309.1,186.0L309.1,186.7L309.2,187.4L309.3,188.1L309.3,188.8L309.4,189.5L309.4,190.2L309.4,190.9L309.4,191.6L309.3,192.3L309.3,193.0L309.3,252.5M312.9,34.1L312.9,85.9L313.0,86.6L314.0,87.3L315.4,88.0L316.1,88.7L316.3,89.4L316.3,90.1L315.7,90.8L314.7,91.5L313.3,92.2L312.0,92.9L310.7,93.6L309.7,94.3L309.1,95.0L309.0,95.7L309.4,96.4L310.3,97.1L311.7,97.8L313.2,98.5L314.8,99.2L315.9,99.9L316.3,100.6L316.3,101.3L316.2,102.0L315.5,102.7L314.5,103.4L313.4,104.1L312.5,104.8L311.8,105.5L311.4,106.2L311.2,106.9L311.2,107.6L311.5,108.3L311.9,109.0L312.4,109.7L312.9,110.4L313.4,111.1L313.8,111.8L314.0,112.5L314.1,113.2L314.0,113.9L313.8,114.6L313.6,115.3L313.2,116.0L312.9,116.7L312.7,117.4L312.5,118.1L312.5,118.8L312.4,119.5L312.5,120.2L312.6,120.9L312.7,121.6L312.8,122.3L312.9,123.0L313.1,123.7L313.2,124.4L313.2,125.1L313.3,125.8L313.2,126.5L313.2,127.2L313.1,127.9L313.0,128.6L312.9,129.3L312.9,130.0L313.2,130.7L314.4,131.4L315.1,132.1L315.6,132.8L315.7,133.5L315.4,134.2L314.8,134.9L313.8,135.6L312.7,136.3L311.7,137.0L310.7,137.7L310.1,138.4L309.8,139.1L309.9,139.8L310.4,140.5L311.4,141.2L312.5,141.9L313.8,142.6L314.8,143.3L315.6,144.0L315.9,144.7L315.8,145.4L315.4,146.1L314.7,146.8L313.9,147.5L313.0,148.2L312.4,148.9L311.9,149.6L311.6,150.3L311.4,151.0L311.5,151.7L311.7,152.4L312.1,153.1L312.5,153.8L312.9,154.5L313.4,155.2L313.8,155.9L314.0,156.6L314.1,157.3L314.0,158.0L313.9,158.7L313.6,159.4L313.3,160.1L312.9,160.8L312.7,161.5L312.5,162.2L312.4,162.9L312.3,163.6L312.3,164.3L312.4,165.0L312.6,165.7L312.8,166.4L313.0,167.1L313.2,167.8L313.3,168.5L313.4,169.2L313.5,169.9L313.4,170.6L313.3,171.3L313.2,172.0L313.0,172.7L312.9,173.4L312.8,174.1L312.7,174.8L312.7,175.5L312.7,176.2L312.8,176.9L312.8,177.6L312.9,178.3L313.0,179.0L313.1,179.7L313.1,180.4L313.1,181.1L313.1,181.8L313.0,182.5L313.0,183.2L312.9,183.9L312.9,184.6L312.9,185.3L312.9,186.0L312.9,186.7L312.9,187.4L313.0,190.2L313.0,190.9L313.0,191.6L313.0,192.3L312.9,252.5M316.6,34.1L316.6,87.3L316.7,88.0L317.9,88.7L319.7,89.4L320.0,90.1L320.0,90.8L320.0,91.5L320.0,92.2L318.8,92.9L317.1,93.6L315.4,94.3L313.9,95.0L312.6,95.7L311.8,96.4L311.7,97.1L312.2,97.8L313.3,98.5L315.1,99.2L317.1,99.9L319.0,100.6L320.0,101.3L320.0,102.0L320.0,102.7L320.0,103.4L319.7,104.1L318.3,104.8L316.8,105.5L315.6,106.2L314.7,106.9L314.1,107.6L313.9,108.3L314.1,109.0L314.5,109.7L315.3,110.4L316.1,111.1L317.0,111.8L317.8,112.5L318.5,113.2L318.8,113.9L318.9,114.6L318.6,115.3L318.2,116.0L317.5,116.7L316.8,117.4L316.2,118.1L315.8,118.8L315.4,119.5L315.3,120.2L315.3,120.9L315.5,121.6L315.8,122.3L316.1,123.0L316.5,123.7L317.0,124.4L317.4,125.1L317.6,125.8L317.8,126.5L317.8,127.2L317.6,127.9L317.4,128.6L317.1,129.3L316.8,130.0L316.5,130.7L316.2,131.4L316.6,132.1L318.0,132.8L318.9,133.5L319.5,134.2L319.7,134.9L319.4,135.6L318.7,136.3L317.6,137.0L316.3,137.7L315.1,138.4L314.0,139.1L313.3,139.8L312.9,140.5L313.1,141.2L313.8,141.9L315.0,142.6L316.5,143.3L318.0,144.0L319.2,144.7L320.0,145.4L320.0,146.1L319.9,146.8L319.2,147.5L318.3,148.2L317.2,148.9L316.2,149.6L315.5,150.3L314.9,151.0L314.7,151.7L314.7,152.4L315.0,153.1L315.5,153.8L316.0,154.5L316.6,155.2L317.3,155.9L317.8,156.6L318.1,157.3L318.2,158.0L318.1,158.7L317.8,159.4L317.4,160.1L316.9,160.8L316.5,161.5L316.1,162.2L315.9,162.9L315.7,163.6L315.7,164.3L315.8,165.0L315.9,165.7L316.2,166.4L316.4,167.1L316.7,167.8L317.0,168.5L317.2,169.2L317.4,169.9L317.4,170.6L317.3,171.3L317.2,172.0L317.0,172.7L316.8,173.4L316.6,174.1L316.5,174.8L316.4,175.5L316.3,176.2L316.2,176.9L316.3,177.6L316.3,178.3L316.4,179.0L316.5,179.7L316.6,180.4L316.6,181.1L316.7,181.8L316.8,182.5L316.8,183.2L316.8,183.9L316.8,184.6L316.8,185.3L316.7,186.0L316.7,186.7L316.7,187.4L316.6,189.5L316.6,190.2L316.6,190.9L316.6,191.6L316.6,192.3L316.6,252.5M320.3,34.1L320.3,88.7L320.4,89.4L321.3,90.1L322.9,90.8L323.7,91.5L323.7,92.2L323.7,92.9L323.3,93.6L322.2,94.3L320.8,95.0L319.3,95.7L318.0,96.4L316.9,97.1L316.2,97.8L316.1,98.5L316.5,99.2L317.4,99.9L318.9,100.6L320.6,101.3L322.2,102.0L323.4,102.7L323.7,103.4L323.7,104.1L323.7,104.8L322.9,105.5L321.8,106.2L320.7,106.9L319.8,107.6L319.1,108.3L318.6,109.0L318.4,109.7L318.5,110.4L318.8,111.1L319.3,111.8L319.9,112.5L320.4,113.2L321.0,113.9L321.4,114.6L321.6,115.3L321.6,116.0L321.4,116.7L321.1,117.4L320.8,118.1L320.3,118.8L320.0,119.5L319.8,120.2L319.7,120.9L319.6,121.6L319.7,122.3L319.8,123.0L320.0,123.7L320.2,124.4L320.5,125.1L320.7,125.8L320.8,126.5L320.9,127.2L320.8,127.9L320.7,128.6L320.6,129.3L320.4,130.0L320.2,130.7L320.1,131.4L320.0,132.1L319.9,132.8L320.0,133.5L320.9,134.2L322.2,134.9L323.0,135.6L323.5,136.3L323.5,137.0L323.0,137.7L322.2,138.4L321.0,139.1L319.7,139.8L318.6,140.5L317.6,141.2L316.9,141.9L316.7,142.6L317.0,143.3L317.8,144.0L319.0,144.7L320.3,145.4L321.6,146.1L322.7,146.8L323.3,147.5L323.5,148.2L323.3,148.9L322.7,149.6L321.9,150.3L321.0,151.0L320.1,151.7L319.5,152.4L319.0,153.1L318.8,153.8L318.7,154.5L318.9,155.2L319.2,155.9L319.6,156.6L320.0,157.3L320.5,158.0L320.9,158.7L321.2,159.4L321.4,160.1L321.4,160.8L321.3,161.5L321.1,162.2L320.8,162.9L320.5,163.6L320.2,164.3L320.0,165.0L319.9,165.7L319.8,166.4L319.8,167.1L319.8,167.8L319.9,168.5L320.1,169.2L320.2,169.9L320.4,170.6L320.5,171.3L320.6,172.0L320.7,172.7L320.7,173.4L320.6,174.1L320.5,174.8L320.4,175.5L320.3,176.2L320.2,176.9L320.2,177.6L320.1,178.3L320.1,179.0L320.1,179.7L320.2,180.4L320.3,181.1L320.3,181.8L320.4,182.5L320.4,183.2L320.5,183.9L320.5,184.6L320.4,185.3L320.4,186.0L320.3,186.7L320.3,187.4L320.2,188.1L320.2,188.8L320.2,189.5L320.2,190.2L320.2,190.9L320.2,191.6L320.3,192.3L320.3,193.0L320.4,193.7L320.4,194.4L320.4,195.1L320.4,195.8L320.4,196.5L320.4,197.2L320.3,197.9L320.3,252.5M324.0,34.1L324.0,90.1L324.0,90.8L325.0,91.5L326.5,92.2L327.3,92.9L327.4,93.6L327.4,94.3L327.0,95.0L325.9,95.7L324.5,96.4L323.1,97.1L321.7,97.8L320.6,98.5L319.9,99.2L319.7,99.9L320.1,100.6L321.0,101.3L322.5,102.0L324.2,102.7L325.9,103.4L327.2,104.1L327.4,104.8L327.4,105.5L327.4,106.2L326.9,106.9L325.8,107.6L324.5,108.3L323.3,109.0L322.4,109.7L321.8,110.4L321.6,111.1L321.6,111.8L322.0,112.5L322.7,113.2L323.4,113.9L324.2,114.6L325.0,115.3L325.7,116.0L326.0,116.7L326.1,117.4L325.8,118.1L325.4,118.8L324.8,119.5L324.1,120.2L323.5,120.9L323.1,121.6L322.8,122.3L322.7,123.0L322.7,123.7L322.9,124.4L323.3,125.1L323.7,125.8L324.1,126.5L324.6,127.2L324.9,127.9L325.1,128.6L325.2,129.3L325.1,130.0L324.8,130.7L324.5,131.4L324.1,132.1L323.8,132.8L323.6,133.5L324.0,134.2L325.2,134.9L325.9,135.6L326.3,136.3L326.5,137.0L326.2,137.7L325.6,138.4L324.6,139.1L323.6,139.8L322.6,140.5L321.7,141.2L321.1,141.9L320.9,142.6L321.1,143.3L321.7,144.0L322.8,144.7L324.0,145.4L325.3,146.1L326.3,146.8L326.8,147.5L326.9,148.2L326.6,148.9L326.0,149.6L325.2,150.3L324.3,151.0L323.5,151.7L322.9,152.4L322.6,153.1L322.4,153.8L322.5,154.5L322.7,155.2L323.2,155.9L323.6,156.6L324.2,157.3L324.7,158.0L325.1,158.7L325.3,159.4L325.3,160.1L325.1,160.8L324.8,161.5L324.4,162.2L324.0,162.9L323.7,163.6L323.4,164.3L323.3,165.0L323.2,165.7L323.3,166.4L323.4,167.1L323.6,167.8L323.9,168.5L324.1,169.2L324.3,169.9L324.5,170.6L324.6,171.3L324.6,172.0L324.5,172.7L324.4,173.4L324.2,174.1L324.0,174.8L323.9,175.5L323.8,176.2L323.8,176.9L323.7,177.6L323.7,178.3L323.8,179.0L323.8,179.7L323.9,180.4L324.0,181.1L324.0,181.8L324.0,182.5L324.1,183.2L324.1,183.9L324.1,184.6L324.0,185.3L324.0,186.0L324.0,252.5M327.7,34.1L327.7,91.5L327.7,92.2L328.7,92.9L330.4,93.6L331.1,94.3L331.1,95.0L331.1,95.7L331.0,96.4L329.8,97.1L328.3,97.8L326.7,98.5L325.3,99.2L324.1,99.9L323.3,100.6L323.1,101.3L323.5,102.0L324.5,102.7L326.1,103.4L327.8,104.1L329.6,104.8L331.0,105.5L331.1,106.2L331.1,106.9L331.1,107.6L330.7,108.3L329.4,109.0L328.1,109.7L326.9,110.4L326.1,111.1L325.5,111.8L325.3,112.5L325.5,113.2L325.9,113.9L326.5,114.6L327.2,115.3L328.0,116.0L328.7,116.7L329.2,117.4L329.4,118.1L329.4,118.8L329.1,119.5L328.7,120.2L328.2,120.9L327.7,121.6L327.3,122.3L327.0,123.0L326.8,123.7L326.7,124.4L326.8,125.1L326.9,125.8L327.1,126.5L327.4,127.2L327.7,127.9L328.0,128.6L328.2,129.3L328.4,130.0L328.5,130.7L328.5,131.4L328.4,132.1L328.2,132.8L328.0,133.5L327.7,134.2L327.5,134.9L327.4,135.6L328.2,136.3L329.3,137.0L330.0,137.7L330.3,138.4L330.3,139.1L329.9,139.8L329.1,140.5L328.0,141.2L326.9,141.9L325.9,142.6L325.0,143.3L324.5,144.0L324.4,144.7L324.7,145.4L325.5,146.1L326.8,146.8L328.1,147.5L329.3,148.2L330.2,148.9L330.7,149.6L330.7,150.3L330.4,151.0L329.6,151.7L328.7,152.4L327.8,153.1L327.0,153.8L326.4,154.5L326.1,155.2L325.9,155.9L326.1,156.6L326.5,157.3L327.0,158.0L327.5,158.7L328.1,159.4L328.7,160.1L329.0,160.8L329.1,161.5L329.0,162.2L328.7,162.9L328.3,163.6L327.8,164.3L327.4,165.0L327.1,165.7L326.9,166.4L326.8,167.1L326.8,167.8L327.0,168.5L327.2,169.2L327.5,169.9L327.8,170.6L328.0,171.3L328.2,172.0L328.3,172.7L328.3,173.4L328.3,174.1L328.1,174.8L328.0,175.5L327.8,176.2L327.7,176.9L327.6,177.6L327.5,178.3L327.4,179.0L327.3,179.7L327.3,180.4L327.3,181.1L327.4,181.8L327.5,182.5L327.5,183.2L327.7,183.9L327.8,184.6L327.9,185.3L328.0,186.0L328.0,186.7L328.0,187.4L327.9,188.1L327.8,188.8L327.7,189.5L327.7,190.2L327.6,190.9L327.5,191.6L327.5,192.3L327.5,193.0L327.5,193.7L327.6,194.4L327.6,195.1L327.7,196.5L327.7,197.2L327.7,197.9L327.7,198.6L327.7,199.3L327.7,200.0L327.7,252.5M331.3,34.1L331.4,93.6L332.3,94.3L334.0,95.0L334.7,95.7L334.7,96.4L334.7,97.1L334.7,97.8L333.5,98.5L332.0,99.2L330.4,99.9L329.0,100.6L327.8,101.3L327.0,102.0L326.8,102.7L327.2,103.4L328.1,104.1L329.7,104.8L331.4,105.5L333.1,106.2L334.5,106.9L334.7,107.6L334.7,108.3L334.7,109.0L334.5,109.7L333.5,110.4L332.3,111.1L331.2,111.8L330.3,112.5L329.6,113.2L329.2,113.9L329.1,114.6L329.3,115.3L329.7,116.0L330.3,116.7L331.0,117.4L331.8,118.1L332.5,118.8L332.9,119.5L333.2,120.2L333.1,120.9L332.8,121.6L332.3,122.3L331.7,123.0L331.2,123.7L330.8,124.4L330.5,125.1L330.3,125.8L330.4,126.5L330.6,127.2L330.9,127.9L331.2,128.6L331.5,129.3L331.8,130.0L332.0,130.7L332.1,131.4L332.0,132.1L331.8,132.8L331.6,133.5L331.4,134.2L331.2,134.9L331.1,135.6L331.2,136.3L332.1,137.0L333.5,137.7L334.2,138.4L334.6,139.1L334.5,139.8L334.0,140.5L333.0,141.2L331.6,141.9L330.4,142.6L329.2,143.3L328.3,144.0L327.8,144.7L327.7,145.4L328.2,146.1L329.1,146.8L330.4,147.5L331.8,148.2L333.2,148.9L334.1,149.6L334.5,150.3L334.5,151.0L334.0,151.7L333.3,152.4L332.4,153.1L331.6,153.8L330.9,154.5L330.4,155.2L330.1,155.9L330.0,156.6L330.0,157.3L330.2,158.0L330.5,158.7L330.9,159.4L331.3,160.1L331.7,160.8L332.0,161.5L332.2,162.2L332.3,162.9L332.3,163.6L332.2,164.3L331.9,165.0L331.7,165.7L331.3,166.4L331.1,167.1L330.9,167.8L330.7,168.5L330.7,169.2L330.8,169.9L330.9,170.6L331.1,171.3L331.3,172.0L331.6,172.7L331.8,173.4L332.0,174.1L332.0,174.8L331.9,175.5L331.7,176.2L331.5,176.9L331.3,177.6L331.1,178.3L331.0,179.0L330.9,179.7L331.0,180.4L331.0,181.1L331.2,181.8L331.3,182.5L331.4,183.2L331.6,183.9L331.6,184.6L331.6,185.3L331.6,186.0L331.5,186.7L331.5,187.4L331.4,188.1L331.3,188.8L331.3,189.5L331.3,190.2L331.3,190.9L331.3,191.6L331.3,192.3L331.3,193.0L331.3,193.7L331.3,194.4L331.4,197.2L331.4,197.9L331.4,198.6L331.4,199.3L331.4,200.0L331.3,252.5M335.0,34.1L335.1,95.0L336.1,95.7L338.0,96.4L338.4,97.1L338.4,97.8L338.4,98.5L338.4,99.2L337.5,99.9L335.8,100.6L334.0,101.3L332.4,102.0L331.1,102.7L330.2,103.4L329.9,104.1L330.3,104.8L331.4,105.5L333.1,106.2L335.0,106.9L337.1,107.6L338.4,108.3L338.4,109.0L338.4,109.7L338.4,110.4L338.4,111.1L337.5,111.8L336.0,112.5L334.6,113.2L333.5,113.9L332.7,114.6L332.2,115.3L332.2,116.0L332.6,116.7L333.2,117.4L334.0,118.1L334.9,118.8L335.9,119.5L336.7,120.2L337.2,120.9L337.3,121.6L337.2,122.3L336.7,123.0L336.1,123.7L335.3,124.4L334.7,125.1L334.2,125.8L333.8,126.5L333.7,127.2L333.8,127.9L334.0,128.6L334.4,129.3L334.8,130.0L335.2,130.7L335.7,131.4L336.0,132.1L336.1,132.8L336.0,133.5L335.8,134.2L335.5,134.9L335.2,135.6L334.9,136.3L334.6,137.0L334.7,137.7L335.9,138.4L337.3,139.1L338.1,139.8L338.4,140.5L338.4,141.2L337.9,141.9L336.8,142.6L335.4,143.3L333.9,144.0L332.6,144.7L331.5,145.4L330.9,146.1L330.8,146.8L331.3,147.5L332.4,148.2L334.0,148.9L335.7,149.6L337.3,150.3L338.4,151.0L338.4,151.7L338.4,152.4L338.4,153.1L337.6,153.8L336.4,154.5L335.1,155.2L334.1,155.9L333.4,156.6L332.9,157.3L332.8,158.0L333.0,158.7L333.5,159.4L334.1,160.1L334.8,160.8L335.5,161.5L336.1,162.2L336.5,162.9L336.7,163.6L336.6,164.3L336.3,165.0L335.8,165.7L335.3,166.4L334.8,167.1L334.5,167.8L334.3,168.5L334.2,169.2L334.2,169.9L334.4,170.6L334.6,171.3L334.9,172.0L335.1,172.7L335.3,173.4L335.5,174.1L335.5,174.8L335.5,175.5L335.4,176.2L335.3,176.9L335.1,177.6L335.0,178.3L334.9,179.0L334.9,179.7L334.9,180.4L334.9,181.1L334.9,181.8L334.9,182.5L334.9,183.2L335.0,183.9L335.1,186.7L335.1,187.4L335.1,188.1L335.1,188.8L335.1,189.5L335.1,190.2L335.1,190.9L335.1,191.6L335.0,193.0L335.0,193.7L334.9,194.4L334.9,195.1L334.9,195.8L335.0,196.5L335.0,197.2L335.1,198.6L335.1,199.3L335.1,200.0L335.1,200.7L335.1,201.4L335.1,202.1L335.0,252.5M338.7,34.1L338.7,96.4L339.6,97.1L341.4,97.8L342.1,98.5L342.1,99.2L342.1,99.9L342.1,100.6L341.1,101.3L339.5,102.0L337.8,102.7L336.3,103.4L335.1,104.1L334.2,104.8L334.0,105.5L334.3,106.2L335.3,106.9L337.0,107.6L338.8,108.3L340.8,109.0L342.1,109.7L342.1,110.4L342.1,111.1L342.1,111.8L341.9,112.5L340.6,113.2L339.2,113.9L338.0,114.6L337.0,115.3L336.4,116.0L336.1,116.7L336.2,117.4L336.6,118.1L337.3,118.8L338.0,119.5L338.8,120.2L339.7,120.9L340.3,121.6L340.6,122.3L340.7,123.0L340.5,123.7L340.1,124.4L339.5,125.1L338.9,125.8L338.4,126.5L338.0,127.2L337.8,127.9L337.6,128.6L337.7,129.3L337.8,130.0L338.1,130.7L338.4,131.4L338.7,132.1L339.1,132.8L339.3,133.5L339.5,134.2L339.5,134.9L339.4,135.6L339.3,136.3L339.0,137.0L338.8,137.7L338.6,138.4L338.9,139.1L340.2,139.8L341.1,140.5L341.7,141.2L341.8,141.9L341.6,142.6L340.8,143.3L339.7,144.0L338.4,144.7L337.2,145.4L336.1,146.1L335.3,146.8L334.9,147.5L335.0,148.2L335.6,148.9L336.8,149.6L338.2,150.3L339.7,151.0L341.0,151.7L341.9,152.4L342.1,153.1L342.1,153.8L341.6,154.5L340.8,155.2L339.7,155.9L338.7,156.6L337.9,157.3L337.3,158.0L336.9,158.7L336.8,159.4L336.9,160.1L337.3,160.8L337.8,161.5L338.3,162.2L338.9,162.9L339.4,163.6L339.9,164.3L340.1,165.0L340.2,165.7L340.0,166.4L339.7,167.1L339.4,167.8L338.9,168.5L338.6,169.2L338.3,169.9L338.0,170.6L337.9,171.3L337.9,172.0L338.0,172.7L338.2,173.4L338.4,174.1L338.6,174.8L338.8,175.5L339.1,176.2L339.2,176.9L339.3,177.6L339.3,178.3L339.2,179.0L339.1,179.7L338.9,180.4L338.7,181.1L338.6,181.8L338.5,182.5L338.4,183.2L338.4,183.9L338.4,184.6L338.5,185.3L338.6,186.0L338.6,186.7L338.7,187.4L338.8,188.1L338.8,188.8L338.9,189.5L338.9,190.2L338.9,190.9L338.8,191.6L338.8,192.3L338.7,193.0L338.7,193.7L338.6,194.4L338.6,195.1L338.6,195.8L338.6,196.5L338.6,197.2L338.7,197.9L338.7,200.0L338.8,200.7L338.8,201.4L338.8,202.1L338.7,202.8L338.7,252.5M342.4,34.1L342.4,97.8L343.3,98.5L345.1,99.2L345.8,99.9L345.8,100.6L345.8,101.3L345.8,102.0L344.8,102.7L343.2,103.4L341.5,104.1L340.0,104.8L338.7,105.5L337.8,106.2L337.5,106.9L337.9,107.6L338.9,108.3L340.5,109.0L342.3,109.7L344.2,110.4L345.8,111.1L345.8,111.8L345.8,112.5L345.8,113.2L345.8,113.9L344.6,114.6L343.3,115.3L342.0,116.0L341.2,116.7L340.5,117.4L340.2,118.1L340.2,118.8L340.5,119.5L340.9,120.2L341.5,120.9L342.1,121.6L342.8,122.3L343.3,123.0L343.7,123.7L343.8,124.4L343.8,125.1L343.6,125.8L343.3,126.5L342.9,127.2L342.6,127.9L342.3,128.6L342.0,129.3L341.9,130.0L341.8,130.7L341.8,131.4L341.8,132.1L341.9,132.8L342.1,133.5L342.2,134.2L342.4,134.9L342.5,135.6L342.6,136.3L342.7,137.0L342.8,137.7L342.7,138.4L342.7,139.1L342.6,139.8L342.6,140.5L343.4,141.2L344.8,141.9L345.5,142.6L345.8,143.3L345.7,144.0L345.1,144.7L344.1,145.4L342.7,146.1L341.4,146.8L340.2,147.5L339.2,148.2L338.5,148.9L338.3,149.6L338.7,150.3L339.6,151.0L341.0,151.7L342.5,152.4L344.1,153.1L345.3,153.8L345.8,154.5L345.8,155.2L345.8,155.9L345.2,156.6L344.2,157.3L343.1,158.0L342.0,158.7L341.2,159.4L340.6,160.1L340.3,160.8L340.3,161.5L340.5,162.2L340.9,162.9L341.5,163.6L342.1,164.3L342.9,165.0L343.5,165.7L343.9,166.4L344.1,167.1L344.1,167.8L343.9,168.5L343.4,169.2L342.9,169.9L342.4,170.6L342.0,171.3L341.7,172.0L341.5,172.7L341.4,173.4L341.5,174.1L341.7,174.8L342.0,175.5L342.2,176.2L342.5,176.9L342.8,177.6L343.0,178.3L343.0,179.0L343.0,179.7L342.9,180.4L342.7,181.1L342.6,181.8L342.4,182.5L342.3,183.2L342.2,183.9L342.1,184.6L342.1,185.3L342.1,186.0L342.2,186.7L342.3,187.4L342.3,188.1L342.4,188.8L342.5,189.5L342.5,190.2L342.5,190.9L342.5,191.6L342.5,192.3L342.5,193.0L342.4,193.7L342.4,194.4L342.3,195.8L342.3,196.5L342.3,197.2L342.3,197.9L342.3,198.6L342.3,199.3L342.4,201.4L342.4,202.1L342.4,202.8L342.4,203.5L342.4,204.2L342.4,204.9L342.4,252.5M346.1,34.1L346.1,99.2L346.8,99.9L348.3,100.6L349.2,101.3L349.5,102.0L349.5,102.7L349.1,103.4L348.1,104.1L346.8,104.8L345.4,105.5L344.1,106.2L343.0,106.9L342.3,107.6L342.0,108.3L342.3,109.0L343.1,109.7L344.4,110.4L345.9,111.1L347.5,111.8L348.8,112.5L349.5,113.2L349.5,113.9L349.5,114.6L349.0,115.3L348.0,116.0L346.9,116.7L345.8,117.4L344.9,118.1L344.3,118.8L343.9,119.5L343.9,120.2L344.1,120.9L344.6,121.6L345.2,122.3L346.0,123.0L346.8,123.7L347.4,124.4L347.8,125.1L348.0,125.8L347.9,126.5L347.5,127.2L347.0,127.9L346.4,128.6L345.8,129.3L345.4,130.0L345.1,130.7L344.9,131.4L344.9,132.1L345.1,132.8L345.4,133.5L345.7,134.2L346.1,134.9L346.5,135.6L346.7,136.3L346.9,137.0L347.0,137.7L346.9,138.4L346.7,139.1L346.5,139.8L346.3,140.5L346.0,141.2L346.2,141.9L347.2,142.6L348.0,143.3L348.4,144.0L348.5,144.7L348.2,145.4L347.6,146.1L346.7,146.8L345.6,147.5L344.7,148.2L343.9,148.9L343.3,149.6L343.1,150.3L343.3,151.0L343.9,151.7L344.9,152.4L346.1,153.1L347.3,153.8L348.3,154.5L348.8,155.2L348.9,155.9L348.6,156.6L347.9,157.3L347.1,158.0L346.2,158.7L345.5,159.4L345.0,160.1L344.7,160.8L344.7,161.5L344.8,162.2L345.1,162.9L345.5,163.6L345.9,164.3L346.3,165.0L346.7,165.7L347.0,166.4L347.0,167.1L347.0,167.8L346.8,168.5L346.6,169.2L346.3,169.9L346.0,170.6L345.8,171.3L345.7,172.0L345.6,172.7L345.5,173.4L345.6,174.1L345.6,174.8L345.7,175.5L345.9,176.2L346.1,176.9L346.2,177.6L346.4,178.3L346.5,179.0L346.6,179.7L346.5,180.4L346.5,181.1L346.4,181.8L346.2,182.5L346.0,183.2L345.9,183.9L345.8,184.6L345.8,185.3L345.7,186.0L345.8,186.7L345.8,187.4L345.9,188.1L346.0,188.8L346.1,189.5L346.2,190.2L346.3,190.9L346.3,191.6L346.3,192.3L346.2,193.0L346.2,193.7L346.1,194.4L346.1,195.1L346.0,195.8L346.0,196.5L346.0,197.2L346.0,197.9L346.0,198.6L346.0,199.3L346.0,200.0L346.1,202.8L346.1,203.5L346.1,204.2L346.1,204.9L346.1,252.5" stroke="#1a1a1a" stroke-width="0.75" fill="none"/>
<text x="337.3" y="57.2" font-family="Liberation Serif, serif" font-size="20" font-weight="bold" text-anchor="middle" fill="#000" >(b)</text>
<rect x="364.4" y="19.3" width="27.5" height="13" fill="#f3f3f3"/>
<path d="M364.4,252.2 L364.4,19.3 L543.6,19.3" fill="none" stroke="#989898" stroke-width="1"/>
<line x1="364.4" y1="32.3" x2="543.6" y2="32.3" stroke="#808080" stroke-width="0.9"/>
<line x1="391.9" y1="19.3" x2="391.9" y2="251.8" stroke="#808080" stroke-width="0.9"/>
<text x="365.6" y="24.6" font-family="Liberation Sans, sans-serif" font-size="4.5" font-weight="normal" text-anchor="start" fill="#4a4a4a" textLength="18.5" lengthAdjust="spacingAndGlyphs">TRCIDX</text>
<text x="365.6" y="29.4" font-family="Liberation Sans, sans-serif" font-size="4.5" font-weight="normal" text-anchor="start" fill="#4a4a4a" textLength="18.5" lengthAdjust="spacingAndGlyphs">TRCIDX</text>
<text x="403" y="22.8" font-family="Liberation Serif, serif" font-size="3.8" font-weight="bold" text-anchor="middle" fill="#333" >98</text>
<text x="403" y="28.2" font-family="Liberation Serif, serif" font-size="3.8" font-weight="bold" text-anchor="middle" fill="#333" >98</text>
<line x1="403" y1="31" x2="403" y2="32.3" stroke="#555" stroke-width="0.6"/>
<text x="425.1" y="22.8" font-family="Liberation Serif, serif" font-size="3.8" font-weight="bold" text-anchor="middle" fill="#333" >294</text>
<text x="425.1" y="28.2" font-family="Liberation Serif, serif" font-size="3.8" font-weight="bold" text-anchor="middle" fill="#333" >294</text>
<line x1="425.1" y1="31" x2="425.1" y2="32.3" stroke="#555" stroke-width="0.6"/>
<text x="447.2" y="22.8" font-family="Liberation Serif, serif" font-size="3.8" font-weight="bold" text-anchor="middle" fill="#333" >490</text>
<text x="447.2" y="28.2" font-family="Liberation Serif, serif" font-size="3.8" font-weight="bold" text-anchor="middle" fill="#333" >490</text>
<line x1="447.2" y1="31" x2="447.2" y2="32.3" stroke="#555" stroke-width="0.6"/>
<text x="469.3" y="22.8" font-family="Liberation Serif, serif" font-size="3.8" font-weight="bold" text-anchor="middle" fill="#333" >686</text>
<text x="469.3" y="28.2" font-family="Liberation Serif, serif" font-size="3.8" font-weight="bold" text-anchor="middle" fill="#333" >686</text>
<line x1="469.3" y1="31" x2="469.3" y2="32.3" stroke="#555" stroke-width="0.6"/>
<text x="491.4" y="22.8" font-family="Liberation Serif, serif" font-size="3.8" font-weight="bold" text-anchor="middle" fill="#333" >882</text>
<text x="491.4" y="28.2" font-family="Liberation Serif, serif" font-size="3.8" font-weight="bold" text-anchor="middle" fill="#333" >882</text>
<line x1="491.4" y1="31" x2="491.4" y2="32.3" stroke="#555" stroke-width="0.6"/>
<text x="513.5" y="22.8" font-family="Liberation Serif, serif" font-size="3.8" font-weight="bold" text-anchor="middle" fill="#333" >1078</text>
<text x="513.5" y="28.2" font-family="Liberation Serif, serif" font-size="3.8" font-weight="bold" text-anchor="middle" fill="#333" >1078</text>
<line x1="513.5" y1="31" x2="513.5" y2="32.3" stroke="#555" stroke-width="0.6"/>
<text x="535.6" y="22.8" font-family="Liberation Serif, serif" font-size="3.8" font-weight="bold" text-anchor="middle" fill="#333" >1274</text>
<text x="535.6" y="28.2" font-family="Liberation Serif, serif" font-size="3.8" font-weight="bold" text-anchor="middle" fill="#333" >1274</text>
<line x1="535.6" y1="31" x2="535.6" y2="32.3" stroke="#555" stroke-width="0.6"/>
<text x="388.9" y="41.2" font-family="Liberation Serif, serif" font-size="4.2" font-weight="bold" text-anchor="end" fill="#333" >200</text>
<line x1="390.7" y1="39.6" x2="391.9" y2="39.6" stroke="#555" stroke-width="0.5"/>
<text x="388.9" y="48.48" font-family="Liberation Serif, serif" font-size="4.2" font-weight="bold" text-anchor="end" fill="#333" >400</text>
<line x1="390.7" y1="46.88" x2="391.9" y2="46.88" stroke="#555" stroke-width="0.5"/>
<text x="388.9" y="55.76" font-family="Liberation Serif, serif" font-size="4.2" font-weight="bold" text-anchor="end" fill="#333" >600</text>
<line x1="390.7" y1="54.16" x2="391.9" y2="54.16" stroke="#555" stroke-width="0.5"/>
<text x="388.9" y="63.04" font-family="Liberation Serif, serif" font-size="4.2" font-weight="bold" text-anchor="end" fill="#333" >800</text>
<line x1="390.7" y1="61.44" x2="391.9" y2="61.44" stroke="#555" stroke-width="0.5"/>
<text x="388.9" y="70.32" font-family="Liberation Serif, serif" font-size="4.2" font-weight="bold" text-anchor="end" fill="#333" >1000</text>
<line x1="390.7" y1="68.72" x2="391.9" y2="68.72" stroke="#555" stroke-width="0.5"/>
<text x="388.9" y="77.6" font-family="Liberation Serif, serif" font-size="4.2" font-weight="bold" text-anchor="end" fill="#333" >1200</text>
<line x1="390.7" y1="76" x2="391.9" y2="76" stroke="#555" stroke-width="0.5"/>
<text x="388.9" y="84.88" font-family="Liberation Serif, serif" font-size="4.2" font-weight="bold" text-anchor="end" fill="#333" >1400</text>
<line x1="390.7" y1="83.28" x2="391.9" y2="83.28" stroke="#555" stroke-width="0.5"/>
<text x="388.9" y="92.16" font-family="Liberation Serif, serif" font-size="4.2" font-weight="bold" text-anchor="end" fill="#333" >1600</text>
<line x1="390.7" y1="90.56" x2="391.9" y2="90.56" stroke="#555" stroke-width="0.5"/>
<text x="388.9" y="99.44" font-family="Liberation Serif, serif" font-size="4.2" font-weight="bold" text-anchor="end" fill="#333" >1800</text>
<line x1="390.7" y1="97.84" x2="391.9" y2="97.84" stroke="#555" stroke-width="0.5"/>
<text x="388.9" y="106.72" font-family="Liberation Serif, serif" font-size="4.2" font-weight="bold" text-anchor="end" fill="#333" >2000</text>
<line x1="390.7" y1="105.12" x2="391.9" y2="105.12" stroke="#555" stroke-width="0.5"/>
<text x="388.9" y="114" font-family="Liberation Serif, serif" font-size="4.2" font-weight="bold" text-anchor="end" fill="#333" >2200</text>
<line x1="390.7" y1="112.4" x2="391.9" y2="112.4" stroke="#555" stroke-width="0.5"/>
<text x="388.9" y="121.28" font-family="Liberation Serif, serif" font-size="4.2" font-weight="bold" text-anchor="end" fill="#333" >2400</text>
<line x1="390.7" y1="119.68" x2="391.9" y2="119.68" stroke="#555" stroke-width="0.5"/>
<text x="388.9" y="128.56" font-family="Liberation Serif, serif" font-size="4.2" font-weight="bold" text-anchor="end" fill="#333" >2600</text>
<line x1="390.7" y1="126.96" x2="391.9" y2="126.96" stroke="#555" stroke-width="0.5"/>
<text x="388.9" y="135.84" font-family="Liberation Serif, serif" font-size="4.2" font-weight="bold" text-anchor="end" fill="#333" >2800</text>
<line x1="390.7" y1="134.24" x2="391.9" y2="134.24" stroke="#555" stroke-width="0.5"/>
<text x="388.9" y="143.12" font-family="Liberation Serif, serif" font-size="4.2" font-weight="bold" text-anchor="end" fill="#333" >3000</text>
<line x1="390.7" y1="141.52" x2="391.9" y2="141.52" stroke="#555" stroke-width="0.5"/>
<text x="388.9" y="150.4" font-family="Liberation Serif, serif" font-size="4.2" font-weight="bold" text-anchor="end" fill="#333" >3200</text>
<line x1="390.7" y1="148.8" x2="391.9" y2="148.8" stroke="#555" stroke-width="0.5"/>
<text x="388.9" y="157.68" font-family="Liberation Serif, serif" font-size="4.2" font-weight="bold" text-anchor="end" fill="#333" >3400</text>
<line x1="390.7" y1="156.08" x2="391.9" y2="156.08" stroke="#555" stroke-width="0.5"/>
<text x="388.9" y="164.96" font-family="Liberation Serif, serif" font-size="4.2" font-weight="bold" text-anchor="end" fill="#333" >3600</text>
<line x1="390.7" y1="163.36" x2="391.9" y2="163.36" stroke="#555" stroke-width="0.5"/>
<text x="388.9" y="172.24" font-family="Liberation Serif, serif" font-size="4.2" font-weight="bold" text-anchor="end" fill="#333" >3800</text>
<line x1="390.7" y1="170.64" x2="391.9" y2="170.64" stroke="#555" stroke-width="0.5"/>
<text x="388.9" y="179.52" font-family="Liberation Serif, serif" font-size="4.2" font-weight="bold" text-anchor="end" fill="#333" >4000</text>
<line x1="390.7" y1="177.92" x2="391.9" y2="177.92" stroke="#555" stroke-width="0.5"/>
<text x="388.9" y="186.8" font-family="Liberation Serif, serif" font-size="4.2" font-weight="bold" text-anchor="end" fill="#333" >4200</text>
<line x1="390.7" y1="185.2" x2="391.9" y2="185.2" stroke="#555" stroke-width="0.5"/>
<text x="388.9" y="194.08" font-family="Liberation Serif, serif" font-size="4.2" font-weight="bold" text-anchor="end" fill="#333" >4400</text>
<line x1="390.7" y1="192.48" x2="391.9" y2="192.48" stroke="#555" stroke-width="0.5"/>
<text x="388.9" y="201.36" font-family="Liberation Serif, serif" font-size="4.2" font-weight="bold" text-anchor="end" fill="#333" >4600</text>
<line x1="390.7" y1="199.76" x2="391.9" y2="199.76" stroke="#555" stroke-width="0.5"/>
<text x="388.9" y="208.64" font-family="Liberation Serif, serif" font-size="4.2" font-weight="bold" text-anchor="end" fill="#333" >4800</text>
<line x1="390.7" y1="207.04" x2="391.9" y2="207.04" stroke="#555" stroke-width="0.5"/>
<text x="388.9" y="215.92" font-family="Liberation Serif, serif" font-size="4.2" font-weight="bold" text-anchor="end" fill="#333" >5000</text>
<line x1="390.7" y1="214.32" x2="391.9" y2="214.32" stroke="#555" stroke-width="0.5"/>
<text x="388.9" y="223.2" font-family="Liberation Serif, serif" font-size="4.2" font-weight="bold" text-anchor="end" fill="#333" >5200</text>
<line x1="390.7" y1="221.6" x2="391.9" y2="221.6" stroke="#555" stroke-width="0.5"/>
<text x="388.9" y="230.48" font-family="Liberation Serif, serif" font-size="4.2" font-weight="bold" text-anchor="end" fill="#333" >5400</text>
<line x1="390.7" y1="228.88" x2="391.9" y2="228.88" stroke="#555" stroke-width="0.5"/>
<text x="388.9" y="237.76" font-family="Liberation Serif, serif" font-size="4.2" font-weight="bold" text-anchor="end" fill="#333" >5600</text>
<line x1="390.7" y1="236.16" x2="391.9" y2="236.16" stroke="#555" stroke-width="0.5"/>
<text x="388.9" y="245.04" font-family="Liberation Serif, serif" font-size="4.2" font-weight="bold" text-anchor="end" fill="#333" >5800</text>
<line x1="390.7" y1="243.44" x2="391.9" y2="243.44" stroke="#555" stroke-width="0.5"/>
<text x="388.9" y="252.32" font-family="Liberation Serif, serif" font-size="4.2" font-weight="bold" text-anchor="end" fill="#333" >6000</text>
<line x1="390.7" y1="250.72" x2="391.9" y2="250.72" stroke="#555" stroke-width="0.5"/>
<text x="459.8" y="16.4" font-family="Liberation Serif, serif" font-size="8.9" font-weight="bold" text-anchor="middle" fill="#111" >Depth(m)</text>
<text transform="translate(372.9,141.8) rotate(-90)" font-family="Liberation Serif, serif" font-size="8.7" font-weight="bold" text-anchor="middle" fill="#111">Time(ms)</text>
<clipPath id="cc"><rect x="392.1" y="32.6" width="151.9" height="219.2"/></clipPath>
<pattern id="pc" x="392.1" y="32.6" width="6" height="2.6" patternUnits="userSpaceOnUse" patternTransform="rotate(6)"><rect width="6" height="2.6" fill="#8e8e8e"/><rect width="6" height="1.1" fill="#989898"/><rect y="1.3" width="6" height="0.9" fill="#858585"/></pattern>
<pattern id="pc2" x="392.1" y="32.6" width="3.2" height="3.2" patternUnits="userSpaceOnUse" patternTransform="rotate(-40)"><rect width="1.3" height="3.2" fill="#ffffff" opacity="0.07"/><rect x="1.6" width="1.3" height="3.2" fill="#000" opacity="0.06"/></pattern>
<pattern id="dc1" x="392.8" y="32.6" width="3.4" height="3.6" patternUnits="userSpaceOnUse"><rect width="3.4" height="3.6" fill="#8d8d8d"/><ellipse cx="1.7" cy="0.9" rx="1.4" ry="0.85" fill="#0a0a0a"/><ellipse cx="1.7" cy="2.7" rx="1.4" ry="0.85" fill="#f6f6f6"/></pattern>
<pattern id="dc2" x="398.0" y="34.2" width="3.4" height="3.6" patternUnits="userSpaceOnUse"><rect width="3.4" height="3.6" fill="#8d8d8d"/><ellipse cx="1.7" cy="0.9" rx="1.4" ry="0.85" fill="#0a0a0a"/><ellipse cx="1.7" cy="2.7" rx="1.4" ry="0.85" fill="#f6f6f6"/></pattern>
<rect x="392.1" y="32.6" width="151.9" height="219.2" fill="url(#pc)"/>
<rect x="392.1" y="32.6" width="151.9" height="219.2" fill="url(#pc2)"/>
<linearGradient id="fadeH" gradientUnits="userSpaceOnUse" x1="400" y1="0" x2="480" y2="0"><stop offset="0" stop-color="#fff" stop-opacity="0.7"/><stop offset="1" stop-color="#fff" stop-opacity="0"/></linearGradient>
<linearGradient id="fadeHk" gradientUnits="userSpaceOnUse" x1="400" y1="0" x2="480" y2="0"><stop offset="0" stop-color="#000" stop-opacity="0.45"/><stop offset="1" stop-color="#000" stop-opacity="0"/></linearGradient>
<g clip-path="url(#cc)">
<rect x="392.8" y="32.6" width="3.4" height="219.2" fill="url(#dc1)"/>
<rect x="398.0" y="32.6" width="3.4" height="219.2" fill="url(#dc2)"/>
<circle cx="401.5" cy="32.6" r="0.82" fill="#fff" opacity="0.6"/>
<circle cx="391.9" cy="35.01" r="0.81" fill="#fff" opacity="0.6"/>
<circle cx="391.9" cy="36.39" r="0.55" fill="#fff" opacity="0.6"/>
<circle cx="396.5" cy="38.09" r="0.54" fill="#000" opacity="0.6"/>
<circle cx="396.5" cy="39.46" r="0.57" fill="#000" opacity="0.6"/>
<circle cx="403" cy="41.77" r="0.82" fill="#000" opacity="0.6"/>
<circle cx="403" cy="42.97" r="0.5" fill="#000" opacity="0.6"/>
<circle cx="396.5" cy="45.28" r="0.88" fill="#fff" opacity="0.6"/>
<circle cx="396.5" cy="46.53" r="0.88" fill="#000" opacity="0.6"/>
<circle cx="396.5" cy="48.34" r="0.89" fill="#000" opacity="0.6"/>
<circle cx="403" cy="49.63" r="0.64" fill="#000" opacity="0.6"/>
<circle cx="396.5" cy="50.88" r="0.63" fill="#000" opacity="0.6"/>
<circle cx="391.9" cy="53.11" r="0.78" fill="#fff" opacity="0.6"/>
<circle cx="401.5" cy="54.21" r="0.69" fill="#fff" opacity="0.6"/>
<circle cx="403" cy="55.68" r="0.57" fill="#000" opacity="0.6"/>
<circle cx="391.9" cy="57.07" r="0.64" fill="#fff" opacity="0.6"/>
<circle cx="403" cy="58.67" r="0.73" fill="#000" opacity="0.6"/>
<circle cx="391.9" cy="59.69" r="0.75" fill="#fff" opacity="0.6"/>
<circle cx="391.9" cy="62.12" r="0.87" fill="#fff" opacity="0.6"/>
<circle cx="401.5" cy="64.53" r="0.86" fill="#fff" opacity="0.6"/>
<circle cx="403" cy="65.91" r="0.8" fill="#000" opacity="0.6"/>
<circle cx="401.5" cy="68.1" r="0.88" fill="#000" opacity="0.6"/>
<circle cx="401.5" cy="69.24" r="0.65" fill="#fff" opacity="0.6"/>
<circle cx="401.5" cy="70.46" r="0.72" fill="#fff" opacity="0.6"/>
<circle cx="401.5" cy="71.93" r="0.82" fill="#000" opacity="0.6"/>
<circle cx="401.5" cy="73.87" r="0.56" fill="#fff" opacity="0.6"/>
<circle cx="403" cy="74.94" r="0.8" fill="#000" opacity="0.6"/>
<circle cx="401.5" cy="76.46" r="0.67" fill="#000" opacity="0.6"/>
<circle cx="391.9" cy="77.54" r="0.63" fill="#fff" opacity="0.6"/>
<circle cx="396.5" cy="78.85" r="0.82" fill="#fff" opacity="0.6"/>
<circle cx="403" cy="80.01" r="0.52" fill="#000" opacity="0.6"/>
<circle cx="396.5" cy="81.64" r="0.9" fill="#000" opacity="0.6"/>
<circle cx="403" cy="83.92" r="0.78" fill="#fff" opacity="0.6"/>
<circle cx="401.5" cy="85.4" r="0.66" fill="#000" opacity="0.6"/>
<circle cx="403" cy="86.62" r="0.71" fill="#fff" opacity="0.6"/>
<circle cx="403" cy="87.89" r="0.57" fill="#fff" opacity="0.6"/>
<circle cx="401.5" cy="89.63" r="0.82" fill="#000" opacity="0.6"/>
<circle cx="391.9" cy="91.16" r="0.65" fill="#fff" opacity="0.6"/>
<circle cx="401.5" cy="93.22" r="0.61" fill="#fff" opacity="0.6"/>
<circle cx="401.5" cy="95.69" r="0.64" fill="#fff" opacity="0.6"/>
<circle cx="391.9" cy="96.96" r="0.81" fill="#000" opacity="0.6"/>
<circle cx="401.5" cy="98.44" r="0.83" fill="#000" opacity="0.6"/>
<circle cx="401.5" cy="100.42" r="0.76" fill="#000" opacity="0.6"/>
<circle cx="403" cy="102.52" r="0.84" fill="#000" opacity="0.6"/>
<circle cx="403" cy="104.83" r="0.88" fill="#fff" opacity="0.6"/>
<circle cx="396.5" cy="106.6" r="0.64" fill="#000" opacity="0.6"/>
<circle cx="401.5" cy="108.89" r="0.79" fill="#fff" opacity="0.6"/>
<circle cx="396.5" cy="110.98" r="0.87" fill="#fff" opacity="0.6"/>
<circle cx="403" cy="112.76" r="0.72" fill="#000" opacity="0.6"/>
<circle cx="401.5" cy="115.06" r="0.51" fill="#fff" opacity="0.6"/>
<circle cx="403" cy="116.3" r="0.57" fill="#fff" opacity="0.6"/>
<circle cx="396.5" cy="118.44" r="0.52" fill="#fff" opacity="0.6"/>
<circle cx="396.5" cy="120.14" r="0.86" fill="#000" opacity="0.6"/>
<circle cx="396.5" cy="121.31" r="0.72" fill="#000" opacity="0.6"/>
<circle cx="401.5" cy="122.93" r="0.74" fill="#000" opacity="0.6"/>
<circle cx="396.5" cy="124.82" r="0.65" fill="#fff" opacity="0.6"/>
<circle cx="401.5" cy="126.34" r="0.85" fill="#fff" opacity="0.6"/>
<circle cx="401.5" cy="128.38" r="0.72" fill="#fff" opacity="0.6"/>
<circle cx="401.5" cy="129.83" r="0.64" fill="#fff" opacity="0.6"/>
<circle cx="401.5" cy="131.7" r="0.67" fill="#fff" opacity="0.6"/>
<circle cx="401.5" cy="133.92" r="0.56" fill="#000" opacity="0.6"/>
<circle cx="403" cy="135.49" r="0.89" fill="#fff" opacity="0.6"/>
<circle cx="401.5" cy="137.41" r="0.76" fill="#fff" opacity="0.6"/>
<circle cx="401.5" cy="138.98" r="0.75" fill="#fff" opacity="0.6"/>
<circle cx="403" cy="140.19" r="0.89" fill="#000" opacity="0.6"/>
<circle cx="403" cy="141.93" r="0.65" fill="#fff" opacity="0.6"/>
<circle cx="396.5" cy="144.37" r="0.6" fill="#fff" opacity="0.6"/>
<circle cx="403" cy="146.84" r="0.51" fill="#000" opacity="0.6"/>
<circle cx="401.5" cy="149.26" r="0.61" fill="#000" opacity="0.6"/>
<circle cx="391.9" cy="150.98" r="0.88" fill="#fff" opacity="0.6"/>
<circle cx="391.9" cy="152.34" r="0.83" fill="#fff" opacity="0.6"/>
<circle cx="401.5" cy="153.36" r="0.69" fill="#000" opacity="0.6"/>
<circle cx="403" cy="154.42" r="0.56" fill="#000" opacity="0.6"/>
<circle cx="401.5" cy="156.9" r="0.9" fill="#000" opacity="0.6"/>
<circle cx="391.9" cy="158.68" r="0.55" fill="#000" opacity="0.6"/>
<circle cx="401.5" cy="160.1" r="0.79" fill="#fff" opacity="0.6"/>
<circle cx="401.5" cy="161.14" r="0.8" fill="#000" opacity="0.6"/>
<circle cx="391.9" cy="163.03" r="0.72" fill="#000" opacity="0.6"/>
<circle cx="391.9" cy="165.06" r="0.72" fill="#fff" opacity="0.6"/>
<circle cx="403" cy="166.08" r="0.78" fill="#fff" opacity="0.6"/>
<circle cx="403" cy="168.51" r="0.84" fill="#fff" opacity="0.6"/>
<circle cx="396.5" cy="170.22" r="0.69" fill="#fff" opacity="0.6"/>
<circle cx="401.5" cy="172.36" r="0.78" fill="#fff" opacity="0.6"/>
<circle cx="401.5" cy="174.01" r="0.69" fill="#fff" opacity="0.6"/>
<circle cx="396.5" cy="175.48" r="0.72" fill="#000" opacity="0.6"/>
<circle cx="401.5" cy="177.22" r="0.67" fill="#fff" opacity="0.6"/>
<circle cx="391.9" cy="179.04" r="0.59" fill="#000" opacity="0.6"/>
<circle cx="391.9" cy="181.26" r="0.51" fill="#fff" opacity="0.6"/>
<circle cx="391.9" cy="183.35" r="0.78" fill="#fff" opacity="0.6"/>
<circle cx="391.9" cy="184.42" r="0.76" fill="#000" opacity="0.6"/>
<circle cx="396.5" cy="186.85" r="0.78" fill="#fff" opacity="0.6"/>
<circle cx="396.5" cy="188.51" r="0.67" fill="#fff" opacity="0.6"/>
<circle cx="396.5" cy="189.75" r="0.54" fill="#000" opacity="0.6"/>
<circle cx="391.9" cy="191.32" r="0.73" fill="#000" opacity="0.6"/>
<circle cx="403" cy="192.5" r="0.55" fill="#fff" opacity="0.6"/>
<circle cx="401.5" cy="194.14" r="0.7" fill="#fff" opacity="0.6"/>
<circle cx="401.5" cy="195.67" r="0.56" fill="#fff" opacity="0.6"/>
<circle cx="401.5" cy="197.12" r="0.72" fill="#fff" opacity="0.6"/>
<circle cx="401.5" cy="199.05" r="0.59" fill="#000" opacity="0.6"/>
<circle cx="401.5" cy="201.3" r="0.55" fill="#fff" opacity="0.6"/>
<circle cx="401.5" cy="202.65" r="0.66" fill="#000" opacity="0.6"/>
<circle cx="391.9" cy="203.84" r="0.53" fill="#fff" opacity="0.6"/>
<circle cx="391.9" cy="205.85" r="0.7" fill="#fff" opacity="0.6"/>
<circle cx="403" cy="207.53" r="0.69" fill="#fff" opacity="0.6"/>
<circle cx="391.9" cy="209.01" r="0.65" fill="#fff" opacity="0.6"/>
<circle cx="403" cy="211.28" r="0.59" fill="#fff" opacity="0.6"/>
<circle cx="403" cy="212.46" r="0.56" fill="#fff" opacity="0.6"/>
<circle cx="401.5" cy="214.39" r="0.62" fill="#fff" opacity="0.6"/>
<circle cx="401.5" cy="216.79" r="0.65" fill="#fff" opacity="0.6"/>
<circle cx="401.5" cy="218.87" r="0.82" fill="#fff" opacity="0.6"/>
<circle cx="401.5" cy="220.52" r="0.74" fill="#fff" opacity="0.6"/>
<circle cx="396.5" cy="222.38" r="0.54" fill="#000" opacity="0.6"/>
<circle cx="396.5" cy="223.43" r="0.7" fill="#000" opacity="0.6"/>
<circle cx="401.5" cy="225.84" r="0.69" fill="#000" opacity="0.6"/>
<circle cx="403" cy="228.17" r="0.68" fill="#000" opacity="0.6"/>
<circle cx="396.5" cy="229.46" r="0.85" fill="#000" opacity="0.6"/>
<circle cx="403" cy="231.77" r="0.6" fill="#000" opacity="0.6"/>
<circle cx="396.5" cy="233.18" r="0.77" fill="#fff" opacity="0.6"/>
<circle cx="391.9" cy="234.23" r="0.8" fill="#000" opacity="0.6"/>
<circle cx="391.9" cy="235.71" r="0.77" fill="#fff" opacity="0.6"/>
<circle cx="396.5" cy="237.41" r="0.77" fill="#000" opacity="0.6"/>
<circle cx="396.5" cy="238.85" r="0.57" fill="#fff" opacity="0.6"/>
<circle cx="391.9" cy="240.15" r="0.76" fill="#fff" opacity="0.6"/>
<circle cx="401.5" cy="242.08" r="0.57" fill="#fff" opacity="0.6"/>
<circle cx="391.9" cy="243.62" r="0.79" fill="#fff" opacity="0.6"/>
<circle cx="396.5" cy="244.86" r="0.58" fill="#000" opacity="0.6"/>
<circle cx="403" cy="245.93" r="0.61" fill="#fff" opacity="0.6"/>
<circle cx="403" cy="247.62" r="0.66" fill="#fff" opacity="0.6"/>
<circle cx="401.5" cy="248.69" r="0.79" fill="#fff" opacity="0.6"/>
<circle cx="403" cy="250.05" r="0.69" fill="#000" opacity="0.6"/>
<path d="M402,96.8 L480,95.8" stroke="url(#fadeHk)" stroke-width="0.9" opacity="0.6"/>
<path d="M402,98.6 L480,97.6" stroke="url(#fadeH)" stroke-width="0.9" opacity="0.6"/>
<path d="M402,100.4 L480,99.4" stroke="url(#fadeHk)" stroke-width="0.9" opacity="0.6"/>
<path d="M402,104 L480,103" stroke="url(#fadeH)" stroke-width="0.9" opacity="0.6"/>
<path d="M402,106 L480,105" stroke="url(#fadeHk)" stroke-width="0.9" opacity="0.6"/>
<path d="M402,111 L480,110" stroke="url(#fadeH)" stroke-width="0.9" opacity="0.6"/>
<line x1="503.5" y1="32.6" x2="503.5" y2="251.8" stroke="#a8a8a8" stroke-width="0.8" opacity="0.35"/>
<line x1="512" y1="32.6" x2="512" y2="251.8" stroke="#a8a8a8" stroke-width="0.8" opacity="0.25"/>
</g>
<text x="517" y="57" font-family="Liberation Serif, serif" font-size="20" font-weight="bold" text-anchor="middle" fill="#000" >(c)</text>
<rect x="8.4" y="257.3" width="257.6" height="204.5" fill="#f0f0f0"/>
<path d="M8.4,461.8 L8.4,257.3 L266,257.3 L266,461.8" fill="none" stroke="#efb9a8" stroke-width="0.8"/>
<rect x="8.8" y="257.7" width="256.8" height="8.6" fill="#ffffff"/>
<rect x="11.3" y="259.7" width="6" height="2.3" fill="#2a35a8"/>
<rect x="11.3" y="262.5" width="6" height="1.2" fill="#6c7ad8"/>
<text x="19.2" y="263.5" font-family="Liberation Sans, sans-serif" font-size="4.9" font-weight="normal" text-anchor="start" fill="#333" >Spectrum</text>
<line x1="221.5" y1="261.9" x2="224.5" y2="261.9" stroke="#444" stroke-width="0.5"/>
<rect x="238" y="260.4" width="3" height="3" fill="none" stroke="#444" stroke-width="0.5"/>
<path d="M256,260.3 l3,3 M259,260.3 l-3,3" stroke="#444" stroke-width="0.5"/>
<rect x="10.2" y="269.6" width="119.8" height="18.8" fill="none" stroke="#d0d0d0" stroke-width="0.5"/>
<rect x="11.7" y="266.8" width="17.5" height="4" fill="#f0f0f0"/>
<text x="12.2" y="269.9" font-family="Liberation Sans, sans-serif" font-size="4.3" font-weight="normal" text-anchor="start" fill="#222" >Selection</text>
<rect x="10.9" y="272.6" width="29.7" height="3.6" fill="#ffffff" stroke="#7c7c7c" stroke-width="0.65"/>
<rect x="41.2" y="272.6" width="31.3" height="3.6" fill="#ffffff" stroke="#7c7c7c" stroke-width="0.65"/>
<rect x="73.1" y="272.6" width="30.4" height="3.6" fill="#ffffff" stroke="#7c7c7c" stroke-width="0.65"/>
<rect x="10.9" y="276.8" width="29.7" height="4.8" fill="#ececec" stroke="#7c7c7c" stroke-width="0.65"/>
<rect x="41.2" y="276.8" width="31.3" height="4.8" fill="#ffffff" stroke="#7c7c7c" stroke-width="0.65"/>
<rect x="73.1" y="276.8" width="30.4" height="4.8" fill="#ffffff" stroke="#7c7c7c" stroke-width="0.65"/>
<rect x="10.9" y="282.2" width="29.7" height="4" fill="#ececec" stroke="#7c7c7c" stroke-width="0.65"/>
<rect x="41.2" y="282.2" width="31.3" height="4" fill="#ffffff" stroke="#7c7c7c" stroke-width="0.65"/>
<rect x="73.1" y="282.2" width="30.4" height="4" fill="#ffffff" stroke="#7c7c7c" stroke-width="0.65"/>
<text x="42.1" y="275.6" font-family="Liberation Sans, sans-serif" font-size="3.6" font-weight="normal" text-anchor="start" fill="#333" >Min</text>
<text x="74" y="275.6" font-family="Liberation Sans, sans-serif" font-size="3.6" font-weight="normal" text-anchor="start" fill="#333" >Max</text>
<text x="11.8" y="280.4" font-family="Liberation Sans, sans-serif" font-size="3.6" font-weight="normal" text-anchor="start" fill="#222" >Time</text>
<text x="11.8" y="285.5" font-family="Liberation Sans, sans-serif" font-size="3.6" font-weight="normal" text-anchor="start" fill="#222" >Trace #</text>
<text x="42.1" y="280.4" font-family="Liberation Sans, sans-serif" font-size="3.6" font-weight="normal" text-anchor="start" fill="#333" >171</text>
<text x="74" y="280.4" font-family="Liberation Sans, sans-serif" font-size="3.6" font-weight="normal" text-anchor="start" fill="#333" >2254</text>
<text x="42.1" y="285.5" font-family="Liberation Sans, sans-serif" font-size="3.6" font-weight="normal" text-anchor="start" fill="#333" >27</text>
<text x="74" y="285.5" font-family="Liberation Sans, sans-serif" font-size="3.6" font-weight="normal" text-anchor="start" fill="#333" >692</text>
<rect x="117.4" y="272.5" width="8.5" height="6" fill="#e9e9e9" stroke="#bdbdbd" stroke-width="0.5"/>
<rect x="119.9" y="273.7" width="3.6" height="3.4" fill="none" stroke="#d33" stroke-width="0.7"/>
<rect x="119.2" y="273.1" width="1.6" height="1.6" fill="#3a3ab0"/>
<rect x="107.9" y="279.7" width="8.5" height="7" fill="#e9e9e9" stroke="#bdbdbd" stroke-width="0.5"/>
<path d="M109.9,283.5 l1.5,1.6 l3.2,-4" stroke="#666" stroke-width="0.6" fill="none"/>
<rect x="117.4" y="279.7" width="8.5" height="7" fill="#e9e9e9" stroke="#bdbdbd" stroke-width="0.5"/>
<ellipse cx="121.65" cy="283.2" rx="1.8" ry="1.3" fill="none" stroke="#444" stroke-width="0.6"/>
<rect x="139" y="271.6" width="3" height="3" fill="#fff" stroke="#333" stroke-width="0.45"/>
<path d="M139.6,273.1 l0.8,0.9 l1.2,-1.8" stroke="#222" stroke-width="0.5" fill="none"/>
<text x="143.6" y="274.4" font-family="Liberation Sans, sans-serif" font-size="4.0" font-weight="normal" text-anchor="start" fill="#222" textLength="25" lengthAdjust="spacingAndGlyphs">Whole Section</text>
<rect x="139" y="277" width="3" height="3" fill="#fff" stroke="#333" stroke-width="0.45"/>
<path d="M139.6,278.5 l0.8,0.9 l1.2,-1.8" stroke="#222" stroke-width="0.5" fill="none"/>
<text x="143.6" y="279.8" font-family="Liberation Sans, sans-serif" font-size="4.0" font-weight="normal" text-anchor="start" fill="#222" textLength="10.5" lengthAdjust="spacingAndGlyphs">Range</text>
<rect x="139" y="282.4" width="3" height="3" fill="#fff" stroke="#333" stroke-width="0.45"/>
<path d="M139.6,283.9 l0.8,0.9 l1.2,-1.8" stroke="#222" stroke-width="0.5" fill="none"/>
<text x="143.6" y="285.2" font-family="Liberation Sans, sans-serif" font-size="4.0" font-weight="normal" text-anchor="start" fill="#222" textLength="23.5" lengthAdjust="spacingAndGlyphs">Current Trace</text>
<rect x="143.1" y="270.9" width="26.2" height="4.4" fill="none" stroke="#999" stroke-width="0.35" stroke-dasharray="0.5 0.5"/>
<line x1="174.6" y1="273.8" x2="182.8" y2="273.8" stroke="#f26b3a" stroke-width="0.9"/>
<text x="185.9" y="275.6" font-family="Liberation Sans, sans-serif" font-size="5.1" font-weight="normal" text-anchor="start" fill="#8a8a8a" >Section</text>
<line x1="174.6" y1="278.9" x2="182.8" y2="278.9" stroke="#22b573" stroke-width="0.9"/>
<text x="185.9" y="280.7" font-family="Liberation Sans, sans-serif" font-size="5.1" font-weight="normal" text-anchor="start" fill="#8a8a8a" >Range</text>
<line x1="174.6" y1="284" x2="182.8" y2="284" stroke="#5b4fc0" stroke-width="0.9"/>
<text x="185.9" y="285.8" font-family="Liberation Sans, sans-serif" font-size="5.1" font-weight="normal" text-anchor="start" fill="#8a8a8a" >Trace</text>
<circle cx="13.4" cy="295.5" r="1.9" fill="#f0a0a8" stroke="#8a8a8a" stroke-width="0.45"/>
<line x1="14.7" y1="296.8" x2="16.1" y2="298.2" stroke="#444" stroke-width="0.7"/>
<rect x="11.5" y="300.2" width="3.8" height="3.8" fill="#f6e0e0" stroke="#b44" stroke-width="0.5" stroke-dasharray="0.8 0.6"/>
<line x1="14.7" y1="303.4" x2="16" y2="304.7" stroke="#444" stroke-width="0.6"/>
<circle cx="13.4" cy="308.7" r="1.9" fill="#f0a0a8" stroke="#8a8a8a" stroke-width="0.45"/>
<line x1="14.7" y1="310" x2="16.1" y2="311.4" stroke="#444" stroke-width="0.7"/>
<circle cx="13.4" cy="315.3" r="1.9" fill="#e05060" stroke="#8a8a8a" stroke-width="0.45"/>
<line x1="14.7" y1="316.6" x2="16.1" y2="318" stroke="#444" stroke-width="0.7"/>
<path d="M11.8,323.7 l2.6,-2.8 l0.8,0.9 l-2.6,2.6 Z" fill="#222"/>
<line x1="12.4" y1="320.4" x2="14.9" y2="322.9" stroke="#444" stroke-width="0.6"/>
<rect x="18.8" y="291.4" width="246.4" height="152.8" fill="#ffffff" stroke="#b0b0b0" stroke-width="0.9"/>
<rect x="259.6" y="301.6" width="5.6" height="155.6" fill="#f0f0f0"/>
<rect x="260.5" y="305.4" width="3.8" height="138.4" fill="#cdcdcd"/>
<path d="M261.3,304.6 l1,-1 l1,1 Z" fill="#606060"/>
<path d="M261.1,448.2 l1.2,1.2 l1.2,-1.2 Z" fill="#606060"/>
<line x1="18.8" y1="444.4" x2="259.6" y2="444.4" stroke="#b4b4b4" stroke-width="1.3"/>
<line x1="33.4" y1="291.4" x2="33.4" y2="444.2" stroke="#333" stroke-width="0.9"/>
<line x1="18.8" y1="301.6" x2="265.2" y2="301.6" stroke="#555" stroke-width="1"/>
<text x="26.1" y="297.2" font-family="Liberation Sans, sans-serif" font-size="3.3" font-weight="normal" text-anchor="middle" fill="#444" font-style="italic">Amp</text>
<text x="59.85" y="297.4" font-family="Liberation Serif, serif" font-size="4.7" font-weight="bold" text-anchor="middle" fill="#333" >5</text>
<line x1="59.85" y1="300.4" x2="59.85" y2="301.6" stroke="#444" stroke-width="0.5"/>
<text x="87.1" y="297.4" font-family="Liberation Serif, serif" font-size="4.7" font-weight="bold" text-anchor="middle" fill="#333" >10</text>
<line x1="87.1" y1="300.4" x2="87.1" y2="301.6" stroke="#444" stroke-width="0.5"/>
<text x="114.35" y="297.4" font-family="Liberation Serif, serif" font-size="4.7" font-weight="bold" text-anchor="middle" fill="#333" >15</text>
<line x1="114.35" y1="300.4" x2="114.35" y2="301.6" stroke="#444" stroke-width="0.5"/>
<text x="141.6" y="297.4" font-family="Liberation Serif, serif" font-size="4.7" font-weight="bold" text-anchor="middle" fill="#333" >20</text>
<line x1="141.6" y1="300.4" x2="141.6" y2="301.6" stroke="#444" stroke-width="0.5"/>
<text x="168.85" y="297.4" font-family="Liberation Serif, serif" font-size="4.7" font-weight="bold" text-anchor="middle" fill="#333" >25</text>
<line x1="168.85" y1="300.4" x2="168.85" y2="301.6" stroke="#444" stroke-width="0.5"/>
<text x="196.1" y="297.4" font-family="Liberation Serif, serif" font-size="4.7" font-weight="bold" text-anchor="middle" fill="#333" >30</text>
<line x1="196.1" y1="300.4" x2="196.1" y2="301.6" stroke="#444" stroke-width="0.5"/>
<text x="223.35" y="297.4" font-family="Liberation Serif, serif" font-size="4.7" font-weight="bold" text-anchor="middle" fill="#333" >35</text>
<line x1="223.35" y1="300.4" x2="223.35" y2="301.6" stroke="#444" stroke-width="0.5"/>
<text x="250.6" y="297.4" font-family="Liberation Serif, serif" font-size="4.7" font-weight="bold" text-anchor="middle" fill="#333" >40</text>
<line x1="250.6" y1="300.4" x2="250.6" y2="301.6" stroke="#444" stroke-width="0.5"/>
<text x="29.6" y="431.9" font-family="Liberation Serif, serif" font-size="4.3" font-weight="bold" text-anchor="end" fill="#333" >10</text>
<line x1="32" y1="429.8" x2="33.4" y2="429.8" stroke="#444" stroke-width="0.5"/>
<text x="29.6" y="417.5" font-family="Liberation Serif, serif" font-size="4.3" font-weight="bold" text-anchor="end" fill="#333" >20</text>
<line x1="32" y1="415.4" x2="33.4" y2="415.4" stroke="#444" stroke-width="0.5"/>
<text x="29.6" y="403.1" font-family="Liberation Serif, serif" font-size="4.3" font-weight="bold" text-anchor="end" fill="#333" >30</text>
<line x1="32" y1="401" x2="33.4" y2="401" stroke="#444" stroke-width="0.5"/>
<text x="29.6" y="388.7" font-family="Liberation Serif, serif" font-size="4.3" font-weight="bold" text-anchor="end" fill="#333" >40</text>
<line x1="32" y1="386.6" x2="33.4" y2="386.6" stroke="#444" stroke-width="0.5"/>
<text x="29.6" y="374.3" font-family="Liberation Serif, serif" font-size="4.3" font-weight="bold" text-anchor="end" fill="#333" >50</text>
<line x1="32" y1="372.2" x2="33.4" y2="372.2" stroke="#444" stroke-width="0.5"/>
<text x="29.6" y="359.9" font-family="Liberation Serif, serif" font-size="4.3" font-weight="bold" text-anchor="end" fill="#333" >60</text>
<line x1="32" y1="357.8" x2="33.4" y2="357.8" stroke="#444" stroke-width="0.5"/>
<text x="29.6" y="345.5" font-family="Liberation Serif, serif" font-size="4.3" font-weight="bold" text-anchor="end" fill="#333" >70</text>
<line x1="32" y1="343.4" x2="33.4" y2="343.4" stroke="#444" stroke-width="0.5"/>
<text x="29.6" y="331.1" font-family="Liberation Serif, serif" font-size="4.3" font-weight="bold" text-anchor="end" fill="#333" >80</text>
<line x1="32" y1="329" x2="33.4" y2="329" stroke="#444" stroke-width="0.5"/>
<text x="29.6" y="316.7" font-family="Liberation Serif, serif" font-size="4.3" font-weight="bold" text-anchor="end" fill="#333" >90</text>
<line x1="32" y1="314.6" x2="33.4" y2="314.6" stroke="#444" stroke-width="0.5"/>
<path d="M33.5,443.93 L34.3,443.65 L35.1,444.04 L35.9,443.78 L36.7,443.92 L37.5,443.74 L38.3,444.1 L39.1,443.97 L39.9,443.84 L40.7,443.59 L41.5,443.76 L42.3,443.52 L43.1,443.86 L43.9,444.03 L44.7,443.61 L45.5,443.81 L46.3,443.79 L47.1,443.42 L47.9,443.18 L48.7,442.9 L49.5,442.33 L50.3,441.77 L51.1,441.64 L51.9,440.83 L52.7,440.66 L53.5,439.72 L54.3,438.42 L55.1,437.11 L55.9,435.37 L56.7,434.25 L57.5,432.76 L58.3,431.4 L59.1,429.57 L59.9,427.35 L60.7,424.38 L61.5,423.03 L62.3,420.2 L63.1,417.24 L63.9,413.54 L64.7,410.57 L65.5,405.98 L66.3,404.49 L67.1,400.96 L67.9,397.59 L68.7,396.14 L69.5,394.28 L70.3,391.05 L71.1,390.52 L71.9,388.89 L72.7,386.41 L73.5,385.94 L74.3,384.2 L75.1,381.66 L75.9,380.7 L76.7,377.44 L77.5,376.23 L78.3,371.12 L79.1,363.26 L79.9,356.96 L80.7,351.03 L81.5,346.17 L82.3,345.43 L83.1,342.5 L83.9,343.47 L84.7,345.43 L85.5,347.15 L86.3,347.44 L87.1,344.84 L87.9,341.59 L88.7,339.16 L89.5,340.85 L90.3,343.76 L91.1,347.22 L91.9,349.39 L92.7,347.68 L93.5,345.49 L94.3,341.03 L95.1,338.66 L95.9,337.37 L96.7,337.41 L97.5,338.61 L98.3,339.53 L99.1,340.39 L99.9,336.84 L100.7,332.89 L101.5,329.29 L102.3,326.94 L103.1,326.63 L103.9,326.12 L104.7,326.06 L105.5,324.01 L106.3,320.15 L107.1,317.3 L107.9,313.48 L108.7,310.05 L109.5,307.8 L110.3,305.34 L111.1,304.5 L111.9,302.74 L112.7,301.61 L113.5,302.58 L114.3,301.37 L115.1,303.01 L115.9,303.45 L116.7,305.81 L117.5,307.82 L118.3,308.84 L119.1,309.58 L119.9,311.6 L120.7,311.46 L121.5,313.38 L122.3,313.79 L123.1,314.89 L123.9,316.31 L124.7,318.73 L125.5,321.94 L126.3,324.88 L127.1,328.26 L127.9,332.85 L128.7,337.29 L129.5,342.22 L130.3,348.29 L131.1,351.76 L131.9,358.24 L132.7,362.66 L133.5,367.85 L134.3,372.67 L135.1,376.24 L135.9,380.92 L136.7,384.4 L137.5,388.64 L138.3,390.29 L139.1,393.3 L139.9,395.28 L140.7,393.66 L141.5,392.38 L142.3,391.26 L143.1,388.53 L143.9,386.48 L144.7,384.37 L145.5,381.81 L146.3,380.22 L147.1,377.2 L147.9,375.76 L148.7,375.78 L149.5,374 L150.3,374.61 L151.1,374.43 L151.9,374.15 L152.7,375.05 L153.5,373.97 L154.3,374.6 L155.1,374.35 L155.9,373.24 L156.7,373.23 L157.5,373.35 L158.3,374.44 L159.1,376.17 L159.9,378.09 L160.7,379.93 L161.5,381.03 L162.3,382.58 L163.1,382.48 L163.9,384.22 L164.7,385.49 L165.5,386.39 L166.3,387.88 L167.1,388.93 L167.9,391.78 L168.7,392.45 L169.5,394.62 L170.3,397.31 L171.1,397.98 L171.9,401.16 L172.7,400.99 L173.5,402.13 L174.3,404.04 L175.1,405.38 L175.9,407.69 L176.7,408.93 L177.5,410.02 L178.3,410.73 L179.1,412.13 L179.9,412.67 L180.7,414.84 L181.5,415.14 L182.3,416.03 L183.1,417.64 L183.9,417.73 L184.7,419 L185.5,421.07 L186.3,420.54 L187.1,421.53 L187.9,422.32 L188.7,423.09 L189.5,424.09 L190.3,424.46 L191.1,424.04 L191.9,423.09 L192.7,422.3 L193.5,422.19 L194.3,421.55 L195.1,422.53 L195.9,424.15 L196.7,423.8 L197.5,424.86 L198.3,425.09 L199.1,423.29 L199.9,423.12 L200.7,422.87 L201.5,424.48 L202.3,425.98 L203.1,425.98 L203.9,426.79 L204.7,426.25 L205.5,425.61 L206.3,426.44 L207.1,425.09 L207.9,424.98 L208.7,425.74 L209.5,425.79 L210.3,427.32 L211.1,427.48 L211.9,428.06 L212.7,428.57 L213.5,429.59 L214.3,429.82 L215.1,429.78 L215.9,429.3 L216.7,429.45 L217.5,429.85 L218.3,429 L219.1,429.14 L219.9,430.75 L220.7,429.21 L221.5,430.69 L222.3,430.24 L223.1,430.69 L223.9,429.2 L224.7,429.63 L225.5,430.53 L226.3,429.13 L227.1,429.33 L227.9,429.79 L228.7,429.49 L229.5,429.46 L230.3,430.42 L231.1,429.4 L231.9,431 L232.7,430.44 L233.5,429.38 L234.3,430.94 L235.1,429.79 L235.9,430.25 L236.7,430.43 L237.5,429.71 L238.3,430.4 L239.1,429.64 L239.9,429.92 L240.7,431.25 L241.5,431.11 L242.3,430.61 L243.1,430.93 L243.9,431.31 L244.7,430.03 L245.5,430.69 L246.3,430.08 L247.1,430.09 L247.9,430.11 L248.7,430.33 L249.5,430.08 L250.3,430.41 L251.1,430.74 L251.9,431.21 L252.7,431.67 L253.5,431.79 L254.3,431.49 L255.1,431.14 L255.9,431.91 L256.7,430.59 L257.5,430.52 L258.3,431.84" stroke="#ff4a4a" stroke-width="0.8" fill="none" stroke-linejoin="round"/>
<path d="M33.5,444.07 L34.3,444.07 L35.1,443.53 L35.9,443.55 L36.7,444 L37.5,443.94 L38.3,443.9 L39.1,443.68 L39.9,443.86 L40.7,443.86 L41.5,443.85 L42.3,443.6 L43.1,443.76 L43.9,443.74 L44.7,443.93 L45.5,444.1 L46.3,444.07 L47.1,443.55 L47.9,443.13 L48.7,442.66 L49.5,442.16 L50.3,441.79 L51.1,441.69 L51.9,441.24 L52.7,440.91 L53.5,440.38 L54.3,438.85 L55.1,437.56 L55.9,436.05 L56.7,434.61 L57.5,433.48 L58.3,431.89 L59.1,430.15 L59.9,428.48 L60.7,426.43 L61.5,423.72 L62.3,421.43 L63.1,418.16 L63.9,414.93 L64.7,411.99 L65.5,408.79 L66.3,405.79 L67.1,402.23 L67.9,399.96 L68.7,398.28 L69.5,395.87 L70.3,395.12 L71.1,393.62 L71.9,391.77 L72.7,390.28 L73.5,388.65 L74.3,387.6 L75.1,385.29 L75.9,383.75 L76.7,381.23 L77.5,379.93 L78.3,375.57 L79.1,368.22 L79.9,361.83 L80.7,356.25 L81.5,351.56 L82.3,349.4 L83.1,347.85 L83.9,348.7 L84.7,349.88 L85.5,349.96 L86.3,351.22 L87.1,348.3 L87.9,346.92 L88.7,344.04 L89.5,346.56 L90.3,348.57 L91.1,350.63 L91.9,352.95 L92.7,351.65 L93.5,348.87 L94.3,345.83 L95.1,343 L95.9,342.12 L96.7,342.83 L97.5,342.66 L98.3,342.21 L99.1,343.31 L99.9,340.96 L100.7,337.49 L101.5,332.94 L102.3,331.17 L103.1,330.01 L103.9,330.39 L104.7,328.55 L105.5,325.37 L106.3,323.02 L107.1,318.76 L107.9,315.72 L108.7,312.58 L109.5,308.77 L110.3,307.03 L111.1,306.14 L111.9,303.89 L112.7,302.82 L113.5,302.44 L114.3,303.28 L115.1,303.5 L115.9,305.51 L116.7,306.54 L117.5,309.33 L118.3,309.49 L119.1,311.55 L119.9,311.91 L120.7,313.4 L121.5,315.01 L122.3,315.07 L123.1,315.95 L123.9,317.41 L124.7,319.56 L125.5,322.66 L126.3,327.32 L127.1,329.82 L127.9,333.87 L128.7,339.09 L129.5,344.26 L130.3,349.26 L131.1,353.49 L131.9,358.97 L132.7,363.82 L133.5,369.53 L134.3,374.82 L135.1,378.79 L135.9,382.98 L136.7,386.81 L137.5,390.68 L138.3,392.41 L139.1,394.06 L139.9,395.69 L140.7,395.46 L141.5,393.41 L142.3,391.51 L143.1,390.28 L143.9,389.15 L144.7,385.99 L145.5,384.19 L146.3,381.61 L147.1,379.4 L147.9,377.59 L148.7,377.8 L149.5,376.19 L150.3,376.13 L151.1,375.9 L151.9,375.42 L152.7,376.07 L153.5,375.94 L154.3,376.34 L155.1,376.82 L155.9,377.09 L156.7,377.02 L157.5,377.66 L158.3,378.31 L159.1,379.79 L159.9,380.65 L160.7,381.64 L161.5,381.75 L162.3,383.15 L163.1,384.06 L163.9,385.61 L164.7,386.84 L165.5,388.61 L166.3,390.06 L167.1,391.07 L167.9,392.82 L168.7,394.67 L169.5,395.88 L170.3,397.74 L171.1,400.02 L171.9,401.38 L172.7,403.48 L173.5,404.27 L174.3,405.48 L175.1,406.95 L175.9,408.34 L176.7,409.65 L177.5,411.34 L178.3,412.59 L179.1,413.61 L179.9,415.08 L180.7,415.64 L181.5,417.55 L182.3,418.68 L183.1,419.42 L183.9,420.09 L184.7,421.21 L185.5,422.31 L186.3,422.7 L187.1,424.22 L187.9,425.6 L188.7,426.45 L189.5,427.6 L190.3,429.71 L191.1,428.85 L191.9,428.48 L192.7,428.41 L193.5,427.48 L194.3,426.79 L195.1,427.74 L195.9,427.12 L196.7,426.81 L197.5,427.72 L198.3,427.16 L199.1,427.54 L199.9,428.32 L200.7,428.26 L201.5,427.61 L202.3,428.27 L203.1,428.36 L203.9,428.55 L204.7,428.3 L205.5,428.84 L206.3,428.31 L207.1,428.65 L207.9,428.84 L208.7,429.82 L209.5,429.13 L210.3,430.28 L211.1,429.95 L211.9,430.75 L212.7,430.87 L213.5,431.18 L214.3,431.75 L215.1,431.54 L215.9,431.43 L216.7,431.65 L217.5,431.8 L218.3,432.73 L219.1,432.48 L219.9,432.87 L220.7,432.55 L221.5,431.75 L222.3,432.52 L223.1,432.67 L223.9,432.61 L224.7,432.34 L225.5,432.18 L226.3,432.3 L227.1,432.72 L227.9,432.09 L228.7,432.4 L229.5,432.35 L230.3,432.92 L231.1,432.75 L231.9,432.91 L232.7,432.8 L233.5,432.15 L234.3,432.08 L235.1,432.41 L235.9,432.14 L236.7,432.36 L237.5,432.67 L238.3,432.97 L239.1,432.59 L239.9,432.88 L240.7,432.02 L241.5,432.35 L242.3,433.13 L243.1,432.12 L243.9,432.46 L244.7,432.05 L245.5,432.09 L246.3,433.07 L247.1,433.2 L247.9,432.8 L248.7,432.19 L249.5,432.4 L250.3,432.34 L251.1,432.88 L251.9,432.9 L252.7,432.63 L253.5,432.74 L254.3,432.26 L255.1,432.79 L255.9,433.29 L256.7,433.07 L257.5,432.29 L258.3,432.81" stroke="#2ee05a" stroke-width="0.8" fill="none" stroke-linejoin="round"/>
<text x="228.7" y="325.6" font-family="Liberation Serif, serif" font-size="21.5" font-weight="bold" text-anchor="middle" fill="#000" >(d)</text>
<path d="M37.4,452.1 l-1.3,1.2 l1.3,1.2 Z" fill="#606060"/>
<rect x="39.7" y="451.6" width="18.5" height="3.8" fill="#cdcdcd"/>
<path d="M256,452.1 l1.3,1.2 l-1.3,1.2 Z" fill="#606060"/>
<line x1="8.9" y1="457" x2="265.5" y2="457" stroke="#dadada" stroke-width="0.6"/>
<line x1="8.9" y1="457.6" x2="265.5" y2="457.6" stroke="#ffffff" stroke-width="0.5"/>
<line x1="82.5" y1="457.5" x2="82.5" y2="461.3" stroke="#e2e2e2" stroke-width="0.5"/>
<line x1="117.5" y1="457.5" x2="117.5" y2="461.3" stroke="#e2e2e2" stroke-width="0.5"/>
<text x="84.3" y="460.8" font-family="Liberation Sans, sans-serif" font-size="4.4" font-weight="normal" text-anchor="start" fill="#222" >A=98</text>
<text x="121" y="460.8" font-family="Liberation Sans, sans-serif" font-size="4.4" font-weight="normal" text-anchor="start" fill="#222" >F=42</text>
<rect x="285.6" y="257.3" width="258.6" height="204.5" fill="#f0f0f0"/>
<path d="M285.6,461.8 L285.6,257.3 L544.2,257.3 L544.2,461.8" fill="none" stroke="#efb9a8" stroke-width="0.8"/>
<rect x="286" y="257.7" width="257.8" height="8.6" fill="#ffffff"/>
<rect x="288.5" y="259.7" width="6" height="2.3" fill="#2a35a8"/>
<rect x="288.5" y="262.5" width="6" height="1.2" fill="#6c7ad8"/>
<text x="296.4" y="263.5" font-family="Liberation Sans, sans-serif" font-size="4.9" font-weight="normal" text-anchor="start" fill="#333" >Spectrum</text>
<line x1="499.7" y1="261.9" x2="502.7" y2="261.9" stroke="#444" stroke-width="0.5"/>
<rect x="516.2" y="260.4" width="3" height="3" fill="none" stroke="#444" stroke-width="0.5"/>
<path d="M534.2,260.3 l3,3 M537.2,260.3 l-3,3" stroke="#444" stroke-width="0.5"/>
<rect x="287.4" y="269.6" width="119.8" height="18.8" fill="none" stroke="#d0d0d0" stroke-width="0.5"/>
<rect x="288.9" y="266.8" width="17.5" height="4" fill="#f0f0f0"/>
<text x="289.4" y="269.9" font-family="Liberation Sans, sans-serif" font-size="4.3" font-weight="normal" text-anchor="start" fill="#222" >Selection</text>
<rect x="288.1" y="272.6" width="29.7" height="3.6" fill="#ffffff" stroke="#7c7c7c" stroke-width="0.65"/>
<rect x="318.4" y="272.6" width="31.3" height="3.6" fill="#ffffff" stroke="#7c7c7c" stroke-width="0.65"/>
<rect x="350.3" y="272.6" width="30.4" height="3.6" fill="#ffffff" stroke="#7c7c7c" stroke-width="0.65"/>
<rect x="288.1" y="276.8" width="29.7" height="4.8" fill="#ececec" stroke="#7c7c7c" stroke-width="0.65"/>
<rect x="318.4" y="276.8" width="31.3" height="4.8" fill="#ffffff" stroke="#7c7c7c" stroke-width="0.65"/>
<rect x="350.3" y="276.8" width="30.4" height="4.8" fill="#ffffff" stroke="#7c7c7c" stroke-width="0.65"/>
<rect x="288.1" y="282.2" width="29.7" height="4" fill="#ececec" stroke="#7c7c7c" stroke-width="0.65"/>
<rect x="318.4" y="282.2" width="31.3" height="4" fill="#ffffff" stroke="#7c7c7c" stroke-width="0.65"/>
<rect x="350.3" y="282.2" width="30.4" height="4" fill="#ffffff" stroke="#7c7c7c" stroke-width="0.65"/>
<text x="319.3" y="275.6" font-family="Liberation Sans, sans-serif" font-size="3.6" font-weight="normal" text-anchor="start" fill="#333" >Min</text>
<text x="351.2" y="275.6" font-family="Liberation Sans, sans-serif" font-size="3.6" font-weight="normal" text-anchor="start" fill="#333" >Max</text>
<text x="289" y="280.4" font-family="Liberation Sans, sans-serif" font-size="3.6" font-weight="normal" text-anchor="start" fill="#222" >Time</text>
<text x="289" y="285.5" font-family="Liberation Sans, sans-serif" font-size="3.6" font-weight="normal" text-anchor="start" fill="#222" >Trace #</text>
<text x="319.3" y="280.4" font-family="Liberation Sans, sans-serif" font-size="3.6" font-weight="normal" text-anchor="start" fill="#333" >1573</text>
<text x="351.2" y="280.4" font-family="Liberation Sans, sans-serif" font-size="3.6" font-weight="normal" text-anchor="start" fill="#333" >5634</text>
<text x="319.3" y="285.5" font-family="Liberation Sans, sans-serif" font-size="3.6" font-weight="normal" text-anchor="start" fill="#333" >23</text>
<text x="351.2" y="285.5" font-family="Liberation Sans, sans-serif" font-size="3.6" font-weight="normal" text-anchor="start" fill="#333" >715</text>
<rect x="394.6" y="272.5" width="8.5" height="6" fill="#e9e9e9" stroke="#bdbdbd" stroke-width="0.5"/>
<rect x="397.1" y="273.7" width="3.6" height="3.4" fill="none" stroke="#d33" stroke-width="0.7"/>
<rect x="396.4" y="273.1" width="1.6" height="1.6" fill="#3a3ab0"/>
<rect x="385.1" y="279.7" width="8.5" height="7" fill="#e9e9e9" stroke="#bdbdbd" stroke-width="0.5"/>
<path d="M387.1,283.5 l1.5,1.6 l3.2,-4" stroke="#666" stroke-width="0.6" fill="none"/>
<rect x="394.6" y="279.7" width="8.5" height="7" fill="#e9e9e9" stroke="#bdbdbd" stroke-width="0.5"/>
<ellipse cx="398.85" cy="283.2" rx="1.8" ry="1.3" fill="none" stroke="#444" stroke-width="0.6"/>
<rect x="416.2" y="271.6" width="3" height="3" fill="#fff" stroke="#333" stroke-width="0.45"/>
<path d="M416.8,273.1 l0.8,0.9 l1.2,-1.8" stroke="#222" stroke-width="0.5" fill="none"/>
<text x="420.8" y="274.4" font-family="Liberation Sans, sans-serif" font-size="4.0" font-weight="normal" text-anchor="start" fill="#222" textLength="25" lengthAdjust="spacingAndGlyphs">Whole Section</text>
<rect x="416.2" y="277" width="3" height="3" fill="#fff" stroke="#333" stroke-width="0.45"/>
<path d="M416.8,278.5 l0.8,0.9 l1.2,-1.8" stroke="#222" stroke-width="0.5" fill="none"/>
<text x="420.8" y="279.8" font-family="Liberation Sans, sans-serif" font-size="4.0" font-weight="normal" text-anchor="start" fill="#222" textLength="10.5" lengthAdjust="spacingAndGlyphs">Range</text>
<rect x="416.2" y="282.4" width="3" height="3" fill="#fff" stroke="#333" stroke-width="0.45"/>
<path d="M416.8,283.9 l0.8,0.9 l1.2,-1.8" stroke="#222" stroke-width="0.5" fill="none"/>
<text x="420.8" y="285.2" font-family="Liberation Sans, sans-serif" font-size="4.0" font-weight="normal" text-anchor="start" fill="#222" textLength="23.5" lengthAdjust="spacingAndGlyphs">Current Trace</text>
<rect x="420.3" y="270.9" width="26.2" height="4.4" fill="none" stroke="#999" stroke-width="0.35" stroke-dasharray="0.5 0.5"/>
<line x1="451.8" y1="273.8" x2="460" y2="273.8" stroke="#f26b3a" stroke-width="0.9"/>
<text x="463.1" y="275.6" font-family="Liberation Sans, sans-serif" font-size="5.1" font-weight="normal" text-anchor="start" fill="#8a8a8a" >Section</text>
<line x1="451.8" y1="278.9" x2="460" y2="278.9" stroke="#22b573" stroke-width="0.9"/>
<text x="463.1" y="280.7" font-family="Liberation Sans, sans-serif" font-size="5.1" font-weight="normal" text-anchor="start" fill="#8a8a8a" >Range</text>
<line x1="451.8" y1="284" x2="460" y2="284" stroke="#5b4fc0" stroke-width="0.9"/>
<text x="463.1" y="285.8" font-family="Liberation Sans, sans-serif" font-size="5.1" font-weight="normal" text-anchor="start" fill="#8a8a8a" >Trace</text>
<circle cx="290.6" cy="295.5" r="1.9" fill="#f0a0a8" stroke="#8a8a8a" stroke-width="0.45"/>
<line x1="291.9" y1="296.8" x2="293.3" y2="298.2" stroke="#444" stroke-width="0.7"/>
<rect x="288.7" y="300.2" width="3.8" height="3.8" fill="#f6e0e0" stroke="#b44" stroke-width="0.5" stroke-dasharray="0.8 0.6"/>
<line x1="291.9" y1="303.4" x2="293.2" y2="304.7" stroke="#444" stroke-width="0.6"/>
<circle cx="290.6" cy="308.7" r="1.9" fill="#f0a0a8" stroke="#8a8a8a" stroke-width="0.45"/>
<line x1="291.9" y1="310" x2="293.3" y2="311.4" stroke="#444" stroke-width="0.7"/>
<circle cx="290.6" cy="315.3" r="1.9" fill="#e05060" stroke="#8a8a8a" stroke-width="0.45"/>
<line x1="291.9" y1="316.6" x2="293.3" y2="318" stroke="#444" stroke-width="0.7"/>
<path d="M289,323.7 l2.6,-2.8 l0.8,0.9 l-2.6,2.6 Z" fill="#222"/>
<line x1="289.6" y1="320.4" x2="292.1" y2="322.9" stroke="#444" stroke-width="0.6"/>
<rect x="296" y="291.4" width="247.4" height="152.8" fill="#ffffff" stroke="#b0b0b0" stroke-width="0.9"/>
<rect x="537.8" y="301.8" width="5.6" height="155.4" fill="#f0f0f0"/>
<rect x="538.7" y="305.6" width="3.8" height="138.2" fill="#cdcdcd"/>
<path d="M539.5,304.8 l1,-1 l1,1 Z" fill="#606060"/>
<path d="M539.3,448.2 l1.2,1.2 l1.2,-1.2 Z" fill="#606060"/>
<line x1="296" y1="444.4" x2="537.8" y2="444.4" stroke="#b4b4b4" stroke-width="1.3"/>
<line x1="310.8" y1="291.4" x2="310.8" y2="444.2" stroke="#333" stroke-width="0.9"/>
<line x1="296" y1="301.8" x2="543.4" y2="301.8" stroke="#555" stroke-width="1"/>
<text x="303.4" y="297.2" font-family="Liberation Sans, sans-serif" font-size="3.3" font-weight="normal" text-anchor="middle" fill="#444" font-style="italic">Amp</text>
<text x="338.2" y="297.4" font-family="Liberation Serif, serif" font-size="4.7" font-weight="bold" text-anchor="middle" fill="#333" >5</text>
<line x1="338.2" y1="300.6" x2="338.2" y2="301.8" stroke="#444" stroke-width="0.5"/>
<text x="365.2" y="297.4" font-family="Liberation Serif, serif" font-size="4.7" font-weight="bold" text-anchor="middle" fill="#333" >10</text>
<line x1="365.2" y1="300.6" x2="365.2" y2="301.8" stroke="#444" stroke-width="0.5"/>
<text x="392.2" y="297.4" font-family="Liberation Serif, serif" font-size="4.7" font-weight="bold" text-anchor="middle" fill="#333" >15</text>
<line x1="392.2" y1="300.6" x2="392.2" y2="301.8" stroke="#444" stroke-width="0.5"/>
<text x="419.2" y="297.4" font-family="Liberation Serif, serif" font-size="4.7" font-weight="bold" text-anchor="middle" fill="#333" >20</text>
<line x1="419.2" y1="300.6" x2="419.2" y2="301.8" stroke="#444" stroke-width="0.5"/>
<text x="446.2" y="297.4" font-family="Liberation Serif, serif" font-size="4.7" font-weight="bold" text-anchor="middle" fill="#333" >25</text>
<line x1="446.2" y1="300.6" x2="446.2" y2="301.8" stroke="#444" stroke-width="0.5"/>
<text x="473.2" y="297.4" font-family="Liberation Serif, serif" font-size="4.7" font-weight="bold" text-anchor="middle" fill="#333" >30</text>
<line x1="473.2" y1="300.6" x2="473.2" y2="301.8" stroke="#444" stroke-width="0.5"/>
<text x="500.2" y="297.4" font-family="Liberation Serif, serif" font-size="4.7" font-weight="bold" text-anchor="middle" fill="#333" >35</text>
<line x1="500.2" y1="300.6" x2="500.2" y2="301.8" stroke="#444" stroke-width="0.5"/>
<text x="527.2" y="297.4" font-family="Liberation Serif, serif" font-size="4.7" font-weight="bold" text-anchor="middle" fill="#333" >40</text>
<line x1="527.2" y1="300.6" x2="527.2" y2="301.8" stroke="#444" stroke-width="0.5"/>
<text x="307" y="432" font-family="Liberation Serif, serif" font-size="4.3" font-weight="bold" text-anchor="end" fill="#333" >10</text>
<line x1="309.4" y1="429.9" x2="310.8" y2="429.9" stroke="#444" stroke-width="0.5"/>
<text x="307" y="417.7" font-family="Liberation Serif, serif" font-size="4.3" font-weight="bold" text-anchor="end" fill="#333" >20</text>
<line x1="309.4" y1="415.6" x2="310.8" y2="415.6" stroke="#444" stroke-width="0.5"/>
<text x="307" y="403.4" font-family="Liberation Serif, serif" font-size="4.3" font-weight="bold" text-anchor="end" fill="#333" >30</text>
<line x1="309.4" y1="401.3" x2="310.8" y2="401.3" stroke="#444" stroke-width="0.5"/>
<text x="307" y="389.1" font-family="Liberation Serif, serif" font-size="4.3" font-weight="bold" text-anchor="end" fill="#333" >40</text>
<line x1="309.4" y1="387" x2="310.8" y2="387" stroke="#444" stroke-width="0.5"/>
<text x="307" y="374.8" font-family="Liberation Serif, serif" font-size="4.3" font-weight="bold" text-anchor="end" fill="#333" >50</text>
<line x1="309.4" y1="372.7" x2="310.8" y2="372.7" stroke="#444" stroke-width="0.5"/>
<text x="307" y="360.5" font-family="Liberation Serif, serif" font-size="4.3" font-weight="bold" text-anchor="end" fill="#333" >60</text>
<line x1="309.4" y1="358.4" x2="310.8" y2="358.4" stroke="#444" stroke-width="0.5"/>
<text x="307" y="346.2" font-family="Liberation Serif, serif" font-size="4.3" font-weight="bold" text-anchor="end" fill="#333" >70</text>
<line x1="309.4" y1="344.1" x2="310.8" y2="344.1" stroke="#444" stroke-width="0.5"/>
<text x="307" y="331.9" font-family="Liberation Serif, serif" font-size="4.3" font-weight="bold" text-anchor="end" fill="#333" >80</text>
<line x1="309.4" y1="329.8" x2="310.8" y2="329.8" stroke="#444" stroke-width="0.5"/>
<text x="307" y="317.6" font-family="Liberation Serif, serif" font-size="4.3" font-weight="bold" text-anchor="end" fill="#333" >90</text>
<line x1="309.4" y1="315.5" x2="310.8" y2="315.5" stroke="#444" stroke-width="0.5"/>
<path d="M311,441.2 L322,441 L330,440.2 L333.2,437.5 L336,434 L338.2,429.5 L340,423 L342,414 L343.5,404 L345.5,386.4 L347,378 L348.3,360 L349.7,342 L351,358.7 L352.5,339 L353.9,350 L355.2,325.5 L357.2,303.3 L358.3,344.46 L359.48,323.2 L360.66,342.36 L362.09,331.25 L363.19,353.79 L364.24,343.06 L365.7,352.96 L366.82,341.17 L368.32,356.12 L369.64,344.48 L370.67,364.84 L372.22,348.12 L373.33,359.35 L374.85,347.6 L376.04,367.22 L377.05,336.11 L377.98,375.83 L379.08,344.22 L380.22,364.77 L381.41,344.87 L382.5,378.06 L383.62,355.62 L384.59,351.09 L386.03,379.8 L387.16,357.17 L388.09,381.51 L389.66,383.14 L390.57,388.8 L392.02,388.73 L393.35,385.37 L394.38,371.66 L395.55,385.66 L396.46,371.44 L397.91,393.67 L398.87,385.36 L399.92,396.83 L400.94,383.19 L401.87,395.27 L403.47,380.16 L404.91,396.86 L406.14,398.14 L407.07,384.9 L408.59,395.41 L409.51,385.59 L410.56,399.64 L411.56,400.56 L412.85,396.16 L414.38,391.36 L415.8,400.64 L416.85,394.68 L418.4,391.34 L419.86,401.6 L421.13,394.7 L422.22,400.37 L423.17,400.23 L424.54,404.64 L425.53,400.68 L426.47,393.04 L427.77,402.41 L428.82,405.32 L429.73,402.01 L431.2,397.91 L432.48,398.96 L433.85,405.3 L435.29,404.99 L436.21,395.09 L437.45,403.45 L438.45,396.83 L439.72,406.95 L441.02,403.5 L442.54,406.82 L444.2,398.23 L445.51,403.07 L446.48,410.81 L447.72,394.99 L448.74,408.13 L450.36,399.05 L451.65,409 L452.75,402.85 L454.43,409.26 L455.58,403.08 L456.73,403.4 L457.98,408.86 L459.41,403.31 L460.46,410.71 L461.64,400.53 L462.69,405 L463.62,409.5 L465.16,404.89 L466.52,410.86 L468.02,415.55 L469.52,406.17 L471.15,411.4 L472.61,411.44 L474.01,405.64 L475.23,412.82 L476.15,408.58 L477.54,412.3 L478.57,409.33 L480.2,407.85 L481.31,412.61 L482.83,412.7 L484.48,409.93 L485.81,414.72 L486.85,406.61 L487.8,415.09 L489.26,414.81 L490.86,415.03 L492.33,409.88 L493.9,416.85 L495.01,415.04 L496.18,415.21 L497.77,412.44 L498.8,416.5 L500.14,411.33 L501.7,417.24 L503.34,416.3 L504.71,413.22 L505.85,411.66 L506.79,417.31 L508.22,416.91 L509.39,411.6 L510.99,412.41 L512.31,418.85 L513.78,413.36 L514.89,421.74 L516.34,417.79 L517.65,415.55 L519.04,418.01 L520.32,415.5 L521.82,413.57 L523.2,418.68 L524.7,420.51 L526.22,414.6 L527.15,420.94 L528.65,415.93 L529.81,420.83 L530.74,416.72 L531.75,407.36 L532.74,420.49 L534.34,412.47 L536.02,420.91 L537.02,415.4" stroke="#ff4a4a" stroke-width="0.8" fill="none" stroke-linejoin="round"/>
<path d="M311,441.5 L322,441.2 L330,440.6 L333.2,438.5 L336,435.5 L338.2,431.5 L340,426 L342,418 L343.5,408 L345,395 L347,381 L348.3,373 L349.7,370 L351,375 L352.5,364 L353.9,358.7 L355.2,350.4 L356.6,347.6 L358,361.5 L359.4,369.8 L360.5,362 L361.6,367 L363.5,375.3 L365,372 L366.3,378 L367.6,385 L369,392 L370.5,393 L371.9,397.5 L373.2,396 L374.6,400.3 L376,397 L377.4,398.9 L378.8,393 L380.2,394.7 L381.6,392 L383,396 L384.3,397.5 L385.6,395 L387,401.6 L388.5,400 L389.9,404.4 L391.5,401 L393,404 L395.4,405.8 L396.8,403 L398.2,408.6 L399.6,405 L401,405.8 L402.5,409 L404,407 L406.5,411.3 L408,409 L409.5,412 L411,406 L412,407.2 L413.5,411 L415,410 L416.3,413 L417.6,414.1 L419,411 L420.4,415 L421.8,413 L423.1,416.9 L424.5,412 L426,415 L427.3,411 L428.6,414.1 L430,417 L431.5,413 L432.8,416 L434.2,416.9 L435.6,411 L437,414 L438.3,410.5 L439.7,412.7 L441.1,407.77 L442.68,417.32 L443.84,416 L445.64,418.32 L446.77,417.98 L448.32,422.96 L449.86,412.07 L451.24,418.86 L452.85,415.4 L453.96,418.76 L455.1,416.06 L456.68,419.91 L458.48,414.28 L460.07,420.27 L461.31,416.54 L462.61,419.98 L463.7,418.15 L465.03,419.83 L466.77,417.6 L467.9,420.73 L469.49,418.79 L470.58,420.34 L471.93,418.48 L473.2,421.37 L474.96,421.07 L476.4,418.86 L477.78,421.21 L479.59,419.64 L480.61,422.34 L482.38,418.68 L483.58,421.76 L484.74,422.37 L486.52,418.92 L487.51,422.74 L488.55,415.91 L489.76,419.36 L490.91,423.56 L491.9,422.59 L493.24,421.21 L494.75,423.49 L495.78,420.81 L497.4,423.56 L498.88,421.76 L500.66,423.71 L502,421.73 L503.42,424.46 L504.54,421.66 L506.01,424.78 L507.56,425.13 L508.82,422.47 L510.07,424.79 L511.36,422.04 L513.01,422.87 L514.07,427.36 L515.05,425.85 L516.24,421.97 L517.59,426.21 L519.23,421.97 L520.57,422.88 L521.84,423.78 L523.13,426.84 L524.9,423.95 L525.95,426.71 L527.17,424.79 L528.79,427.59 L530.51,424.62 L532.27,427.97 L533.84,424.9 L535.31,424.69 L536.57,427.43" stroke="#2ee05a" stroke-width="0.8" fill="none" stroke-linejoin="round"/>
<text x="517" y="325.6" font-family="Liberation Serif, serif" font-size="21.5" font-weight="bold" text-anchor="middle" fill="#000" >(e)</text>
<path d="M314.8,452.1 l-1.3,1.2 l1.3,1.2 Z" fill="#606060"/>
<rect x="317.1" y="451.6" width="18.5" height="3.8" fill="#cdcdcd"/>
<path d="M534.2,452.1 l1.3,1.2 l-1.3,1.2 Z" fill="#606060"/>
<line x1="286.1" y1="457" x2="543.7" y2="457" stroke="#dadada" stroke-width="0.6"/>
<line x1="286.1" y1="457.6" x2="543.7" y2="457.6" stroke="#ffffff" stroke-width="0.5"/>
<line x1="359.5" y1="457.5" x2="359.5" y2="461.3" stroke="#e2e2e2" stroke-width="0.5"/>
<line x1="395" y1="457.5" x2="395" y2="461.3" stroke="#e2e2e2" stroke-width="0.5"/>
<text x="361" y="460.8" font-family="Liberation Sans, sans-serif" font-size="4.4" font-weight="normal" text-anchor="start" fill="#222" >A=44</text>
<text x="397" y="460.8" font-family="Liberation Sans, sans-serif" font-size="4.4" font-weight="normal" text-anchor="start" fill="#222" >F=23</text>
</svg>
</body></html>
